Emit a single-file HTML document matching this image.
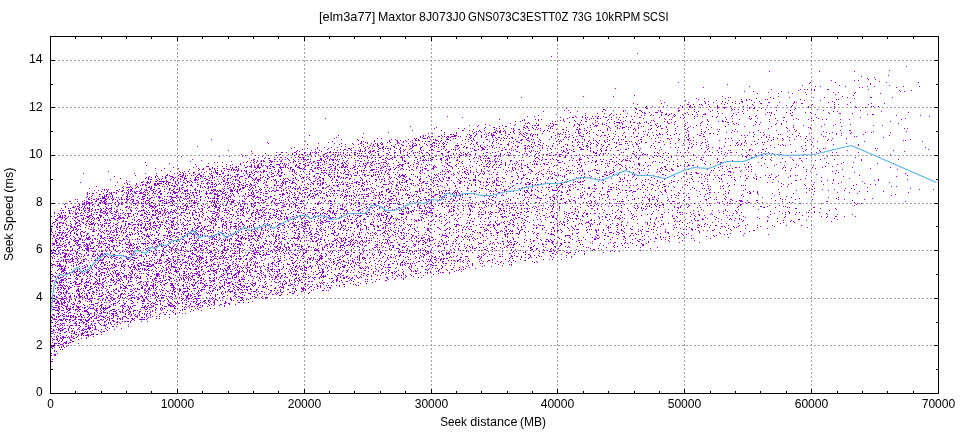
<!DOCTYPE html>
<html><head><meta charset="utf-8"><title>Seek plot</title>
<style>html,body{margin:0;padding:0;background:#fff;overflow:hidden}svg{display:block}text{font-family:"Liberation Sans",sans-serif;fill:#000}</style>
</head><body>
<svg width="960" height="432" viewBox="0 0 960 432">
<defs><filter id="gs" x="0" y="0" width="960" height="432" filterUnits="userSpaceOnUse" color-interpolation-filters="sRGB"><feColorMatrix type="saturate" values="0"/></filter></defs>
<rect width="960" height="432" fill="#fff"/>
<g shape-rendering="crispEdges" fill="none">
<path d="M177.5 36V393M304.5 36V393M431.5 36V393M557.5 36V393M684.5 36V393M811.5 36V393" stroke="#a0a0a0" stroke-width="1" stroke-dasharray="2 2"/>
<path d="M50 345.5H938M50 298.5H938M50 250.5H938M50 203.5H938M50 155.5H938M50 107.5H938M50 60.5H938" stroke="#a0a0a0" stroke-width="1" stroke-dasharray="2 2"/>
<path d="M75.5 394v-3M75.5 36v3M101.5 394v-3M101.5 36v3M126.5 394v-3M126.5 36v3M151.5 394v-3M151.5 36v3M177.5 394v-5M177.5 36v5M202.5 394v-3M202.5 36v3M228.5 394v-3M228.5 36v3M253.5 394v-3M253.5 36v3M278.5 394v-3M278.5 36v3M304.5 394v-5M304.5 36v5M329.5 394v-3M329.5 36v3M354.5 394v-3M354.5 36v3M380.5 394v-3M380.5 36v3M405.5 394v-3M405.5 36v3M431.5 394v-5M431.5 36v5M456.5 394v-3M456.5 36v3M481.5 394v-3M481.5 36v3M507.5 394v-3M507.5 36v3M532.5 394v-3M532.5 36v3M557.5 394v-5M557.5 36v5M583.5 394v-3M583.5 36v3M608.5 394v-3M608.5 36v3M634.5 394v-3M634.5 36v3M659.5 394v-3M659.5 36v3M684.5 394v-5M684.5 36v5M710.5 394v-3M710.5 36v3M735.5 394v-3M735.5 36v3M760.5 394v-3M760.5 36v3M786.5 394v-3M786.5 36v3M811.5 394v-5M811.5 36v5M837.5 394v-3M837.5 36v3M862.5 394v-3M862.5 36v3M887.5 394v-3M887.5 36v3M913.5 394v-3M913.5 36v3M50 369.5h3M939 369.5h-3M50 345.5h5M939 345.5h-5M50 322.5h3M939 322.5h-3M50 298.5h5M939 298.5h-5M50 274.5h3M939 274.5h-3M50 250.5h5M939 250.5h-5M50 226.5h3M939 226.5h-3M50 203.5h5M939 203.5h-5M50 179.5h3M939 179.5h-3M50 155.5h5M939 155.5h-5M50 131.5h3M939 131.5h-3M50 107.5h5M939 107.5h-5M50 84.5h3M939 84.5h-3M50 60.5h5M939 60.5h-5" stroke="#000" stroke-width="1"/>
<path d="M637 53.5h1M551 56.5h1M906 66.5h1M889 70.5h1M769 71.5h1m49 0h1m34 0h1M888 75.5h1M861 76.5h1M874 77.5h1M867 78.5h1M868 79.5h1m6 0h1M831 80.5h1m22 0h1m3 0h1M879 81.5h1M678 82.5h1m131 0h1m24 0h1m50 0h1m31 0h1M809 83.5h1m60 0h1M727 84.5h1m142 0h1M802 85.5h1m36 0h1m49 0h1M749 86.5h1m65 0h1m4 0h1m24 0h1m21 0h1m6 0h1m28 0h1m15 0h1M703 87.5h1m155 0h1m2 0h1m33 0h1M615 88.5h1M771 89.5h1m28 0h1m3 0h1m2 0h1m6 0h1m12 0h1h1m39 0h1M798 90.5h1m12 0h1m2 0h1m84 0h1m11 0h1M744 91.5h1m8 0h1m27 0h1m118 0h1m3 0h1M768 92.5h1m19 0h1m16 0h1m27 0h1m4 0h1m16 0h1M757 93.5h1m20 0h1m13 0h1m61 0h1m25 0h1M806 94.5h1m28 0h1M634 95.5h1m218 0h1M583 96.5h1m29 0h1m108 0h1m55 0h1m63 0h1M521 97.5h1m206 0h1m1 0h1m39 0h1m18 0h1m23 0h1m10 0h1m22 0h1m22 0h1h1m20 0h1M696 98.5h1m7 0h1m20 0h1m30 0h1m16 0h1m80 0h1M698 99.5h1m42 0h1m4 0h1m2 0h1m15 0h1m1 0h1m32 0h1m35 0h1m1 0h1M660 100.5h1m24 0h1m30 0h1m11 0h1m17 0h1m4 0h1m52 0h1m15 0h1M704 101.5h1m3 0h1m13 0h1m12 0h1m5 0h1h1m16 0h1m34 0h1m37 0h1M664 102.5h1m23 0h1m16 0h1m7 0h1m11 0h1m6 0h1m9 0h1m11 0h1m13 0h1h1m9 0h1m14 0h1m1 0h1m31 0h1m5 0h1m15 0h1M633 103.5h1m27 0h1m43 0h1m15 0h1m5 0h1m7 0h1m3 0h1m20 0h1h1m31 0h1m7 0h1h1m68 0h1m12 0h1M637 104.5h1m49 0h1h1m4 0h1m5 0h1m1 0h1m6 0h1m15 0h1m27 0h1m59 0h1m21 0h1m3 0h1m8 0h1m20 0h1M667 105.5h1m12 0h1m9 0h1m11 0h1m14 0h1m29 0h1m5 0h1m13 0h1m9 0h1m8 0h1m5 0h1m18 0h1M646 106.5h1m5 0h1m10 0h1m18 0h1m6 0h1h1m3 0h1m14 0h1m7 0h1m12 0h1m12 0h1m47 0h1m16 0h1m25 0h1m20 0h1m15 0h1m1 0h1m4 0h1M619 107.5h1m25 0h1m13 0h1m22 0h1m6 0h1m2 0h1m7 0h1m16 0h1h1m4 0h1h1h1m23 0h1m4 0h1m21 0h1m31 0h1m21 0h1m25 0h1m8 0h1M566 108.5h1m68 0h1h1m9 0h1h1m30 0h1m38 0h1m6 0h1m6 0h1m17 0h1m3 0h1h1m6 0h1m33 0h1m38 0h1M603 109.5h1h1m31 0h1m51 0h1m5 0h1m13 0h1m23 0h1m1 0h1m3 0h1m4 0h1m21 0h1m28 0h1m22 0h1M564 110.5h1m3 0h1m36 0h1m7 0h1m9 0h1m1 0h1m13 0h1h1m17 0h1m1 0h1m17 0h1h1m32 0h1m18 0h1m15 0h1m9 0h1m18 0h1m13 0h1m32 0h1m36 0h1M543 111.5h1m33 0h1m24 0h1m20 0h1m17 0h1m18 0h1m17 0h1m15 0h1m3 0h1m11 0h1m6 0h1m24 0h1m90 0h1m3 0h1m43 0h1M570 112.5h1m64 0h1m6 0h1m1 0h1m4 0h1m5 0h1h1h1m3 0h1h1m24 0h1m8 0h1m41 0h1m28 0h1m1 0h1m1 0h1m14 0h1m5 0h1m12 0h1m4 0h1m17 0h1m79 0h1M585 113.5h1m11 0h1m6 0h1m6 0h1m15 0h1m9 0h1m6 0h1h1m20 0h1m4 0h1m13 0h1m19 0h1m12 0h1m3 0h1m10 0h1m9 0h1m27 0h1m18 0h1m20 0h1m17 0h1m9 0h1h1m11 0h1M556 114.5h1m53 0h1m5 0h1m3 0h1m30 0h1m9 0h1m3 0h1h1m2 0h1m4 0h1m7 0h1m5 0h1m3 0h1m4 0h1m5 0h1h1h1m30 0h1m28 0h1m8 0h1m40 0h1m51 0h1m4 0h1h1M538 115.5h1m46 0h1m23 0h1m3 0h1m27 0h1m2 0h1m5 0h1m2 0h1m7 0h1m6 0h1m4 0h1m1 0h1m7 0h1m48 0h1m23 0h1m13 0h1m20 0h1h1m103 0h1m23 0h1M447 116.5h1m79 0h1m6 0h1m40 0h1m6 0h1m9 0h1m2 0h1m2 0h1m4 0h1m22 0h1m4 0h1m2 0h1m39 0h1m19 0h1m2 0h1m4 0h1m9 0h1m4 0h1m13 0h1m17 0h1m5 0h1m173 0h1M462 117.5h1m97 0h1m8 0h1m2 0h1h1m2 0h1m5 0h1m2 0h1m1 0h1m9 0h1m7 0h1h1m4 0h1m4 0h1m2 0h1m3 0h1m15 0h1h1m18 0h1m12 0h1m7 0h1m3 0h1m31 0h1m8 0h1m57 0h1h1m31 0h1m43 0h1M325 118.5h1m241 0h1m17 0h1m5 0h1m1 0h1m3 0h1h1m1 0h1m42 0h1m20 0h1m18 0h1m10 0h1m37 0h1m16 0h1m1 0h1m5 0h1m17 0h1m20 0h1m14 0h1m6 0h1m86 0h1M499 119.5h1m24 0h1m10 0h1m2 0h1m2 0h1m21 0h1m22 0h1m2 0h1m18 0h1m2 0h1m6 0h1m13 0h1m32 0h1m3 0h1m1 0h1m35 0h1m18 0h1m12 0h1m10 0h1m18 0h1m23 0h1m4 0h1m9 0h1m13 0h1m3 0h1m13 0h1m8 0h1m51 0h1M522 120.5h1m1 0h1m13 0h1m21 0h1m2 0h1m10 0h1m6 0h1m13 0h1m11 0h1m12 0h1m4 0h1m25 0h1m1 0h1m53 0h1m14 0h1m54 0h1m5 0h1m29 0h1M515 121.5h1m4 0h1m31 0h1m2 0h1m8 0h1m10 0h1m9 0h1h1m10 0h1m16 0h1m8 0h1m6 0h1m15 0h1m7 0h1m9 0h1m2 0h1m7 0h1m26 0h1m5 0h1m9 0h1m3 0h1h1m1 0h1m6 0h1m22 0h1m13 0h1m16 0h1m103 0h1M528 122.5h1m40 0h1m10 0h1m14 0h1m13 0h1m6 0h1h1h1h1m1 0h1m8 0h1m2 0h1h1m4 0h1m4 0h1m1 0h1m3 0h1m16 0h1m3 0h1m2 0h1m12 0h1m13 0h1m25 0h1h1m27 0h1m3 0h1m79 0h1M510 123.5h1m14 0h1m1 0h1m1 0h1m6 0h1m13 0h1m1 0h1m24 0h1m14 0h1m5 0h1m3 0h1m3 0h1m7 0h1m4 0h1m2 0h1m14 0h1m1 0h1h1m7 0h1m8 0h1m10 0h1h1m15 0h1m14 0h1m32 0h1m2 0h1m39 0h1m4 0h1m116 0h1M485 124.5h1m29 0h1m22 0h1m14 0h1m1 0h1h1m17 0h1m3 0h1h1m1 0h1m1 0h1m9 0h1m8 0h1m1 0h1m17 0h1m32 0h1m18 0h1m32 0h1m20 0h1m5 0h1m3 0h1m16 0h1m3 0h1m15 0h1m5 0h1m42 0h1m10 0h1m14 0h1M469 125.5h1m8 0h1m10 0h1m12 0h1m11 0h1m9 0h1m7 0h1m1 0h1h1m1 0h1h1m7 0h1m2 0h1m3 0h1m20 0h1m4 0h1m10 0h1m4 0h1h1h1m8 0h1m10 0h1m13 0h1m6 0h1m11 0h1h1m4 0h1m3 0h1m24 0h1m10 0h1m3 0h1m52 0h1m39 0h1m9 0h1m29 0h1m39 0h1m8 0h1M410 126.5h1m66 0h1m21 0h1m5 0h1h1m19 0h1h1m20 0h1m2 0h1h1m20 0h1m20 0h1m1 0h1m11 0h1m6 0h1m4 0h1m5 0h1m14 0h1m1 0h1m14 0h1m1 0h1m5 0h1m10 0h1m6 0h1m5 0h1m34 0h1m18 0h1m26 0h1m49 0h1m19 0h1M436 127.5h1m48 0h1m7 0h1h1m28 0h1h1m2 0h1m4 0h1m3 0h1m13 0h1m15 0h1m10 0h1m9 0h1m2 0h1m18 0h1m7 0h1m4 0h1h1h1m3 0h1m1 0h1m7 0h1m18 0h1m8 0h1m21 0h1m4 0h1m12 0h1m4 0h1m74 0h1m6 0h1m14 0h1m1 0h1M434 128.5h1m23 0h1m5 0h1m19 0h1m11 0h1m2 0h1m3 0h1m7 0h1m1 0h1m11 0h1m2 0h1m4 0h1m4 0h1m1 0h1m7 0h1m1 0h1m1 0h1m26 0h1m4 0h1m22 0h1m2 0h1m6 0h1m1 0h1m2 0h1m11 0h1m3 0h1m12 0h1m9 0h1h1m12 0h1m11 0h1m80 0h1m18 0h1m22 0h1m93 0h1m2 0h1M473 129.5h1m20 0h1m18 0h1m4 0h1h1m3 0h1m11 0h1m1 0h1m18 0h1m5 0h1h1m12 0h1h1m1 0h1h1m10 0h1m15 0h1m20 0h1m4 0h1m1 0h1m12 0h1m1 0h1m16 0h1m17 0h1m15 0h1m6 0h1m8 0h1m1 0h1m15 0h1m58 0h1M412 130.5h1m28 0h1m20 0h1h1m5 0h1m9 0h1m4 0h1m11 0h1m3 0h1m3 0h1m9 0h1m13 0h1h1m10 0h1m3 0h1m2 0h1m18 0h1m11 0h1m5 0h1m1 0h1m11 0h1m1 0h1m6 0h1m2 0h1m24 0h1m20 0h1m18 0h1m11 0h1m44 0h1m25 0h1m17 0h1m12 0h1m6 0h1m43 0h1m8 0h1h1M472 131.5h1m3 0h1m1 0h1m1 0h1m14 0h1m1 0h1m1 0h1h1m2 0h1m1 0h1m7 0h1m6 0h1m22 0h1m5 0h1m18 0h1m9 0h1m10 0h1m25 0h1m27 0h1m1 0h1m21 0h1m20 0h1m12 0h1m3 0h1m12 0h1m15 0h1m2 0h1m49 0h1m7 0h1m27 0h1m49 0h1m32 0h1M388 132.5h1m55 0h1m11 0h1m17 0h1m6 0h1m3 0h1m3 0h1m3 0h1h1h1m3 0h1h1m4 0h1m4 0h1m2 0h1m5 0h1m5 0h1m27 0h1m9 0h1m1 0h1m9 0h1m2 0h1m1 0h1m6 0h1m5 0h1m8 0h1h1m20 0h1m8 0h1m14 0h1m3 0h1m13 0h1m19 0h1m17 0h1m21 0h1m4 0h1m17 0h1m3 0h1m6 0h1m2 0h1m62 0h1m5 0h1m18 0h1m13 0h1m5 0h1m18 0h1M363 133.5h1m64 0h1m3 0h1m23 0h1m16 0h1m2 0h1m11 0h1m2 0h1m4 0h1m8 0h1m8 0h1m5 0h1m2 0h1m2 0h1h1m3 0h1m10 0h1m15 0h1m1 0h1m17 0h1h1m6 0h1m2 0h1m23 0h1m9 0h1m9 0h1m4 0h1m20 0h1m16 0h1m24 0h1m7 0h1h1m2 0h1m85 0h1m9 0h1m19 0h1m6 0h1m4 0h1m8 0h1M444 134.5h1m5 0h1h1m1 0h1m13 0h1m1 0h1m6 0h1m7 0h1m1 0h1m4 0h1m1 0h1m7 0h1m6 0h1h1m9 0h1m1 0h1m2 0h1m5 0h1m2 0h1m1 0h1m1 0h1m19 0h1m1 0h1m2 0h1m2 0h1m3 0h1m13 0h1m12 0h1m11 0h1m6 0h1m28 0h1m2 0h1m8 0h1m2 0h1h1m1 0h1m4 0h1m6 0h1m4 0h1m8 0h1m8 0h1m5 0h1m13 0h1m36 0h1m9 0h1m13 0h1m1 0h1m11 0h1m28 0h1m14 0h1m26 0h1M309 135.5h1m28 0h1m84 0h1m1 0h1m15 0h1m12 0h1h1h1m13 0h1h1m3 0h1m5 0h1m6 0h1m2 0h1h1h1h1m10 0h1m16 0h1m3 0h1m3 0h1m1 0h1m4 0h1m17 0h1m16 0h1m6 0h1h1m16 0h1m3 0h1m2 0h1h1m16 0h1m24 0h1m5 0h1m3 0h1m12 0h1m14 0h1m2 0h1m10 0h1h1m40 0h1m2 0h1m2 0h1m15 0h1m5 0h1m28 0h1m42 0h1m47 0h1M420 136.5h1m2 0h1m4 0h1m2 0h1h1m5 0h1h1m2 0h1m1 0h1m2 0h1h1m2 0h1h1h1h1h1m2 0h1m1 0h1m5 0h1m3 0h1m3 0h1m6 0h1m4 0h1m5 0h1m14 0h1m15 0h1h1m7 0h1m18 0h1m7 0h1m5 0h1m3 0h1m6 0h1m4 0h1h1h1m5 0h1m10 0h1m8 0h1m4 0h1m3 0h1m6 0h1m5 0h1m4 0h1h1m5 0h1m5 0h1m38 0h1m14 0h1h1m48 0h1m12 0h1m20 0h1m8 0h1m3 0h1m5 0h1m16 0h1m1 0h1m28 0h1m1 0h1M336 137.5h1m25 0h1m57 0h1m1 0h1m4 0h1m1 0h1m16 0h1m1 0h1m1 0h1m18 0h1m1 0h1m9 0h1m3 0h1m6 0h1m2 0h1m2 0h1h1m3 0h1m7 0h1h1m5 0h1m6 0h1m2 0h1m8 0h1m13 0h1m12 0h1m1 0h1m1 0h1m4 0h1m33 0h1m17 0h1m8 0h1m6 0h1m16 0h1m27 0h1m6 0h1m51 0h1m15 0h1m4 0h1m2 0h1m3 0h1m15 0h1m93 0h1M334 138.5h1m42 0h1m3 0h1m32 0h1m1 0h1m6 0h1h1h1m1 0h1m13 0h1m5 0h1m5 0h1m1 0h1m14 0h1m2 0h1m22 0h1m4 0h1m2 0h1m1 0h1m2 0h1m2 0h1m14 0h1h1m26 0h1m26 0h1m10 0h1m19 0h1m37 0h1m3 0h1m11 0h1h1m2 0h1m6 0h1m10 0h1m35 0h1m2 0h1m2 0h1m45 0h1m4 0h1m22 0h1m7 0h1m18 0h1m13 0h1M211 139.5h1m129 0h1m15 0h1m33 0h1m3 0h1m12 0h1m6 0h1m2 0h1m11 0h1m2 0h1m1 0h1m10 0h1h1h1m16 0h1m2 0h1m4 0h1m12 0h1h1m5 0h1m3 0h1m17 0h1m5 0h1h1m3 0h1m4 0h1m1 0h1m5 0h1m9 0h1m8 0h1m4 0h1m4 0h1m6 0h1m1 0h1m6 0h1m22 0h1m4 0h1m5 0h1m2 0h1m1 0h1m16 0h1h1m27 0h1m9 0h1m4 0h1m2 0h1h1m16 0h1m52 0h1m9 0h1m4 0h1m9 0h1m10 0h1m15 0h1m17 0h1m81 0h1M358 140.5h1m15 0h1m14 0h1m6 0h1h1m2 0h1m4 0h1m6 0h1m2 0h1h1m1 0h1h1m15 0h1h1h1m3 0h1m8 0h1m11 0h1m8 0h1m2 0h1m21 0h1m3 0h1m2 0h1m16 0h1h1m5 0h1h1m11 0h1m19 0h1m14 0h1m8 0h1m4 0h1m3 0h1m1 0h1m3 0h1m4 0h1m4 0h1m8 0h1m19 0h1m21 0h1m17 0h1m9 0h1m1 0h1m2 0h1m25 0h1m12 0h1m6 0h1m5 0h1m25 0h1m10 0h1m6 0h1m17 0h1m19 0h1m3 0h1m71 0h1m1 0h1M305 141.5h1m26 0h1m28 0h1m1 0h1m10 0h1m14 0h1m7 0h1m5 0h1m2 0h1m3 0h1m11 0h1m2 0h1m2 0h1h1m8 0h1m1 0h1m4 0h1m22 0h1m3 0h1m16 0h1m3 0h1m15 0h1m3 0h1m2 0h1h1m11 0h1m8 0h1m17 0h1m2 0h1m1 0h1m10 0h1m5 0h1m9 0h1m7 0h1m7 0h1m2 0h1m17 0h1h1m2 0h1m1 0h1m9 0h1m13 0h1m7 0h1m6 0h1m36 0h1m37 0h1m8 0h1m12 0h1m49 0h1m46 0h1m57 0h1M267 142.5h1m60 0h1m32 0h1m3 0h1m1 0h1m13 0h1m5 0h1m2 0h1m6 0h1h1m4 0h1m8 0h1m20 0h1h1m8 0h1m3 0h1m28 0h1h1m5 0h1m8 0h1m3 0h1m14 0h1m6 0h1h1m12 0h1m1 0h1m5 0h1m31 0h1m4 0h1m1 0h1m2 0h1m7 0h1m6 0h1m7 0h1m8 0h1m1 0h1m2 0h1m15 0h1m5 0h1m3 0h1h1m11 0h1h1m29 0h1m6 0h1m5 0h1m2 0h1m19 0h1m11 0h1m6 0h1m17 0h1m1 0h1m40 0h1m6 0h1M268 143.5h1m49 0h1m15 0h1m6 0h1m10 0h1m7 0h1h1m5 0h1m3 0h1m3 0h1m1 0h1m2 0h1m1 0h1m14 0h1m1 0h1m8 0h1m4 0h1m1 0h1m8 0h1m7 0h1m1 0h1m1 0h1m2 0h1m2 0h1m1 0h1m12 0h1m7 0h1m5 0h1m4 0h1m15 0h1m5 0h1m9 0h1m4 0h1m7 0h1m12 0h1m8 0h1m9 0h1m5 0h1m27 0h1m3 0h1m1 0h1m4 0h1m17 0h1m8 0h1m1 0h1m8 0h1m2 0h1m13 0h1m16 0h1m4 0h1m7 0h1m7 0h1m9 0h1m34 0h1m4 0h1m4 0h1m10 0h1m88 0h1M307 144.5h1m31 0h1m5 0h1m7 0h1m4 0h1m4 0h1m9 0h1m3 0h1m3 0h1h1m12 0h1m5 0h1m10 0h1m3 0h1m2 0h1m6 0h1m3 0h1h1m11 0h1m2 0h1m14 0h1m8 0h1m2 0h1m3 0h1m22 0h1h1m5 0h1h1m22 0h1m6 0h1h1m17 0h1m7 0h1m1 0h1m10 0h1m3 0h1m7 0h1m5 0h1m4 0h1m6 0h1h1m9 0h1h1h1m10 0h1m3 0h1h1m26 0h1m24 0h1m3 0h1m2 0h1m11 0h1m29 0h1m2 0h1m9 0h1m3 0h1m7 0h1m14 0h1m3 0h1m7 0h1m20 0h1m21 0h1m24 0h1M361 145.5h1m8 0h1m2 0h1m3 0h1h1m12 0h1m6 0h1m3 0h1h1m5 0h1m2 0h1m1 0h1h1h1m10 0h1m4 0h1m1 0h1m3 0h1m16 0h1h1h1h1m21 0h1m6 0h1m3 0h1m1 0h1m14 0h1m6 0h1m8 0h1h1m2 0h1m6 0h1m4 0h1m1 0h1m3 0h1m5 0h1m14 0h1m4 0h1m4 0h1m8 0h1h1m9 0h1m5 0h1m24 0h1m22 0h1m30 0h1m17 0h1m5 0h1m23 0h1m4 0h1m1 0h1m2 0h1m3 0h1m25 0h1m9 0h1m2 0h1m1 0h1m19 0h1m52 0h1M197 146.5h1m143 0h1m3 0h1m17 0h1m3 0h1m4 0h1m1 0h1m2 0h1m5 0h1m2 0h1m6 0h1h1m11 0h1m3 0h1m1 0h1h1m8 0h1m8 0h1h1m3 0h1m4 0h1m1 0h1h1m12 0h1m6 0h1m9 0h1m3 0h1m1 0h1m3 0h1m4 0h1m2 0h1m19 0h1m4 0h1h1m8 0h1m1 0h1m1 0h1m1 0h1m3 0h1m10 0h1m3 0h1m10 0h1m9 0h1m9 0h1m2 0h1m1 0h1m7 0h1m5 0h1m4 0h1m8 0h1m16 0h1m4 0h1m15 0h1m37 0h1m15 0h1m15 0h1m76 0h1m11 0h1M294 147.5h1m22 0h1m6 0h1m6 0h1m5 0h1m15 0h1m5 0h1m5 0h1m3 0h1m8 0h1m3 0h1h1m10 0h1m5 0h1m11 0h1m7 0h1h1m8 0h1m3 0h1m3 0h1m5 0h1m10 0h1m3 0h1m3 0h1m2 0h1h1m13 0h1h1m2 0h1m6 0h1m3 0h1m2 0h1m4 0h1m12 0h1m7 0h1m6 0h1m9 0h1m18 0h1m17 0h1h1m6 0h1m2 0h1m15 0h1m8 0h1m34 0h1m9 0h1m9 0h1m4 0h1m2 0h1m9 0h1m2 0h1m14 0h1m5 0h1m6 0h1m54 0h1m150 0h1M291 148.5h1m15 0h1m9 0h1m10 0h1m19 0h1h1m1 0h1m12 0h1m3 0h1m3 0h1m6 0h1h1m1 0h1m2 0h1m1 0h1h1m1 0h1m5 0h1m3 0h1m9 0h1h1m8 0h1m22 0h1m14 0h1m7 0h1m3 0h1m1 0h1m9 0h1h1m10 0h1m7 0h1m8 0h1m12 0h1h1m1 0h1m1 0h1m9 0h1m2 0h1m4 0h1m2 0h1m4 0h1m10 0h1m14 0h1m8 0h1m10 0h1m9 0h1m16 0h1m9 0h1m1 0h1m14 0h1m32 0h1m12 0h1m6 0h1m10 0h1m1 0h1m44 0h1m35 0h1m14 0h1m5 0h1m1 0h1m49 0h1m1 0h1M302 149.5h1m12 0h1m11 0h1m6 0h1m5 0h1m3 0h1h1m4 0h1m9 0h1m4 0h1m12 0h1m4 0h1m6 0h1m8 0h1m3 0h1m1 0h1m3 0h1m10 0h1m10 0h1h1m8 0h1m4 0h1m4 0h1m1 0h1m1 0h1m1 0h1m16 0h1m3 0h1m3 0h1h1h1m2 0h1m17 0h1h1m2 0h1m5 0h1m9 0h1m25 0h1m14 0h1m2 0h1m3 0h1m6 0h1h1h1h1m3 0h1m12 0h1m5 0h1m13 0h1m4 0h1h1m34 0h1m45 0h1m34 0h1m6 0h1h1m11 0h1h1m42 0h1m27 0h1m93 0h1M228 150.5h1m68 0h1m13 0h1m7 0h1m17 0h1m5 0h1m3 0h1m3 0h1m3 0h1m2 0h1m1 0h1m4 0h1m4 0h1m2 0h1h1m13 0h1m5 0h1m5 0h1m3 0h1m7 0h1m8 0h1m1 0h1m5 0h1m1 0h1m1 0h1m11 0h1m9 0h1m3 0h1m14 0h1h1h1m4 0h1m19 0h1h1m8 0h1m1 0h1m17 0h1m1 0h1m6 0h1m6 0h1m13 0h1m1 0h1m3 0h1m3 0h1m18 0h1m6 0h1m3 0h1m3 0h1h1m3 0h1m6 0h1h1m20 0h1m19 0h1m17 0h1m9 0h1m29 0h1m10 0h1m1 0h1m18 0h1m2 0h1m52 0h1m13 0h1m27 0h1m28 0h1m16 0h1M251 151.5h1m44 0h1m2 0h1m15 0h1m5 0h1m8 0h1m28 0h1h1m1 0h1m1 0h1m4 0h1h1m1 0h1h1m3 0h1h1m4 0h1m16 0h1m2 0h1m7 0h1m7 0h1m17 0h1h1h1m8 0h1h1m21 0h1m26 0h1m17 0h1h1m7 0h1m3 0h1m1 0h1m3 0h1m1 0h1m25 0h1h1m8 0h1h1m15 0h1m2 0h1m7 0h1m31 0h1m71 0h1m3 0h1m11 0h1m43 0h1m29 0h1m7 0h1m16 0h1m83 0h1M276 152.5h1m4 0h1h1m3 0h1m7 0h1h1m8 0h1h1m4 0h1m1 0h1m1 0h1m1 0h1m1 0h1m8 0h1m1 0h1h1m2 0h1m1 0h1h1m1 0h1m1 0h1m2 0h1m3 0h1m3 0h1m2 0h1h1m12 0h1m1 0h1m4 0h1m13 0h1m4 0h1h1m4 0h1m6 0h1m5 0h1m1 0h1m1 0h1m3 0h1m4 0h1h1m19 0h1h1m11 0h1m2 0h1m4 0h1m17 0h1h1m4 0h1m2 0h1m11 0h1m1 0h1m9 0h1m10 0h1m8 0h1m11 0h1m5 0h1m4 0h1m2 0h1m2 0h1m24 0h1h1m1 0h1m24 0h1m1 0h1m12 0h1m4 0h1m12 0h1m2 0h1m7 0h1m11 0h1m2 0h1m4 0h1m2 0h1m15 0h1m7 0h1m5 0h1m6 0h1m4 0h1h1m4 0h1m9 0h1m11 0h1m2 0h1m6 0h1m11 0h1m10 0h1m19 0h1m4 0h1m15 0h1m3 0h1m21 0h1M252 153.5h1m12 0h1m26 0h1m3 0h1m7 0h1m5 0h1m4 0h1h1m8 0h1h1m16 0h1m10 0h1m2 0h1m1 0h1m1 0h1m3 0h1m3 0h1m8 0h1m7 0h1h1m6 0h1m5 0h1m8 0h1m3 0h1m5 0h1m2 0h1m5 0h1m3 0h1m8 0h1h1m10 0h1m2 0h1m4 0h1m3 0h1m1 0h1m7 0h1m7 0h1m6 0h1m9 0h1m9 0h1m13 0h1m1 0h1m9 0h1m1 0h1m10 0h1m17 0h1h1m26 0h1h1m3 0h1m2 0h1m1 0h1m2 0h1m23 0h1h1m9 0h1m14 0h1m4 0h1m4 0h1m52 0h1m5 0h1m41 0h1m2 0h1M241 154.5h1m37 0h1h1m7 0h1m3 0h1m3 0h1m2 0h1m1 0h1h1m4 0h1m1 0h1h1m7 0h1m4 0h1h1m7 0h1h1m1 0h1m2 0h1m1 0h1m4 0h1m3 0h1m4 0h1h1m15 0h1m6 0h1m9 0h1m18 0h1m21 0h1m12 0h1m10 0h1m5 0h1m3 0h1m1 0h1h1m2 0h1h1m4 0h1m24 0h1m3 0h1m3 0h1m13 0h1m4 0h1m7 0h1m7 0h1m2 0h1h1m7 0h1h1m2 0h1h1h1m17 0h1m19 0h1m3 0h1m9 0h1m5 0h1m14 0h1m7 0h1m1 0h1h1m1 0h1m45 0h1m30 0h1m16 0h1m6 0h1m6 0h1m9 0h1m14 0h1h1m30 0h1m77 0h1M245 155.5h1m9 0h1m12 0h1m7 0h1m17 0h1m10 0h1m21 0h1m9 0h1m9 0h1m1 0h1m8 0h1m2 0h1m11 0h1m4 0h1m4 0h1m6 0h1m6 0h1m6 0h1m2 0h1m6 0h1m9 0h1m4 0h1m6 0h1m11 0h1m1 0h1m9 0h1h1m4 0h1m18 0h1m10 0h1m3 0h1m7 0h1h1m3 0h1m12 0h1m12 0h1m9 0h1h1m2 0h1m5 0h1m5 0h1m5 0h1m4 0h1m5 0h1m4 0h1m1 0h1m4 0h1m1 0h1m2 0h1m36 0h1m3 0h1m13 0h1m1 0h1m19 0h1m10 0h1m5 0h1m14 0h1m1 0h1m36 0h1m1 0h1m6 0h1m4 0h1m41 0h1m28 0h1m4 0h1M181 156.5h1m37 0h1m9 0h1m12 0h1m19 0h1m35 0h1m9 0h1m2 0h1m3 0h1m4 0h1m2 0h1m2 0h1m1 0h1m1 0h1m4 0h1m1 0h1m3 0h1m2 0h1m12 0h1m2 0h1m2 0h1h1h1m1 0h1m13 0h1m12 0h1m6 0h1m6 0h1m13 0h1h1m11 0h1m9 0h1h1m1 0h1m10 0h1m5 0h1m3 0h1m9 0h1h1m3 0h1m1 0h1m7 0h1h1m2 0h1m1 0h1m28 0h1m4 0h1m24 0h1h1m4 0h1m18 0h1m42 0h1m7 0h1m16 0h1m4 0h1m2 0h1m10 0h1m9 0h1m1 0h1m41 0h1m16 0h1m2 0h1h1m80 0h1M258 157.5h1m6 0h1m8 0h1m2 0h1m2 0h1h1m3 0h1m5 0h1m3 0h1m3 0h1h1m1 0h1h1m20 0h1m2 0h1m6 0h1m10 0h1m5 0h1m15 0h1m1 0h1m2 0h1m2 0h1m3 0h1h1m5 0h1m5 0h1m1 0h1h1m4 0h1h1h1m1 0h1m4 0h1m5 0h1h1m3 0h1m3 0h1m7 0h1h1m9 0h1m5 0h1m1 0h1m2 0h1m2 0h1m1 0h1m14 0h1m1 0h1m3 0h1m7 0h1m25 0h1m7 0h1m13 0h1h1m4 0h1m21 0h1h1m5 0h1m8 0h1m6 0h1m4 0h1m20 0h1m2 0h1m14 0h1m4 0h1m2 0h1m13 0h1m8 0h1m5 0h1m2 0h1m24 0h1m4 0h1m1 0h1m42 0h1m4 0h1h1m1 0h1m7 0h1m8 0h1m18 0h1m64 0h1M249 158.5h1m14 0h1m3 0h1h1m17 0h1m15 0h1m16 0h1h1m5 0h1m2 0h1m11 0h1m5 0h1m5 0h1m4 0h1m1 0h1m5 0h1m3 0h1m13 0h1m1 0h1m2 0h1h1m10 0h1m17 0h1m7 0h1m1 0h1m9 0h1h1m5 0h1m1 0h1m23 0h1m4 0h1m4 0h1m1 0h1m1 0h1h1h1m5 0h1m1 0h1m37 0h1m2 0h1m13 0h1m20 0h1m5 0h1m8 0h1m38 0h1m2 0h1m7 0h1m10 0h1m67 0h1m5 0h1m27 0h1m9 0h1m20 0h1m16 0h1h1m5 0h1m17 0h1M192 159.5h1m60 0h1h1m19 0h1h1m3 0h1m2 0h1m2 0h1m2 0h1m4 0h1m4 0h1m2 0h1m1 0h1h1h1m1 0h1h1m1 0h1m9 0h1h1m3 0h1m3 0h1m1 0h1h1h1m1 0h1m1 0h1m1 0h1m35 0h1m6 0h1h1m4 0h1h1m2 0h1m9 0h1m14 0h1m5 0h1m1 0h1m5 0h1h1m3 0h1m3 0h1h1m4 0h1h1m9 0h1m11 0h1m10 0h1m13 0h1m4 0h1m39 0h1m2 0h1m2 0h1h1m3 0h1m2 0h1m2 0h1m22 0h1h1h1m18 0h1m2 0h1m6 0h1h1m7 0h1m3 0h1m1 0h1m12 0h1m25 0h1m12 0h1m12 0h1m9 0h1h1m15 0h1m47 0h1m4 0h1m21 0h1m27 0h1m13 0h1m26 0h1m36 0h1M201 160.5h1m49 0h1m1 0h1m3 0h1m3 0h1m1 0h1m5 0h1h1m10 0h1m7 0h1m4 0h1m11 0h1m10 0h1h1h1m1 0h1m1 0h1m5 0h1m2 0h1h1m2 0h1m6 0h1m3 0h1m7 0h1m1 0h1h1m5 0h1m3 0h1m9 0h1m6 0h1m10 0h1m5 0h1m1 0h1m9 0h1m5 0h1m1 0h1h1h1m1 0h1m1 0h1m1 0h1m10 0h1m3 0h1m1 0h1m8 0h1h1m23 0h1m3 0h1m1 0h1m1 0h1m4 0h1m6 0h1m8 0h1h1m7 0h1m1 0h1m1 0h1m10 0h1m6 0h1m15 0h1h1m10 0h1m2 0h1m3 0h1m2 0h1m12 0h1m3 0h1m9 0h1m15 0h1m2 0h1h1h1m1 0h1m36 0h1m27 0h1m7 0h1m29 0h1m38 0h1m21 0h1m7 0h1m13 0h1m45 0h1M190 161.5h1m40 0h1m15 0h1m6 0h1m2 0h1m2 0h1h1m1 0h1h1m5 0h1h1h1m1 0h1m2 0h1m2 0h1h1m11 0h1m1 0h1m2 0h1m4 0h1m6 0h1m2 0h1h1m9 0h1m1 0h1m11 0h1m7 0h1m13 0h1h1m10 0h1h1m1 0h1m10 0h1m17 0h1h1m11 0h1m41 0h1m2 0h1m7 0h1m3 0h1m2 0h1m7 0h1m3 0h1h1m1 0h1m2 0h1h1m1 0h1m11 0h1m5 0h1m16 0h1m1 0h1m1 0h1m24 0h1m25 0h1m6 0h1h1m4 0h1h1m6 0h1m2 0h1m3 0h1m4 0h1m8 0h1m2 0h1m19 0h1m1 0h1m13 0h1m3 0h1m31 0h1m12 0h1m11 0h1m10 0h1m43 0h1m16 0h1M145 162.5h1m68 0h1m2 0h1m4 0h1m20 0h1m2 0h1m3 0h1m2 0h1m2 0h1m12 0h1m1 0h1m18 0h1m2 0h1m13 0h1m1 0h1m3 0h1m3 0h1h1m1 0h1m3 0h1m8 0h1m8 0h1m1 0h1m10 0h1m11 0h1h1m1 0h1m1 0h1m8 0h1m1 0h1h1h1m12 0h1m9 0h1m5 0h1m3 0h1m4 0h1m17 0h1m3 0h1m3 0h1h1m10 0h1m20 0h1m5 0h1m6 0h1m5 0h1m3 0h1m11 0h1m12 0h1m17 0h1m9 0h1h1h1m16 0h1m2 0h1m3 0h1m6 0h1m3 0h1m18 0h1m30 0h1m6 0h1m6 0h1m2 0h1m22 0h1m1 0h1m29 0h1m2 0h1h1m1 0h1m24 0h1m9 0h1m21 0h1m45 0h1m16 0h1m9 0h1M169 163.5h1m38 0h1m31 0h1m13 0h1m4 0h1m1 0h1m18 0h1m1 0h1m1 0h1m3 0h1m10 0h1h1m4 0h1m5 0h1m3 0h1m2 0h1m7 0h1m8 0h1m5 0h1h1m2 0h1m2 0h1m10 0h1m3 0h1m1 0h1m1 0h1m3 0h1m4 0h1m1 0h1h1m6 0h1m1 0h1m4 0h1m11 0h1m1 0h1h1m7 0h1h1m28 0h1h1m10 0h1m3 0h1m13 0h1m10 0h1m2 0h1m14 0h1m8 0h1m1 0h1m4 0h1m12 0h1m1 0h1m6 0h1h1m6 0h1m12 0h1m40 0h1m1 0h1m1 0h1m8 0h1m19 0h1h1m37 0h1m26 0h1m59 0h1m63 0h1m12 0h1m35 0h1m15 0h1M195 164.5h1m30 0h1m5 0h1m7 0h1m10 0h1m6 0h1m2 0h1m8 0h1h1m4 0h1h1h1h1m4 0h1m1 0h1m9 0h1m6 0h1h1m3 0h1m9 0h1m3 0h1m1 0h1m4 0h1h1m1 0h1m4 0h1h1m4 0h1m2 0h1m8 0h1m7 0h1m2 0h1m3 0h1m3 0h1m8 0h1m3 0h1m11 0h1h1m1 0h1h1m9 0h1m4 0h1m2 0h1m4 0h1m2 0h1m17 0h1m8 0h1m24 0h1m4 0h1m2 0h1m4 0h1m1 0h1m3 0h1h1m3 0h1m3 0h1m2 0h1m5 0h1m2 0h1m5 0h1m4 0h1m1 0h1m1 0h1h1m2 0h1m3 0h1m1 0h1h1m30 0h1h1m5 0h1m11 0h1m3 0h1m14 0h1m2 0h1h1m13 0h1m3 0h1h1m27 0h1m5 0h1m14 0h1m16 0h1m4 0h1m9 0h1m23 0h1m5 0h1m25 0h1m19 0h1m40 0h1M146 165.5h1m83 0h1m13 0h1m6 0h1m2 0h1m2 0h1h1m2 0h1m1 0h1m1 0h1m3 0h1m9 0h1m3 0h1m1 0h1m2 0h1m6 0h1h1m2 0h1m5 0h1m1 0h1h1m3 0h1m4 0h1h1m1 0h1m12 0h1m3 0h1m4 0h1h1m3 0h1m5 0h1m5 0h1m4 0h1h1m5 0h1h1m7 0h1m16 0h1h1m2 0h1h1m7 0h1m16 0h1m6 0h1m7 0h1m5 0h1h1m5 0h1m13 0h1m9 0h1m13 0h1m5 0h1m5 0h1m9 0h1m5 0h1m2 0h1h1m28 0h1m1 0h1m15 0h1m8 0h1m13 0h1m11 0h1m7 0h1m5 0h1m3 0h1m13 0h1m3 0h1m4 0h1m1 0h1m26 0h1m2 0h1m7 0h1h1m2 0h1h1m36 0h1m30 0h1m12 0h1m9 0h1m13 0h1m14 0h1M196 166.5h1m9 0h1h1h1m8 0h1m4 0h1m3 0h1m9 0h1m1 0h1m8 0h1m1 0h1h1h1m2 0h1m2 0h1h1m3 0h1m3 0h1h1m2 0h1m1 0h1h1m6 0h1m4 0h1m9 0h1m2 0h1m6 0h1m24 0h1h1m3 0h1m5 0h1m1 0h1m1 0h1h1m7 0h1h1m2 0h1m1 0h1m1 0h1m2 0h1m3 0h1m12 0h1m1 0h1h1m1 0h1m1 0h1m9 0h1m2 0h1m5 0h1m4 0h1m3 0h1m7 0h1m7 0h1m1 0h1m8 0h1m5 0h1h1m4 0h1m3 0h1m2 0h1m8 0h1m10 0h1h1m1 0h1h1m1 0h1m2 0h1m26 0h1m7 0h1m13 0h1m11 0h1m14 0h1m5 0h1m6 0h1m26 0h1m13 0h1m24 0h1m16 0h1h1m11 0h1h1m5 0h1m2 0h1m9 0h1m22 0h1m1 0h1m3 0h1m21 0h1m2 0h1m73 0h1m6 0h1M173 167.5h1m19 0h1m18 0h1m17 0h1m1 0h1m2 0h1h1m8 0h1h1m4 0h1m2 0h1h1m1 0h1h1h1h1m6 0h1m5 0h1h1m4 0h1h1h1h1h1m1 0h1m1 0h1m2 0h1h1m5 0h1h1h1m4 0h1m6 0h1m3 0h1m1 0h1h1h1m3 0h1m4 0h1h1m5 0h1m3 0h1m1 0h1h1m1 0h1h1m1 0h1m5 0h1h1m10 0h1m4 0h1m5 0h1m1 0h1m2 0h1m1 0h1m9 0h1m2 0h1m1 0h1m10 0h1m6 0h1m3 0h1m1 0h1m10 0h1h1m1 0h1m9 0h1m5 0h1m13 0h1m3 0h1m17 0h1m3 0h1m3 0h1m1 0h1m1 0h1m7 0h1m3 0h1m1 0h1m6 0h1m5 0h1h1m5 0h1m14 0h1m10 0h1m19 0h1m24 0h1m7 0h1m11 0h1m3 0h1m2 0h1m28 0h1m3 0h1m52 0h1m16 0h1h1m2 0h1m5 0h1m2 0h1m18 0h1m15 0h1m1 0h1m9 0h1m7 0h1m8 0h1m9 0h1m29 0h1m37 0h1M155 168.5h1m8 0h1m13 0h1m19 0h1m4 0h1m5 0h1m2 0h1m1 0h1m2 0h1m5 0h1h1m1 0h1m5 0h1m5 0h1m17 0h1m2 0h1m7 0h1m1 0h1h1m9 0h1m7 0h1m1 0h1m8 0h1h1h1m1 0h1m10 0h1h1m1 0h1m2 0h1h1m3 0h1m5 0h1m2 0h1h1m14 0h1m1 0h1m4 0h1m6 0h1m15 0h1h1m4 0h1m3 0h1m4 0h1m5 0h1h1m13 0h1m7 0h1h1h1m5 0h1h1m18 0h1m5 0h1m5 0h1m19 0h1m27 0h1m2 0h1m5 0h1h1m43 0h1m10 0h1m42 0h1m5 0h1m10 0h1m6 0h1m15 0h1m1 0h1m8 0h1m42 0h1m7 0h1m6 0h1m2 0h1m49 0h1m8 0h1m23 0h1m54 0h1M189 169.5h1m9 0h1m2 0h1h1m5 0h1h1m3 0h1m12 0h1h1h1m1 0h1m1 0h1h1m1 0h1m1 0h1m16 0h1m18 0h1m3 0h1m2 0h1m8 0h1m1 0h1h1m8 0h1m1 0h1h1m4 0h1h1m6 0h1m11 0h1m4 0h1m1 0h1m6 0h1m2 0h1m6 0h1h1m15 0h1h1h1h1m1 0h1m11 0h1h1h1m3 0h1m5 0h1m2 0h1m2 0h1m4 0h1h1m9 0h1m2 0h1m7 0h1m11 0h1m1 0h1m14 0h1m3 0h1m9 0h1m4 0h1m12 0h1h1m7 0h1m8 0h1m2 0h1m2 0h1m10 0h1h1m12 0h1m4 0h1m14 0h1m18 0h1m11 0h1h1m17 0h1m5 0h1m6 0h1m8 0h1m3 0h1m8 0h1m8 0h1m7 0h1h1m4 0h1h1m15 0h1m18 0h1m19 0h1m18 0h1m4 0h1m54 0h1m35 0h1m54 0h1M161 170.5h1m36 0h1m16 0h1m1 0h1m3 0h1m2 0h1m6 0h1m1 0h1m1 0h1m1 0h1h1m2 0h1m2 0h1m1 0h1m6 0h1m9 0h1h1m6 0h1m6 0h1m2 0h1m10 0h1m1 0h1m17 0h1m8 0h1m1 0h1h1m1 0h1m2 0h1m2 0h1m1 0h1m3 0h1m5 0h1m3 0h1m10 0h1m1 0h1m1 0h1h1m1 0h1m3 0h1h1h1m7 0h1m1 0h1m3 0h1m2 0h1m8 0h1m10 0h1m3 0h1m6 0h1m1 0h1m4 0h1h1m13 0h1m6 0h1m17 0h1m2 0h1m10 0h1m5 0h1m1 0h1m16 0h1m2 0h1m3 0h1m17 0h1m9 0h1m18 0h1m6 0h1h1m1 0h1m1 0h1m6 0h1m2 0h1m9 0h1m3 0h1h1m1 0h1m13 0h1m27 0h1m1 0h1m17 0h1m5 0h1m4 0h1h1m37 0h1m1 0h1m5 0h1m21 0h1m43 0h1m4 0h1m45 0h1M108 171.5h1m61 0h1m8 0h1m4 0h1m3 0h1m17 0h1m4 0h1m3 0h1m5 0h1m6 0h1m8 0h1m3 0h1m3 0h1h1m4 0h1m3 0h1h1m1 0h1m1 0h1m2 0h1h1m1 0h1m8 0h1m2 0h1h1m9 0h1m2 0h1m1 0h1m5 0h1m2 0h1m5 0h1m2 0h1h1m31 0h1m3 0h1m7 0h1m3 0h1m14 0h1m1 0h1m6 0h1m34 0h1m21 0h1m1 0h1m2 0h1h1m1 0h1m8 0h1m4 0h1h1m4 0h1m5 0h1m4 0h1m1 0h1m4 0h1m18 0h1m3 0h1m8 0h1m1 0h1m8 0h1h1m6 0h1m7 0h1m1 0h1m1 0h1m14 0h1m10 0h1m2 0h1m1 0h1m5 0h1m1 0h1m15 0h1m3 0h1m3 0h1m8 0h1m4 0h1h1m8 0h1m18 0h1m1 0h1m9 0h1m54 0h1m3 0h1h1h1m9 0h1m7 0h1m2 0h1m54 0h1m3 0h1m21 0h1M180 172.5h1m1 0h1m10 0h1h1m6 0h1m2 0h1m8 0h1m1 0h1h1h1m5 0h1m10 0h1m11 0h1m2 0h1m1 0h1m2 0h1m2 0h1m3 0h1m1 0h1m5 0h1m1 0h1m6 0h1m2 0h1h1m11 0h1m1 0h1m24 0h1h1m1 0h1h1m3 0h1m1 0h1m2 0h1m2 0h1m2 0h1m3 0h1m3 0h1m6 0h1m1 0h1m5 0h1m5 0h1m3 0h1m1 0h1m2 0h1m2 0h1m3 0h1m2 0h1m4 0h1m3 0h1m21 0h1m2 0h1m17 0h1m7 0h1m8 0h1m4 0h1m1 0h1m2 0h1m2 0h1m2 0h1m3 0h1m6 0h1m8 0h1m3 0h1m7 0h1m10 0h1m11 0h1m9 0h1m15 0h1m15 0h1m25 0h1m7 0h1m1 0h1m2 0h1m2 0h1h1m5 0h1m13 0h1m5 0h1m8 0h1m7 0h1m3 0h1m25 0h1m4 0h1m3 0h1h1m13 0h1m19 0h1m2 0h1m104 0h1m15 0h1M83 173.5h1m50 0h1m10 0h1m10 0h1m17 0h1m2 0h1m5 0h1m1 0h1m3 0h1m3 0h1m5 0h1m9 0h1m1 0h1m4 0h1h1m4 0h1h1m19 0h1m2 0h1m5 0h1m19 0h1h1m3 0h1m3 0h1m13 0h1m13 0h1m6 0h1h1h1m4 0h1m2 0h1m10 0h1m3 0h1m1 0h1m9 0h1m3 0h1m23 0h1m5 0h1m32 0h1m3 0h1m13 0h1m6 0h1m7 0h1m4 0h1m6 0h1m2 0h1m11 0h1m1 0h1m1 0h1m32 0h1m12 0h1m5 0h1m4 0h1m4 0h1m2 0h1m2 0h1m16 0h1m3 0h1m5 0h1m4 0h1m12 0h1h1m11 0h1h1m27 0h1m46 0h1m9 0h1h1h1m136 0h1m69 0h1M167 174.5h1m11 0h1h1m2 0h1m11 0h1m2 0h1h1m3 0h1m6 0h1m6 0h1m1 0h1h1m7 0h1m7 0h1h1h1m8 0h1m1 0h1h1m3 0h1m5 0h1m6 0h1m3 0h1m6 0h1m5 0h1m7 0h1m3 0h1m4 0h1m4 0h1m2 0h1m10 0h1m7 0h1h1h1m3 0h1m10 0h1h1h1h1m1 0h1m11 0h1m1 0h1h1m7 0h1m1 0h1m1 0h1m1 0h1m4 0h1m3 0h1h1m5 0h1m3 0h1m2 0h1m2 0h1m5 0h1m1 0h1m20 0h1m1 0h1m3 0h1m1 0h1m1 0h1m6 0h1m2 0h1m11 0h1m1 0h1m4 0h1m5 0h1m3 0h1m5 0h1m1 0h1m4 0h1h1m8 0h1m16 0h1m1 0h1m9 0h1m2 0h1m3 0h1h1m7 0h1m2 0h1m3 0h1m7 0h1m17 0h1m19 0h1h1m3 0h1m3 0h1m4 0h1m5 0h1m7 0h1m1 0h1m12 0h1m14 0h1h1m10 0h1m11 0h1m3 0h1h1m9 0h1m3 0h1m3 0h1m12 0h1m1 0h1m30 0h1m15 0h1m44 0h1M135 175.5h1m20 0h1m9 0h1h1m1 0h1m8 0h1m3 0h1h1m1 0h1m1 0h1m3 0h1m1 0h1m3 0h1m2 0h1h1m9 0h1h1m12 0h1m1 0h1h1m1 0h1m6 0h1m6 0h1m4 0h1m3 0h1m6 0h1m6 0h1m6 0h1m1 0h1m2 0h1h1h1m11 0h1m5 0h1m14 0h1m9 0h1m3 0h1m8 0h1m10 0h1m2 0h1m2 0h1h1h1m2 0h1m4 0h1m2 0h1h1m2 0h1m1 0h1m1 0h1m23 0h1m1 0h1h1h1h1m23 0h1m6 0h1m1 0h1m15 0h1m7 0h1m13 0h1m2 0h1m38 0h1m5 0h1h1m30 0h1h1m1 0h1m1 0h1m3 0h1m16 0h1m7 0h1m16 0h1h1m9 0h1m10 0h1m5 0h1m2 0h1m6 0h1m8 0h1m11 0h1m7 0h1m33 0h1m1 0h1m4 0h1m2 0h1m3 0h1m6 0h1m1 0h1m14 0h1m19 0h1m3 0h1m8 0h1m11 0h1m4 0h1m1 0h1m8 0h1m52 0h1m47 0h1M114 176.5h1m34 0h1m5 0h1m1 0h1m4 0h1m2 0h1m4 0h1h1h1m7 0h1h1h1m2 0h1m10 0h1m3 0h1h1m1 0h1m1 0h1m2 0h1m3 0h1m3 0h1m2 0h1m1 0h1m2 0h1m7 0h1m1 0h1h1m1 0h1m2 0h1h1h1m5 0h1h1h1m12 0h1m4 0h1m2 0h1h1h1m5 0h1h1m19 0h1m6 0h1m5 0h1h1m4 0h1m9 0h1m1 0h1m2 0h1m2 0h1h1h1m11 0h1m13 0h1m5 0h1h1m5 0h1m1 0h1m2 0h1m5 0h1m8 0h1m1 0h1m2 0h1h1m1 0h1m8 0h1m1 0h1m2 0h1m8 0h1m8 0h1m5 0h1m30 0h1m35 0h1h1m5 0h1m24 0h1m6 0h1m11 0h1m1 0h1m19 0h1m6 0h1m10 0h1h1m29 0h1m24 0h1m10 0h1m4 0h1m8 0h1m8 0h1m11 0h1m35 0h1m7 0h1m7 0h1m19 0h1m13 0h1m52 0h1m52 0h1M146 177.5h1m1 0h1m2 0h1m3 0h1m9 0h1h1m5 0h1h1m1 0h1m6 0h1m1 0h1m10 0h1m1 0h1h1m3 0h1m7 0h1m1 0h1m1 0h1m8 0h1m7 0h1m3 0h1m3 0h1m8 0h1m2 0h1m4 0h1m3 0h1m1 0h1m2 0h1m3 0h1m25 0h1m6 0h1h1m2 0h1m2 0h1m6 0h1m2 0h1h1m9 0h1m3 0h1m3 0h1m2 0h1m1 0h1m2 0h1h1m12 0h1m17 0h1m10 0h1m1 0h1m2 0h1m4 0h1m5 0h1m11 0h1m8 0h1m4 0h1m2 0h1m1 0h1m5 0h1m3 0h1m1 0h1h1m6 0h1m5 0h1m1 0h1m1 0h1m8 0h1m6 0h1m9 0h1m4 0h1h1m3 0h1m15 0h1m4 0h1m13 0h1m10 0h1m3 0h1m11 0h1m11 0h1m3 0h1m1 0h1m7 0h1m8 0h1m19 0h1m4 0h1m7 0h1m18 0h1m47 0h1m1 0h1m13 0h1m2 0h1m12 0h1m2 0h1m18 0h1m6 0h1m7 0h1m1 0h1m4 0h1m12 0h1m32 0h1M120 178.5h1m24 0h1m2 0h1m9 0h1m3 0h1m2 0h1m5 0h1m2 0h1m3 0h1m1 0h1m3 0h1h1h1m3 0h1m4 0h1m4 0h1m3 0h1h1m3 0h1m2 0h1m11 0h1m2 0h1h1m1 0h1m8 0h1m5 0h1h1m5 0h1m2 0h1h1m3 0h1m6 0h1h1m14 0h1m1 0h1m1 0h1m4 0h1h1m1 0h1m5 0h1m1 0h1m4 0h1m6 0h1m2 0h1m3 0h1h1m8 0h1m7 0h1m2 0h1m1 0h1m3 0h1h1m10 0h1m7 0h1m14 0h1m5 0h1m5 0h1m5 0h1h1m5 0h1m10 0h1m12 0h1m5 0h1m3 0h1m4 0h1h1m10 0h1m4 0h1m2 0h1m18 0h1m1 0h1m6 0h1m6 0h1h1m16 0h1h1m3 0h1h1m5 0h1m2 0h1m11 0h1m2 0h1h1m27 0h1m2 0h1m11 0h1m15 0h1m8 0h1m3 0h1m11 0h1m17 0h1m9 0h1m16 0h1m9 0h1m13 0h1m13 0h1m1 0h1m24 0h1h1m6 0h1m1 0h1m48 0h1m43 0h1M110 179.5h1m37 0h1m1 0h1h1m4 0h1m2 0h1m1 0h1m8 0h1m2 0h1m3 0h1m2 0h1m3 0h1m9 0h1h1h1m1 0h1m7 0h1h1m9 0h1m4 0h1m4 0h1m5 0h1m1 0h1h1m16 0h1m1 0h1m1 0h1h1h1m7 0h1m5 0h1m1 0h1m4 0h1m3 0h1m3 0h1m7 0h1m9 0h1m2 0h1m7 0h1m5 0h1m8 0h1m3 0h1m12 0h1m4 0h1m7 0h1m12 0h1h1m2 0h1m1 0h1h1m5 0h1m8 0h1m6 0h1m4 0h1h1m8 0h1h1m9 0h1h1m7 0h1m3 0h1m14 0h1m14 0h1h1h1m11 0h1m8 0h1m20 0h1m3 0h1m7 0h1m7 0h1m2 0h1m6 0h1m8 0h1m10 0h1m28 0h1m2 0h1m2 0h1m17 0h1m1 0h1m12 0h1m9 0h1m2 0h1m15 0h1m22 0h1m4 0h1m14 0h1m5 0h1m7 0h1m12 0h1m21 0h1m16 0h1m26 0h1m32 0h1m44 0h1m28 0h1M126 180.5h1m30 0h1m8 0h1m6 0h1m3 0h1m5 0h1m2 0h1m3 0h1m3 0h1h1m1 0h1m7 0h1m2 0h1h1m1 0h1m2 0h1m8 0h1h1m2 0h1m7 0h1m1 0h1h1m6 0h1m6 0h1m1 0h1m2 0h1h1m1 0h1m3 0h1m6 0h1m2 0h1h1m7 0h1m5 0h1h1m2 0h1m4 0h1m5 0h1m5 0h1m4 0h1m3 0h1h1m2 0h1m7 0h1m4 0h1h1m22 0h1m1 0h1m3 0h1m9 0h1m7 0h1m17 0h1m3 0h1h1m4 0h1m6 0h1m13 0h1m1 0h1m1 0h1m2 0h1m6 0h1h1m2 0h1m7 0h1m9 0h1h1m2 0h1h1h1m2 0h1m15 0h1m1 0h1h1m15 0h1m18 0h1m4 0h1m24 0h1m10 0h1m10 0h1m18 0h1m23 0h1m2 0h1m11 0h1m7 0h1m6 0h1m13 0h1m6 0h1m56 0h1m9 0h1m49 0h1h1m14 0h1m15 0h1m5 0h1m40 0h1m3 0h1M129 181.5h1m13 0h1m3 0h1m2 0h1m4 0h1h1m2 0h1h1h1h1h1h1m1 0h1h1m7 0h1m4 0h1m6 0h1h1m2 0h1m9 0h1h1m15 0h1m4 0h1h1m7 0h1m6 0h1m8 0h1m9 0h1m7 0h1m9 0h1m1 0h1m3 0h1m2 0h1h1h1m4 0h1m9 0h1m10 0h1h1m2 0h1m2 0h1m21 0h1m9 0h1m3 0h1h1m8 0h1m2 0h1m5 0h1m5 0h1m2 0h1m4 0h1m2 0h1h1m5 0h1m5 0h1h1m13 0h1m2 0h1h1m2 0h1m5 0h1m4 0h1m2 0h1h1m14 0h1m2 0h1h1m2 0h1m14 0h1h1m5 0h1m5 0h1m1 0h1m3 0h1m1 0h1m4 0h1m6 0h1m54 0h1m7 0h1m1 0h1m2 0h1m1 0h1h1m14 0h1m6 0h1m13 0h1h1m2 0h1m3 0h1m17 0h1m11 0h1m4 0h1m10 0h1h1m11 0h1m6 0h1m4 0h1m5 0h1m2 0h1m11 0h1m2 0h1m55 0h1m42 0h1m40 0h1M80 182.5h1m36 0h1m8 0h1m14 0h1h1m3 0h1h1h1m1 0h1m12 0h1m2 0h1m1 0h1h1h1m4 0h1m2 0h1m4 0h1h1m2 0h1m1 0h1m2 0h1m2 0h1m1 0h1m9 0h1h1m2 0h1h1m8 0h1m4 0h1h1h1m1 0h1m8 0h1h1m4 0h1m8 0h1m1 0h1m7 0h1m1 0h1m9 0h1m5 0h1h1m1 0h1m3 0h1m2 0h1h1h1m7 0h1m8 0h1m10 0h1h1m1 0h1m6 0h1m2 0h1m1 0h1m1 0h1m1 0h1m3 0h1m1 0h1m6 0h1h1h1m1 0h1h1m2 0h1m1 0h1m2 0h1m12 0h1m9 0h1m6 0h1m1 0h1m1 0h1h1m1 0h1m1 0h1m15 0h1h1m8 0h1m20 0h1m5 0h1h1m6 0h1m7 0h1m4 0h1m2 0h1m2 0h1h1m1 0h1m3 0h1h1m7 0h1m9 0h1m8 0h1m5 0h1h1m3 0h1m3 0h1m8 0h1m9 0h1m8 0h1m1 0h1m6 0h1m4 0h1h1h1m21 0h1m38 0h1m18 0h1m10 0h1m5 0h1m11 0h1m77 0h1m4 0h1m41 0h1m26 0h1m47 0h1M124 183.5h1m2 0h1m8 0h1m10 0h1m1 0h1m4 0h1h1m1 0h1h1h1h1h1m3 0h1m2 0h1m3 0h1m2 0h1m2 0h1m6 0h1m15 0h1m1 0h1m2 0h1h1m1 0h1m2 0h1m2 0h1m3 0h1m5 0h1m2 0h1m3 0h1m1 0h1m2 0h1m5 0h1m6 0h1m6 0h1m5 0h1m12 0h1m4 0h1m1 0h1m1 0h1m5 0h1h1m2 0h1m11 0h1m4 0h1h1m3 0h1h1m1 0h1m1 0h1h1m19 0h1m5 0h1m1 0h1h1m3 0h1m5 0h1h1m8 0h1m16 0h1m1 0h1m7 0h1m10 0h1h1m1 0h1m5 0h1m1 0h1m3 0h1h1h1m5 0h1m12 0h1m7 0h1m4 0h1h1m8 0h1m22 0h1m3 0h1m13 0h1m5 0h1h1m2 0h1m4 0h1m3 0h1h1m10 0h1m8 0h1m1 0h1m7 0h1h1m41 0h1m8 0h1m16 0h1m19 0h1m6 0h1m12 0h1m31 0h1h1m24 0h1m53 0h1m9 0h1m40 0h1m5 0h1m25 0h1M127 184.5h1m1 0h1m6 0h1m5 0h1h1m1 0h1m8 0h1h1m1 0h1h1m4 0h1m2 0h1m1 0h1m7 0h1m5 0h1m8 0h1m5 0h1h1m8 0h1m3 0h1h1m1 0h1m1 0h1m1 0h1m1 0h1m2 0h1m1 0h1m1 0h1m3 0h1m1 0h1m4 0h1h1m1 0h1m4 0h1h1m2 0h1h1m3 0h1m9 0h1m8 0h1m7 0h1m2 0h1m10 0h1m7 0h1m3 0h1m1 0h1m2 0h1m3 0h1m2 0h1m1 0h1m3 0h1m11 0h1m1 0h1m1 0h1h1m2 0h1h1m10 0h1h1m4 0h1m2 0h1m2 0h1m12 0h1h1h1h1m1 0h1m3 0h1m3 0h1m3 0h1m6 0h1m3 0h1m5 0h1m12 0h1m5 0h1h1m9 0h1m23 0h1m3 0h1m4 0h1m7 0h1m7 0h1m4 0h1m23 0h1h1m1 0h1h1m2 0h1m2 0h1m1 0h1h1m1 0h1m8 0h1m11 0h1h1m7 0h1m1 0h1m2 0h1m4 0h1m1 0h1m11 0h1m21 0h1m20 0h1m5 0h1m7 0h1h1m10 0h1h1m20 0h1m21 0h1m26 0h1m48 0h1m4 0h1m15 0h1m8 0h1m9 0h1m32 0h1m13 0h1m4 0h1M115 185.5h1m19 0h1m4 0h1m1 0h1m2 0h1h1m7 0h1h1h1m2 0h1m9 0h1m1 0h1h1m1 0h1m2 0h1m3 0h1h1m4 0h1m2 0h1h1m8 0h1m15 0h1m12 0h1m4 0h1m4 0h1m2 0h1h1m1 0h1m3 0h1m1 0h1m1 0h1h1m11 0h1h1m6 0h1h1m1 0h1h1m1 0h1m1 0h1m18 0h1m17 0h1h1m8 0h1m3 0h1h1m1 0h1h1m8 0h1m3 0h1m10 0h1h1m13 0h1m19 0h1h1m4 0h1m10 0h1m1 0h1m2 0h1m2 0h1m4 0h1m7 0h1m5 0h1m6 0h1m7 0h1m8 0h1m3 0h1m2 0h1m3 0h1m7 0h1m2 0h1h1m5 0h1m2 0h1h1h1h1m13 0h1m18 0h1m23 0h1m3 0h1m7 0h1m4 0h1m20 0h1h1m22 0h1m3 0h1m3 0h1m3 0h1m2 0h1m2 0h1m5 0h1m1 0h1m8 0h1m5 0h1m27 0h1m15 0h1m19 0h1m5 0h1m11 0h1m1 0h1m1 0h1m59 0h1m47 0h1M96 186.5h1m26 0h1m6 0h1m6 0h1m11 0h1m1 0h1m10 0h1m1 0h1m2 0h1m5 0h1h1h1m10 0h1m5 0h1m4 0h1m2 0h1m3 0h1m3 0h1m1 0h1m1 0h1m1 0h1h1m8 0h1m2 0h1m6 0h1m2 0h1h1m6 0h1m1 0h1m2 0h1m4 0h1m2 0h1m22 0h1m6 0h1m1 0h1m4 0h1m3 0h1m10 0h1m16 0h1h1m8 0h1h1m8 0h1h1m4 0h1m2 0h1m4 0h1m1 0h1m14 0h1m3 0h1m8 0h1m4 0h1m8 0h1m1 0h1m20 0h1m4 0h1m3 0h1h1m3 0h1m12 0h1m29 0h1m5 0h1m11 0h1m4 0h1m3 0h1m13 0h1m24 0h1m7 0h1m2 0h1m6 0h1h1m37 0h1m48 0h1m6 0h1h1m2 0h1m4 0h1m34 0h1m1 0h1m9 0h1m1 0h1m5 0h1m52 0h1m5 0h1m24 0h1m78 0h1m4 0h1M122 187.5h1m3 0h1h1h1h1m1 0h1m4 0h1m1 0h1m7 0h1m1 0h1h1m1 0h1m2 0h1m24 0h1m2 0h1h1m16 0h1m1 0h1m2 0h1m2 0h1m1 0h1m1 0h1m16 0h1h1m2 0h1m4 0h1m3 0h1h1h1m4 0h1m2 0h1m2 0h1m8 0h1m2 0h1m3 0h1m4 0h1m2 0h1h1m5 0h1m3 0h1m2 0h1m5 0h1m3 0h1m1 0h1h1m11 0h1m3 0h1h1m2 0h1m4 0h1m18 0h1m20 0h1m9 0h1m1 0h1m14 0h1m2 0h1m7 0h1m11 0h1m22 0h1m14 0h1m7 0h1m11 0h1m30 0h1m11 0h1m1 0h1h1m6 0h1m4 0h1m4 0h1m3 0h1m1 0h1h1m6 0h1m1 0h1m3 0h1m2 0h1m2 0h1m6 0h1m6 0h1m5 0h1h1m12 0h1m7 0h1h1m1 0h1m2 0h1m12 0h1m12 0h1m4 0h1m14 0h1m11 0h1m7 0h1m9 0h1m174 0h1M89 188.5h1m33 0h1m8 0h1m2 0h1m5 0h1m8 0h1h1m6 0h1h1m6 0h1m2 0h1h1m3 0h1m4 0h1m1 0h1m13 0h1m11 0h1h1m13 0h1m1 0h1m2 0h1h1m4 0h1m6 0h1m1 0h1h1m7 0h1m1 0h1m6 0h1m8 0h1m3 0h1m7 0h1m3 0h1m2 0h1m3 0h1m1 0h1h1m1 0h1h1m1 0h1m6 0h1h1m4 0h1m1 0h1m6 0h1h1m1 0h1m6 0h1m6 0h1m8 0h1h1m9 0h1m2 0h1m3 0h1h1h1m3 0h1m1 0h1m13 0h1m2 0h1m3 0h1m8 0h1m14 0h1m3 0h1m2 0h1m3 0h1m18 0h1m6 0h1m10 0h1h1m12 0h1h1m2 0h1m9 0h1m4 0h1m8 0h1m4 0h1m4 0h1m1 0h1m6 0h1m44 0h1m10 0h1m3 0h1h1m2 0h1m1 0h1m1 0h1m5 0h1m15 0h1m19 0h1m13 0h1m5 0h1m35 0h1m7 0h1m1 0h1m3 0h1m11 0h1m2 0h1m82 0h1m2 0h1m4 0h1m30 0h1m5 0h1m58 0h1M102 189.5h1m1 0h1m1 0h1m1 0h1m10 0h1m8 0h1m1 0h1h1m9 0h1m2 0h1m1 0h1m3 0h1m2 0h1h1m9 0h1m4 0h1m3 0h1m2 0h1h1m1 0h1m2 0h1m4 0h1m6 0h1h1m15 0h1m1 0h1h1h1m7 0h1m6 0h1h1m3 0h1m1 0h1m1 0h1h1m7 0h1m1 0h1m8 0h1m1 0h1m3 0h1m10 0h1m6 0h1m11 0h1m1 0h1m2 0h1m4 0h1h1m6 0h1m15 0h1h1m12 0h1m2 0h1m8 0h1m2 0h1m3 0h1m1 0h1m1 0h1m2 0h1m5 0h1m10 0h1h1h1m7 0h1h1m2 0h1m1 0h1m2 0h1m3 0h1m9 0h1m2 0h1m5 0h1h1m8 0h1m47 0h1m1 0h1m7 0h1m7 0h1m1 0h1m12 0h1m11 0h1m3 0h1m12 0h1m3 0h1m4 0h1m11 0h1m7 0h1h1m16 0h1m12 0h1m1 0h1h1m4 0h1m2 0h1m17 0h1m2 0h1m4 0h1m5 0h1m13 0h1m24 0h1m19 0h1m34 0h1m32 0h1m33 0h1m9 0h1m11 0h1m19 0h1m64 0h1m13 0h1M94 190.5h1m3 0h1m5 0h1m2 0h1m8 0h1h1m4 0h1h1m3 0h1m2 0h1h1m8 0h1m4 0h1h1h1m3 0h1h1m3 0h1m3 0h1m8 0h1m1 0h1h1m6 0h1m4 0h1h1h1h1m2 0h1m4 0h1m1 0h1m1 0h1m3 0h1m4 0h1m2 0h1h1m1 0h1h1m1 0h1m1 0h1h1m3 0h1m5 0h1h1h1m1 0h1m2 0h1m1 0h1m9 0h1m2 0h1m2 0h1h1m3 0h1m7 0h1m3 0h1h1m2 0h1h1h1m2 0h1m1 0h1m2 0h1m2 0h1m12 0h1h1m6 0h1h1m4 0h1h1m1 0h1h1m12 0h1h1m2 0h1h1h1m3 0h1m1 0h1m7 0h1m9 0h1h1m1 0h1m6 0h1m12 0h1m3 0h1m7 0h1m1 0h1m2 0h1m1 0h1m1 0h1m11 0h1m2 0h1h1m6 0h1m5 0h1m6 0h1m1 0h1h1m1 0h1h1m5 0h1m1 0h1m9 0h1m8 0h1m13 0h1m4 0h1m6 0h1m1 0h1h1m14 0h1m3 0h1m1 0h1h1m3 0h1h1m4 0h1m3 0h1m10 0h1h1h1h1h1m2 0h1m7 0h1m1 0h1h1m51 0h1m2 0h1h1m3 0h1h1m15 0h1m7 0h1m8 0h1h1m5 0h1m8 0h1m15 0h1m9 0h1m2 0h1m19 0h1m13 0h1m52 0h1m12 0h1m18 0h1m15 0h1M101 191.5h1m5 0h1m10 0h1m2 0h1h1m5 0h1m1 0h1m1 0h1m1 0h1m1 0h1h1m1 0h1m4 0h1m4 0h1m3 0h1m1 0h1m3 0h1h1m3 0h1m8 0h1h1m3 0h1m1 0h1m3 0h1h1m1 0h1m11 0h1m1 0h1m4 0h1m6 0h1m2 0h1m1 0h1m1 0h1h1m1 0h1m6 0h1h1h1m3 0h1h1m3 0h1m10 0h1m5 0h1m6 0h1h1m2 0h1m1 0h1m2 0h1h1m5 0h1m8 0h1m6 0h1m12 0h1m3 0h1h1m5 0h1m6 0h1m2 0h1m2 0h1m6 0h1m1 0h1m3 0h1m1 0h1m7 0h1m2 0h1m10 0h1m9 0h1h1m3 0h1m2 0h1h1m2 0h1m21 0h1h1h1m1 0h1h1m10 0h1m1 0h1m5 0h1m1 0h1m3 0h1m8 0h1m2 0h1m3 0h1m9 0h1m2 0h1h1m13 0h1m1 0h1m1 0h1m2 0h1m7 0h1m5 0h1m2 0h1m10 0h1m2 0h1m3 0h1m6 0h1m10 0h1m8 0h1m2 0h1m5 0h1m16 0h1m8 0h1h1m5 0h1m6 0h1h1h1m19 0h1m3 0h1h1h1m24 0h1m4 0h1m33 0h1m25 0h1m23 0h1m3 0h1m3 0h1m56 0h1m44 0h1m7 0h1m15 0h1M87 192.5h1m8 0h1m9 0h1m2 0h1m1 0h1m1 0h1h1m1 0h1m7 0h1m1 0h1m1 0h1m5 0h1h1m4 0h1h1m1 0h1m1 0h1m1 0h1m5 0h1m4 0h1h1m8 0h1m1 0h1m2 0h1h1h1h1h1m4 0h1m7 0h1m1 0h1h1m1 0h1h1m2 0h1m6 0h1m3 0h1m1 0h1m9 0h1m2 0h1m1 0h1m9 0h1m10 0h1m2 0h1m1 0h1m2 0h1h1m2 0h1h1m24 0h1h1m3 0h1m2 0h1m4 0h1m4 0h1h1m1 0h1m11 0h1m1 0h1m4 0h1m18 0h1m1 0h1m5 0h1m18 0h1h1m2 0h1m2 0h1m1 0h1m6 0h1h1m6 0h1m1 0h1m11 0h1m6 0h1m7 0h1h1m1 0h1m4 0h1m5 0h1m2 0h1m6 0h1m3 0h1m1 0h1h1m1 0h1m20 0h1m18 0h1h1m25 0h1h1m1 0h1m12 0h1m19 0h1h1m3 0h1m15 0h1m24 0h1m12 0h1m5 0h1m5 0h1m10 0h1m17 0h1m4 0h1m11 0h1m30 0h1h1m3 0h1m3 0h1m9 0h1m18 0h1m2 0h1m6 0h1m21 0h1m26 0h1m30 0h1m11 0h1m58 0h1M87 193.5h1m1 0h1m2 0h1h1m9 0h1m6 0h1h1m4 0h1m9 0h1m1 0h1m2 0h1m3 0h1h1m2 0h1h1h1h1m5 0h1m3 0h1m1 0h1h1m4 0h1h1m5 0h1m2 0h1m3 0h1h1m5 0h1m1 0h1m1 0h1m1 0h1h1m3 0h1m3 0h1m8 0h1h1h1m1 0h1h1h1m2 0h1h1m1 0h1m4 0h1h1h1m5 0h1m1 0h1m5 0h1m6 0h1m5 0h1m1 0h1m9 0h1m1 0h1h1h1m14 0h1h1m3 0h1m1 0h1m4 0h1m4 0h1h1m1 0h1m7 0h1m1 0h1m1 0h1m2 0h1m2 0h1m2 0h1h1m5 0h1m1 0h1m1 0h1m1 0h1m5 0h1m11 0h1m13 0h1m1 0h1m8 0h1m11 0h1h1m5 0h1m7 0h1m13 0h1m18 0h1m2 0h1m1 0h1m7 0h1m1 0h1m1 0h1m2 0h1m5 0h1h1m4 0h1m2 0h1m15 0h1m2 0h1m12 0h1m9 0h1m2 0h1m9 0h1m50 0h1m6 0h1m3 0h1m7 0h1m18 0h1m60 0h1m3 0h1m4 0h1m18 0h1m17 0h1m2 0h1m20 0h1h1m6 0h1m14 0h1m20 0h1m63 0h1M87 194.5h1m11 0h1h1m5 0h1h1m1 0h1m1 0h1m11 0h1m3 0h1m2 0h1m1 0h1m10 0h1h1h1m1 0h1m9 0h1m2 0h1h1m10 0h1m12 0h1m3 0h1m3 0h1m5 0h1m6 0h1m7 0h1h1h1h1m3 0h1m3 0h1h1m6 0h1m11 0h1m2 0h1m3 0h1h1m6 0h1m18 0h1h1m1 0h1h1h1m7 0h1m2 0h1m5 0h1m3 0h1m3 0h1m5 0h1h1h1m8 0h1m14 0h1m3 0h1m10 0h1m2 0h1m1 0h1h1m1 0h1m1 0h1h1m6 0h1m4 0h1m1 0h1h1m15 0h1m6 0h1m1 0h1h1m5 0h1m1 0h1m12 0h1m5 0h1h1h1m18 0h1m5 0h1m2 0h1m1 0h1m6 0h1m11 0h1m15 0h1m16 0h1m4 0h1m6 0h1m2 0h1m11 0h1m7 0h1m12 0h1h1m14 0h1m3 0h1m2 0h1m10 0h1m1 0h1h1m2 0h1m41 0h1m12 0h1m11 0h1m25 0h1m4 0h1m3 0h1m13 0h1m18 0h1m15 0h1m20 0h1m33 0h1m81 0h1M92 195.5h1m11 0h1m1 0h1m5 0h1m9 0h1m4 0h1m5 0h1m11 0h1m3 0h1m3 0h1m22 0h1h1m9 0h1m3 0h1m1 0h1m2 0h1h1m19 0h1h1h1m5 0h1m2 0h1m2 0h1m1 0h1m9 0h1m5 0h1h1h1m2 0h1m8 0h1m10 0h1m7 0h1m6 0h1m4 0h1m3 0h1m9 0h1h1m3 0h1m1 0h1m2 0h1m7 0h1h1m1 0h1m3 0h1m3 0h1m2 0h1m1 0h1m3 0h1h1m1 0h1m1 0h1m1 0h1m2 0h1m1 0h1m9 0h1m6 0h1h1m1 0h1m1 0h1m1 0h1m2 0h1m7 0h1h1m7 0h1m4 0h1m1 0h1m1 0h1m1 0h1m14 0h1m2 0h1m2 0h1h1m3 0h1h1m3 0h1m1 0h1m7 0h1m1 0h1m2 0h1h1m1 0h1m24 0h1h1m1 0h1m5 0h1m4 0h1m1 0h1m18 0h1m1 0h1m5 0h1h1m3 0h1m7 0h1m1 0h1m7 0h1m2 0h1m3 0h1h1m18 0h1m1 0h1m7 0h1m10 0h1m6 0h1m8 0h1m9 0h1m4 0h1m12 0h1m5 0h1m6 0h1m12 0h1m4 0h1m1 0h1m7 0h1m54 0h1m32 0h1m116 0h1M87 196.5h1m3 0h1m7 0h1m2 0h1m1 0h1h1h1m1 0h1m1 0h1m1 0h1m13 0h1h1m1 0h1m2 0h1h1m4 0h1m3 0h1h1h1m11 0h1m1 0h1h1m4 0h1m2 0h1m1 0h1h1h1m4 0h1m3 0h1m4 0h1h1m2 0h1m4 0h1m5 0h1h1m5 0h1m6 0h1m2 0h1h1m3 0h1m6 0h1h1m3 0h1m4 0h1m2 0h1m1 0h1m2 0h1h1m3 0h1h1h1m2 0h1m7 0h1h1m3 0h1h1m8 0h1m7 0h1m13 0h1m1 0h1m2 0h1m3 0h1h1h1m13 0h1m2 0h1m13 0h1h1h1m2 0h1m1 0h1m2 0h1m8 0h1m2 0h1h1h1m4 0h1m16 0h1h1m3 0h1m16 0h1m3 0h1m1 0h1m13 0h1h1m6 0h1m1 0h1m7 0h1m2 0h1m6 0h1m23 0h1m4 0h1m3 0h1m43 0h1m14 0h1m4 0h1m12 0h1m10 0h1m7 0h1m3 0h1m14 0h1m45 0h1m42 0h1m6 0h1m20 0h1m17 0h1m42 0h1M86 197.5h1m2 0h1m12 0h1h1h1m3 0h1m3 0h1m3 0h1m1 0h1m2 0h1m5 0h1m3 0h1m5 0h1m4 0h1m4 0h1m3 0h1h1m1 0h1m3 0h1h1h1m10 0h1h1h1h1h1m2 0h1m1 0h1h1m7 0h1m4 0h1m5 0h1m4 0h1m2 0h1m5 0h1m7 0h1m1 0h1m1 0h1m1 0h1m1 0h1m22 0h1m2 0h1h1h1h1h1m7 0h1m1 0h1m11 0h1m4 0h1m1 0h1m3 0h1h1h1m1 0h1h1m5 0h1m2 0h1m2 0h1m3 0h1m5 0h1m1 0h1m17 0h1m3 0h1m10 0h1m7 0h1m11 0h1m3 0h1m3 0h1m24 0h1h1m9 0h1m4 0h1h1m5 0h1m1 0h1m5 0h1m1 0h1m2 0h1m1 0h1m8 0h1m6 0h1m6 0h1h1m4 0h1m16 0h1m2 0h1m17 0h1m11 0h1m1 0h1m1 0h1m7 0h1h1m10 0h1h1m2 0h1h1m19 0h1m5 0h1h1m12 0h1m4 0h1m7 0h1m18 0h1m15 0h1m1 0h1m2 0h1m4 0h1m1 0h1m12 0h1m3 0h1m3 0h1m12 0h1h1m20 0h1m5 0h1m9 0h1m35 0h1m28 0h1m36 0h1m9 0h1M88 198.5h1m2 0h1m4 0h1m1 0h1m1 0h1m1 0h1h1h1h1m1 0h1m3 0h1m1 0h1m7 0h1m4 0h1m2 0h1m9 0h1m3 0h1h1m2 0h1m1 0h1h1m8 0h1m2 0h1m8 0h1m4 0h1m6 0h1m1 0h1m1 0h1h1m1 0h1m5 0h1h1m10 0h1m1 0h1m1 0h1h1h1m1 0h1h1h1m3 0h1m3 0h1h1m16 0h1m1 0h1m4 0h1m3 0h1m4 0h1m7 0h1m4 0h1h1m4 0h1m11 0h1m5 0h1m14 0h1m1 0h1m7 0h1m1 0h1m10 0h1m7 0h1m2 0h1m6 0h1m5 0h1m1 0h1m1 0h1m1 0h1m7 0h1m1 0h1m3 0h1m5 0h1m2 0h1m3 0h1h1m2 0h1m4 0h1h1m5 0h1m11 0h1m30 0h1m3 0h1m3 0h1m28 0h1m19 0h1m8 0h1m13 0h1m4 0h1m2 0h1h1h1m3 0h1m8 0h1m6 0h1m1 0h1m14 0h1m5 0h1m17 0h1m31 0h1m3 0h1m10 0h1m8 0h1m19 0h1m29 0h1m15 0h1m46 0h1m8 0h1m18 0h1m36 0h1m35 0h1M75 199.5h1m1 0h1m10 0h1h1m3 0h1h1m2 0h1h1m6 0h1h1m2 0h1m2 0h1h1m1 0h1m3 0h1m1 0h1h1m1 0h1m1 0h1h1h1m2 0h1h1h1m7 0h1h1h1m5 0h1m14 0h1m1 0h1m3 0h1m1 0h1m6 0h1m4 0h1m1 0h1m13 0h1m16 0h1m3 0h1m2 0h1m3 0h1m1 0h1m1 0h1m12 0h1m6 0h1m5 0h1m3 0h1m2 0h1h1m8 0h1h1m8 0h1m2 0h1m6 0h1h1m1 0h1m9 0h1m40 0h1m1 0h1m28 0h1m4 0h1m3 0h1h1h1m4 0h1m2 0h1m13 0h1m4 0h1m4 0h1m1 0h1h1m1 0h1h1m9 0h1m3 0h1m1 0h1m4 0h1m2 0h1m5 0h1m1 0h1m8 0h1m18 0h1m1 0h1m14 0h1m3 0h1m13 0h1m3 0h1m21 0h1m3 0h1m1 0h1m3 0h1h1m6 0h1m2 0h1m27 0h1m9 0h1m3 0h1m1 0h1m6 0h1m9 0h1m1 0h1m13 0h1h1m2 0h1h1m2 0h1m11 0h1m15 0h1m4 0h1m15 0h1h1m7 0h1m1 0h1m8 0h1m4 0h1h1m50 0h1m2 0h1m9 0h1m16 0h1m25 0h1m5 0h1m19 0h1M84 200.5h1m6 0h1m4 0h1m3 0h1h1m2 0h1h1m6 0h1m4 0h1m9 0h1m2 0h1m2 0h1m2 0h1h1m8 0h1h1h1m4 0h1m4 0h1m1 0h1h1h1h1m4 0h1m3 0h1h1m3 0h1m1 0h1m2 0h1m6 0h1m1 0h1h1m1 0h1m1 0h1m3 0h1m3 0h1m7 0h1m1 0h1m2 0h1m10 0h1m4 0h1h1m4 0h1m2 0h1m10 0h1m6 0h1m1 0h1h1m8 0h1m2 0h1m3 0h1m1 0h1m1 0h1m4 0h1m7 0h1m4 0h1m1 0h1m21 0h1m3 0h1h1m3 0h1m9 0h1m1 0h1m4 0h1m1 0h1m2 0h1m1 0h1m5 0h1m6 0h1h1m16 0h1h1m3 0h1m1 0h1m9 0h1m10 0h1m2 0h1h1m4 0h1m4 0h1m6 0h1m14 0h1h1m2 0h1m5 0h1m1 0h1m1 0h1m18 0h1m5 0h1h1m9 0h1m6 0h1m12 0h1m16 0h1m11 0h1m16 0h1m3 0h1h1m15 0h1m4 0h1m9 0h1m22 0h1m13 0h1m6 0h1m7 0h1m9 0h1m15 0h1m22 0h1m25 0h1m6 0h1h1h1m5 0h1m8 0h1h1m17 0h1m76 0h1M69 201.5h1h1m6 0h1m4 0h1m3 0h1h1m7 0h1h1m4 0h1m1 0h1h1m1 0h1m10 0h1m8 0h1m5 0h1h1m4 0h1m4 0h1m1 0h1m3 0h1m9 0h1h1m3 0h1m1 0h1m3 0h1h1m1 0h1h1m5 0h1m6 0h1m1 0h1m1 0h1m2 0h1m3 0h1m8 0h1m1 0h1h1m1 0h1m1 0h1m1 0h1m1 0h1m1 0h1m3 0h1m2 0h1m1 0h1m1 0h1h1h1m8 0h1h1h1m4 0h1m15 0h1m5 0h1h1m12 0h1m3 0h1m2 0h1m7 0h1h1h1m16 0h1m4 0h1m3 0h1m1 0h1h1m2 0h1m29 0h1m1 0h1m11 0h1h1m2 0h1m4 0h1h1m2 0h1m6 0h1m11 0h1m2 0h1m3 0h1m10 0h1m2 0h1m5 0h1m7 0h1m2 0h1h1m2 0h1m3 0h1m15 0h1m7 0h1m1 0h1h1m11 0h1m3 0h1h1m4 0h1m1 0h1m12 0h1m7 0h1m18 0h1m5 0h1m12 0h1m2 0h1h1m4 0h1m12 0h1m2 0h1m2 0h1m22 0h1m1 0h1m1 0h1h1h1m25 0h1m7 0h1m11 0h1m2 0h1h1h1m25 0h1m21 0h1m7 0h1m5 0h1m3 0h1h1h1m39 0h1m43 0h1h1m77 0h1M84 202.5h1m1 0h1m1 0h1h1m1 0h1h1m6 0h1h1m1 0h1m1 0h1h1m6 0h1m2 0h1m2 0h1m2 0h1h1m2 0h1h1m2 0h1m2 0h1m4 0h1h1m2 0h1m3 0h1m2 0h1m2 0h1h1m9 0h1m3 0h1m1 0h1h1m2 0h1m20 0h1h1h1h1m14 0h1m1 0h1h1m1 0h1m10 0h1m3 0h1h1h1m3 0h1m1 0h1m14 0h1h1m1 0h1h1m2 0h1m1 0h1h1m6 0h1m2 0h1m5 0h1h1m1 0h1m9 0h1m2 0h1m10 0h1m10 0h1m2 0h1m27 0h1m5 0h1m2 0h1h1m18 0h1m2 0h1m2 0h1m14 0h1m9 0h1m20 0h1h1m10 0h1m26 0h1m6 0h1m6 0h1m2 0h1m1 0h1m6 0h1m19 0h1m10 0h1m8 0h1h1m2 0h1m5 0h1m11 0h1m6 0h1h1m9 0h1m7 0h1m2 0h1m4 0h1m3 0h1m13 0h1m31 0h1m19 0h1m17 0h1m37 0h1m1 0h1m7 0h1m17 0h1m2 0h1h1m7 0h1m4 0h1m26 0h1m2 0h1m61 0h1M65 203.5h1m5 0h1m6 0h1m3 0h1m1 0h1m1 0h1h1h1h1h1m9 0h1m3 0h1h1m2 0h1h1h1m3 0h1m4 0h1m1 0h1m11 0h1h1h1h1m4 0h1h1h1m1 0h1m1 0h1m1 0h1m3 0h1m10 0h1h1h1m5 0h1m3 0h1m6 0h1m2 0h1m2 0h1m3 0h1h1m2 0h1m16 0h1m2 0h1m24 0h1m1 0h1h1m5 0h1h1m2 0h1m3 0h1m14 0h1m1 0h1h1h1m8 0h1m3 0h1m2 0h1m5 0h1h1m1 0h1m11 0h1m1 0h1h1m1 0h1m7 0h1m1 0h1h1m19 0h1m6 0h1h1m3 0h1m9 0h1h1m3 0h1m4 0h1m5 0h1h1h1m1 0h1m1 0h1m1 0h1m5 0h1m23 0h1m1 0h1m1 0h1m7 0h1m1 0h1h1m6 0h1m1 0h1m7 0h1m8 0h1m2 0h1h1m11 0h1m5 0h1m8 0h1m8 0h1m1 0h1m1 0h1m2 0h1m4 0h1m5 0h1m26 0h1m5 0h1h1m4 0h1m23 0h1m7 0h1m11 0h1m6 0h1m3 0h1m15 0h1m11 0h1m6 0h1m14 0h1h1m5 0h1m16 0h1m14 0h1m9 0h1m9 0h1h1m1 0h1m13 0h1m53 0h1m20 0h1m35 0h1m3 0h1M64 204.5h1m14 0h1m2 0h1h1h1m1 0h1m2 0h1m2 0h1h1m4 0h1m6 0h1h1m8 0h1m2 0h1m2 0h1h1m8 0h1m3 0h1m10 0h1m2 0h1m5 0h1m3 0h1m13 0h1m8 0h1m2 0h1m11 0h1m5 0h1m1 0h1m7 0h1m1 0h1m4 0h1m1 0h1m3 0h1m3 0h1h1m6 0h1m1 0h1m3 0h1m2 0h1m3 0h1m1 0h1m21 0h1m8 0h1m1 0h1m2 0h1m3 0h1m1 0h1m21 0h1h1m13 0h1m9 0h1m3 0h1m4 0h1m1 0h1m5 0h1m5 0h1h1m2 0h1m4 0h1h1m13 0h1m8 0h1h1h1m16 0h1h1m7 0h1m8 0h1m5 0h1m33 0h1m2 0h1m13 0h1m5 0h1m2 0h1h1m24 0h1m25 0h1m26 0h1m15 0h1m4 0h1m3 0h1m18 0h1m17 0h1m3 0h1m4 0h1m2 0h1m2 0h1m4 0h1h1m22 0h1m1 0h1m35 0h1m15 0h1h1m114 0h1M79 205.5h1m5 0h1m3 0h1m2 0h1m4 0h1h1m9 0h1m2 0h1m6 0h1m14 0h1m3 0h1m4 0h1h1m5 0h1h1h1m2 0h1m2 0h1m1 0h1m1 0h1h1m1 0h1m5 0h1h1h1m1 0h1m9 0h1h1m1 0h1m3 0h1h1m1 0h1m6 0h1m5 0h1m3 0h1m1 0h1m1 0h1h1m2 0h1m3 0h1m1 0h1h1m8 0h1h1m3 0h1m10 0h1m2 0h1h1m4 0h1m5 0h1h1h1m2 0h1m4 0h1h1m4 0h1h1m5 0h1m5 0h1h1h1m7 0h1m24 0h1h1m8 0h1m1 0h1m7 0h1m4 0h1m5 0h1m24 0h1m2 0h1m13 0h1m13 0h1m2 0h1m3 0h1m6 0h1h1m5 0h1m7 0h1m1 0h1m5 0h1m2 0h1m4 0h1m2 0h1m2 0h1m1 0h1h1m13 0h1m2 0h1m2 0h1m4 0h1m5 0h1m3 0h1h1m5 0h1m2 0h1m3 0h1h1m1 0h1m4 0h1m12 0h1m1 0h1m6 0h1m1 0h1m34 0h1m2 0h1h1m2 0h1m3 0h1m13 0h1m3 0h1m4 0h1m12 0h1m2 0h1m11 0h1m5 0h1m3 0h1h1m2 0h1m17 0h1m7 0h1m9 0h1m7 0h1m2 0h1m16 0h1m12 0h1m28 0h1m9 0h1m74 0h1M65 206.5h1m7 0h1m1 0h1m1 0h1h1m3 0h1m1 0h1m9 0h1m4 0h1m5 0h1m10 0h1h1m8 0h1h1m1 0h1m11 0h1m1 0h1m6 0h1h1h1h1m1 0h1h1m11 0h1m7 0h1m1 0h1m1 0h1m2 0h1m2 0h1h1m2 0h1h1m5 0h1m4 0h1m6 0h1m2 0h1m1 0h1h1h1m3 0h1m13 0h1m5 0h1h1m1 0h1m7 0h1h1m1 0h1m28 0h1h1h1m3 0h1m1 0h1m3 0h1m6 0h1m30 0h1m3 0h1m4 0h1m2 0h1m12 0h1h1m6 0h1m9 0h1m7 0h1m2 0h1m23 0h1m5 0h1m1 0h1m4 0h1m3 0h1m4 0h1m8 0h1m4 0h1h1m2 0h1m1 0h1m4 0h1m4 0h1m4 0h1m2 0h1m1 0h1m12 0h1m4 0h1m4 0h1m6 0h1m5 0h1m23 0h1m1 0h1m2 0h1m12 0h1m1 0h1m5 0h1m12 0h1m4 0h1m10 0h1m4 0h1m7 0h1m6 0h1m2 0h1m6 0h1m18 0h1m7 0h1m1 0h1m1 0h1m6 0h1m17 0h1m5 0h1m7 0h1m49 0h1m14 0h1m6 0h1h1m5 0h1m15 0h1m1 0h1M65 207.5h1m6 0h1h1h1m4 0h1m1 0h1m2 0h1m2 0h1m1 0h1m16 0h1m4 0h1m13 0h1h1m2 0h1m1 0h1m4 0h1m5 0h1m2 0h1m3 0h1m2 0h1h1m1 0h1m7 0h1m13 0h1m2 0h1m5 0h1m1 0h1m3 0h1m1 0h1m9 0h1m3 0h1h1m5 0h1h1m1 0h1h1m8 0h1m3 0h1m10 0h1m3 0h1m5 0h1m8 0h1h1h1m16 0h1h1m8 0h1m3 0h1m2 0h1m2 0h1m2 0h1m8 0h1m1 0h1m6 0h1m7 0h1m13 0h1m11 0h1m7 0h1m2 0h1m2 0h1h1m2 0h1m4 0h1m2 0h1m1 0h1m4 0h1h1m7 0h1h1m5 0h1m1 0h1m6 0h1m4 0h1m5 0h1m1 0h1m1 0h1m14 0h1m8 0h1h1m17 0h1m1 0h1m4 0h1m1 0h1m2 0h1m13 0h1m12 0h1h1m1 0h1m2 0h1m14 0h1m3 0h1m11 0h1m4 0h1m5 0h1m20 0h1m40 0h1m12 0h1m3 0h1m2 0h1m9 0h1m7 0h1m3 0h1m10 0h1m2 0h1h1m1 0h1m6 0h1m9 0h1m2 0h1m36 0h1m25 0h1h1m10 0h1m11 0h1m1 0h1m23 0h1h1M61 208.5h1m6 0h1m1 0h1m5 0h1m1 0h1m4 0h1m1 0h1m1 0h1h1h1m2 0h1m7 0h1m2 0h1m2 0h1h1m1 0h1h1h1m2 0h1m13 0h1m6 0h1m1 0h1m8 0h1m4 0h1m2 0h1m4 0h1m1 0h1m3 0h1m11 0h1m3 0h1h1h1m2 0h1m11 0h1m2 0h1h1m4 0h1m6 0h1m4 0h1m3 0h1m1 0h1m4 0h1m7 0h1m3 0h1h1m1 0h1m1 0h1m18 0h1m3 0h1m7 0h1m18 0h1m1 0h1m4 0h1m1 0h1m3 0h1m9 0h1m8 0h1h1h1m5 0h1m2 0h1h1h1m8 0h1m10 0h1m3 0h1m5 0h1m6 0h1m8 0h1m7 0h1m8 0h1m1 0h1h1m10 0h1h1h1m3 0h1m3 0h1h1m1 0h1h1m17 0h1m5 0h1m5 0h1m5 0h1m12 0h1m16 0h1h1m2 0h1m2 0h1m2 0h1m1 0h1m5 0h1m3 0h1m2 0h1m1 0h1h1m1 0h1m4 0h1m7 0h1m2 0h1m6 0h1m6 0h1m10 0h1m4 0h1m15 0h1h1m4 0h1m29 0h1m7 0h1m1 0h1m3 0h1m1 0h1m2 0h1m31 0h1m116 0h1h1m23 0h1m14 0h1M76 209.5h1m1 0h1h1m3 0h1m5 0h1m1 0h1m3 0h1m1 0h1h1m2 0h1m3 0h1m2 0h1m2 0h1m5 0h1m2 0h1m9 0h1m12 0h1m13 0h1m3 0h1m2 0h1m2 0h1m3 0h1m3 0h1m3 0h1m5 0h1h1m1 0h1m6 0h1m3 0h1m2 0h1m14 0h1h1m6 0h1m6 0h1m4 0h1m2 0h1h1h1m6 0h1m6 0h1h1m2 0h1m1 0h1m2 0h1m3 0h1m2 0h1h1m2 0h1m10 0h1h1m23 0h1h1h1m7 0h1h1m16 0h1h1h1h1m2 0h1m6 0h1m5 0h1h1m7 0h1h1m7 0h1m14 0h1m1 0h1m6 0h1m1 0h1m4 0h1m5 0h1m34 0h1m3 0h1m4 0h1m10 0h1h1m9 0h1m19 0h1m12 0h1m7 0h1m5 0h1m9 0h1m1 0h1m7 0h1m4 0h1m22 0h1m1 0h1m19 0h1m4 0h1m15 0h1m26 0h1m10 0h1m11 0h1m32 0h1m23 0h1m12 0h1m19 0h1m77 0h1M60 210.5h1m1 0h1h1m4 0h1h1m1 0h1m3 0h1m3 0h1m1 0h1m2 0h1h1m2 0h1h1m2 0h1m2 0h1m4 0h1h1m4 0h1m3 0h1m5 0h1m5 0h1m3 0h1m3 0h1h1m4 0h1m2 0h1m1 0h1h1h1h1m3 0h1m3 0h1h1m1 0h1h1h1m4 0h1m1 0h1h1m7 0h1h1m1 0h1m6 0h1m1 0h1m4 0h1m2 0h1h1m7 0h1m5 0h1m8 0h1m1 0h1m4 0h1h1h1m1 0h1m3 0h1m7 0h1h1m1 0h1m5 0h1m3 0h1m3 0h1m1 0h1h1h1m2 0h1m9 0h1m2 0h1m1 0h1m1 0h1m1 0h1m11 0h1m2 0h1m1 0h1m9 0h1m4 0h1m5 0h1m6 0h1h1m3 0h1m3 0h1m7 0h1h1m5 0h1m4 0h1h1h1m9 0h1m3 0h1m10 0h1m2 0h1m4 0h1m6 0h1m1 0h1m10 0h1h1m2 0h1m2 0h1m2 0h1m1 0h1m1 0h1m3 0h1h1m5 0h1m11 0h1m3 0h1h1m8 0h1m6 0h1m12 0h1m15 0h1m1 0h1m1 0h1h1m4 0h1m5 0h1m26 0h1m16 0h1m25 0h1m8 0h1m9 0h1m7 0h1m4 0h1m10 0h1m7 0h1m5 0h1m15 0h1m13 0h1m4 0h1m15 0h1m9 0h1m8 0h1m5 0h1m6 0h1m9 0h1m73 0h1m19 0h1M69 211.5h1m3 0h1m10 0h1m4 0h1m1 0h1m8 0h1m2 0h1h1h1m3 0h1m1 0h1m2 0h1m1 0h1h1m13 0h1m6 0h1m1 0h1m5 0h1m5 0h1m2 0h1m1 0h1m1 0h1h1m3 0h1m2 0h1m2 0h1h1m2 0h1m20 0h1m4 0h1h1m8 0h1h1m1 0h1h1m4 0h1m2 0h1m6 0h1m6 0h1m1 0h1m3 0h1m3 0h1m1 0h1m7 0h1h1m5 0h1m12 0h1h1m2 0h1m12 0h1m3 0h1m29 0h1m1 0h1h1m2 0h1m2 0h1m7 0h1m2 0h1m10 0h1m3 0h1m11 0h1m8 0h1m1 0h1m16 0h1h1m2 0h1m1 0h1m1 0h1h1m1 0h1m7 0h1h1m1 0h1m2 0h1m1 0h1m19 0h1h1h1m1 0h1m16 0h1m1 0h1m6 0h1m5 0h1m4 0h1m8 0h1m4 0h1m1 0h1m17 0h1m2 0h1h1m7 0h1h1m13 0h1h1m11 0h1m10 0h1m2 0h1m41 0h1h1m8 0h1m22 0h1m44 0h1m24 0h1m3 0h1m8 0h1m33 0h1m8 0h1m8 0h1m25 0h1M54 212.5h1m6 0h1m1 0h1m1 0h1m3 0h1m5 0h1m1 0h1m3 0h1m3 0h1m1 0h1h1m5 0h1m1 0h1h1m2 0h1h1h1m2 0h1m1 0h1m2 0h1m4 0h1h1m6 0h1m20 0h1m2 0h1m1 0h1m5 0h1m2 0h1m1 0h1m3 0h1m1 0h1m1 0h1m1 0h1m1 0h1h1m1 0h1m5 0h1h1h1h1m4 0h1m2 0h1m2 0h1h1m1 0h1m3 0h1m3 0h1m8 0h1h1h1m6 0h1m1 0h1h1m8 0h1m6 0h1m2 0h1m5 0h1h1m1 0h1m2 0h1m3 0h1m1 0h1m1 0h1m1 0h1m5 0h1m6 0h1m9 0h1m5 0h1h1h1m1 0h1m6 0h1h1h1m4 0h1h1m1 0h1m4 0h1m6 0h1m1 0h1h1m13 0h1m12 0h1m4 0h1m2 0h1h1m17 0h1h1h1m16 0h1m1 0h1m2 0h1m14 0h1m1 0h1h1h1h1h1m15 0h1m11 0h1m17 0h1m2 0h1m3 0h1m2 0h1m2 0h1h1m2 0h1h1m1 0h1m11 0h1m5 0h1m3 0h1h1m4 0h1m4 0h1m18 0h1m5 0h1m9 0h1m4 0h1h1m5 0h1m5 0h1m18 0h1m11 0h1m5 0h1m42 0h1m3 0h1m8 0h1m1 0h1h1m1 0h1m7 0h1m28 0h1m17 0h1m3 0h1m43 0h1m3 0h1m6 0h1m2 0h1m6 0h1m1 0h1m5 0h1m4 0h1M54 213.5h1m3 0h1m2 0h1m7 0h1h1m1 0h1m2 0h1h1m1 0h1m1 0h1m2 0h1m7 0h1m11 0h1h1m1 0h1h1m3 0h1h1m5 0h1m1 0h1m1 0h1m2 0h1m1 0h1h1h1h1m4 0h1m1 0h1m6 0h1h1m10 0h1m2 0h1h1m2 0h1m1 0h1m2 0h1h1m6 0h1m1 0h1m2 0h1m4 0h1h1m1 0h1m2 0h1m10 0h1m8 0h1h1h1m3 0h1m9 0h1m8 0h1m2 0h1m2 0h1m3 0h1m3 0h1h1m3 0h1m1 0h1m6 0h1m2 0h1m1 0h1m5 0h1m4 0h1h1m2 0h1m4 0h1m12 0h1m8 0h1h1m1 0h1m1 0h1m2 0h1m1 0h1m1 0h1h1m1 0h1m4 0h1m1 0h1h1h1m3 0h1m2 0h1h1m1 0h1m2 0h1m7 0h1h1m6 0h1h1m4 0h1m5 0h1m1 0h1m1 0h1m2 0h1m14 0h1h1h1h1h1m3 0h1h1m10 0h1m1 0h1m1 0h1h1m1 0h1m5 0h1m7 0h1m15 0h1m28 0h1m4 0h1m11 0h1m1 0h1m4 0h1m7 0h1h1m20 0h1m6 0h1m7 0h1m9 0h1m3 0h1h1m4 0h1m8 0h1m2 0h1h1m2 0h1m3 0h1h1m3 0h1m12 0h1m18 0h1m20 0h1m33 0h1m6 0h1m17 0h1m11 0h1m9 0h1m2 0h1m37 0h1m7 0h1m6 0h1m36 0h1M59 214.5h1m15 0h1h1m10 0h1m3 0h1m1 0h1m2 0h1m2 0h1m6 0h1m7 0h1h1m8 0h1m3 0h1m4 0h1m3 0h1m3 0h1h1m3 0h1m1 0h1h1m2 0h1h1m1 0h1m2 0h1m3 0h1m2 0h1m6 0h1m7 0h1m11 0h1h1m5 0h1m2 0h1m13 0h1h1m9 0h1m2 0h1h1m1 0h1m8 0h1m8 0h1m3 0h1m2 0h1h1m3 0h1m9 0h1m2 0h1m1 0h1m6 0h1m2 0h1m4 0h1m11 0h1m1 0h1m4 0h1m7 0h1m5 0h1m7 0h1m18 0h1m12 0h1h1m1 0h1m1 0h1m2 0h1m3 0h1h1m1 0h1m3 0h1h1m14 0h1h1h1m8 0h1m12 0h1h1m8 0h1m3 0h1m4 0h1m8 0h1m4 0h1m3 0h1m4 0h1m1 0h1h1m7 0h1h1m1 0h1h1h1m5 0h1m1 0h1m8 0h1h1m10 0h1m1 0h1m5 0h1m14 0h1m30 0h1m6 0h1m12 0h1h1m18 0h1h1m1 0h1m14 0h1m8 0h1m13 0h1m3 0h1m9 0h1h1m17 0h1m1 0h1m8 0h1m6 0h1h1m10 0h1m1 0h1m57 0h1m14 0h1m9 0h1m31 0h1m9 0h1m14 0h1M57 215.5h1m2 0h1m1 0h1m1 0h1h1m14 0h1h1h1m1 0h1m4 0h1h1h1m7 0h1h1h1m3 0h1m1 0h1m4 0h1m3 0h1m1 0h1m1 0h1m4 0h1m2 0h1m4 0h1m6 0h1h1h1m9 0h1h1h1h1m6 0h1m1 0h1m5 0h1m8 0h1m1 0h1m2 0h1m7 0h1m3 0h1m2 0h1m3 0h1m8 0h1m3 0h1m2 0h1m4 0h1m8 0h1m3 0h1h1m1 0h1m1 0h1h1m7 0h1m3 0h1m5 0h1m1 0h1h1h1m4 0h1m2 0h1h1h1m4 0h1m15 0h1m2 0h1m14 0h1m4 0h1m4 0h1m3 0h1h1m5 0h1m5 0h1m7 0h1m5 0h1m1 0h1h1m1 0h1h1m14 0h1m1 0h1m2 0h1h1h1m3 0h1m3 0h1m30 0h1m5 0h1m3 0h1m3 0h1m9 0h1m4 0h1h1m4 0h1m11 0h1m42 0h1h1h1m2 0h1m6 0h1m12 0h1m5 0h1h1m6 0h1m1 0h1m3 0h1m10 0h1m7 0h1h1m4 0h1m33 0h1m3 0h1m11 0h1m8 0h1m30 0h1m21 0h1m4 0h1m4 0h1m21 0h1m2 0h1m2 0h1m6 0h1m62 0h1M51 216.5h1m2 0h1m4 0h1h1m1 0h1m2 0h1m2 0h1m1 0h1m2 0h1m3 0h1h1m7 0h1h1h1h1m2 0h1m7 0h1h1m12 0h1h1m3 0h1m8 0h1h1m1 0h1m4 0h1m7 0h1m1 0h1m4 0h1m6 0h1m1 0h1m7 0h1m8 0h1m7 0h1m13 0h1m1 0h1m5 0h1m3 0h1m3 0h1m2 0h1m13 0h1m2 0h1m8 0h1m7 0h1m8 0h1h1m6 0h1m6 0h1m3 0h1h1m2 0h1m1 0h1m5 0h1h1m6 0h1m3 0h1m3 0h1m4 0h1m1 0h1m2 0h1m6 0h1m3 0h1m11 0h1m5 0h1m1 0h1m9 0h1h1m6 0h1h1m4 0h1m3 0h1m1 0h1m6 0h1h1m3 0h1h1m13 0h1m13 0h1m10 0h1m3 0h1h1m3 0h1h1m36 0h1m11 0h1m4 0h1m5 0h1h1m1 0h1h1m2 0h1m18 0h1h1m11 0h1m8 0h1m2 0h1h1m11 0h1m11 0h1m4 0h1h1m3 0h1m10 0h1m3 0h1m2 0h1m4 0h1m4 0h1m18 0h1m1 0h1m25 0h1m9 0h1m3 0h1m13 0h1m4 0h1m18 0h1m28 0h1m23 0h1m17 0h1m22 0h1m12 0h1m5 0h1m7 0h1h1m7 0h1m10 0h1M58 217.5h1h1h1h1h1m1 0h1m2 0h1m6 0h1h1h1m6 0h1m3 0h1h1m1 0h1m2 0h1m3 0h1h1m1 0h1m2 0h1m4 0h1m4 0h1m4 0h1h1h1m1 0h1h1m3 0h1m6 0h1m8 0h1m3 0h1m3 0h1m4 0h1h1m7 0h1m1 0h1h1m1 0h1m3 0h1h1m11 0h1m2 0h1m2 0h1m8 0h1m5 0h1m3 0h1m4 0h1h1m3 0h1m3 0h1m2 0h1m20 0h1m4 0h1m2 0h1h1h1m4 0h1m3 0h1h1m1 0h1m2 0h1m2 0h1m7 0h1h1m2 0h1m5 0h1h1m2 0h1m2 0h1m9 0h1m1 0h1m4 0h1m3 0h1m3 0h1m1 0h1m1 0h1h1m1 0h1m3 0h1m1 0h1m3 0h1m6 0h1m4 0h1m25 0h1m2 0h1m3 0h1h1m9 0h1h1m3 0h1m14 0h1h1m3 0h1m12 0h1m4 0h1m4 0h1m10 0h1m7 0h1m12 0h1m6 0h1m8 0h1m4 0h1h1m2 0h1m8 0h1m2 0h1h1m6 0h1m9 0h1m8 0h1m1 0h1m4 0h1h1m13 0h1m1 0h1m29 0h1m5 0h1h1m8 0h1m3 0h1m2 0h1m9 0h1m23 0h1m3 0h1m1 0h1m14 0h1m27 0h1m10 0h1m10 0h1m17 0h1m11 0h1m10 0h1m15 0h1m41 0h1M57 218.5h1m4 0h1m2 0h1h1m5 0h1m2 0h1m5 0h1m1 0h1m1 0h1m3 0h1m2 0h1m1 0h1m1 0h1m1 0h1m12 0h1h1h1h1m2 0h1h1m1 0h1h1m1 0h1h1m2 0h1m17 0h1m1 0h1m4 0h1m3 0h1h1m5 0h1m8 0h1h1h1m2 0h1m5 0h1m6 0h1m3 0h1m2 0h1m7 0h1m3 0h1m2 0h1h1m1 0h1m4 0h1h1m5 0h1m3 0h1m5 0h1h1m9 0h1h1m5 0h1h1m4 0h1m2 0h1m6 0h1m5 0h1m2 0h1m3 0h1m1 0h1h1m5 0h1h1m6 0h1h1m2 0h1m3 0h1m1 0h1m6 0h1m4 0h1m5 0h1h1h1m6 0h1h1m7 0h1m8 0h1m7 0h1m9 0h1m5 0h1m5 0h1m1 0h1m1 0h1m2 0h1m1 0h1m1 0h1m7 0h1m17 0h1m31 0h1m2 0h1m12 0h1m2 0h1m5 0h1m4 0h1m2 0h1m24 0h1m2 0h1m4 0h1h1m32 0h1h1m7 0h1m5 0h1m1 0h1m2 0h1h1m1 0h1m20 0h1m14 0h1m2 0h1h1m1 0h1m3 0h1m6 0h1m18 0h1m5 0h1m16 0h1h1m19 0h1m7 0h1m4 0h1m10 0h1m11 0h1m4 0h1m3 0h1m19 0h1m17 0h1m56 0h1M55 219.5h1h1m4 0h1m3 0h1m11 0h1m4 0h1h1m4 0h1m2 0h1m2 0h1m4 0h1m4 0h1h1m1 0h1m1 0h1m4 0h1h1m3 0h1m12 0h1m1 0h1m3 0h1h1m4 0h1m4 0h1h1m6 0h1h1m9 0h1m11 0h1m3 0h1m9 0h1h1h1m1 0h1m6 0h1m1 0h1m2 0h1m3 0h1h1m2 0h1m3 0h1h1m12 0h1m3 0h1m14 0h1m2 0h1m7 0h1m1 0h1h1m8 0h1h1m1 0h1m2 0h1m2 0h1m3 0h1m1 0h1m1 0h1m5 0h1m12 0h1m5 0h1m5 0h1m17 0h1m3 0h1m1 0h1h1m3 0h1m7 0h1h1h1m6 0h1m4 0h1m2 0h1m5 0h1m2 0h1m6 0h1m1 0h1h1m3 0h1m2 0h1m4 0h1m2 0h1m3 0h1m2 0h1m11 0h1m12 0h1m7 0h1m56 0h1m2 0h1m9 0h1m12 0h1m2 0h1m4 0h1m10 0h1m10 0h1m8 0h1m3 0h1m10 0h1m10 0h1m6 0h1m9 0h1m13 0h1m3 0h1m12 0h1m4 0h1m29 0h1m8 0h1m7 0h1h1m11 0h1m5 0h1m7 0h1m1 0h1m7 0h1m1 0h1m56 0h1h1m37 0h1M56 220.5h1h1m6 0h1m9 0h1m3 0h1h1m7 0h1m5 0h1m4 0h1h1m5 0h1m1 0h1m1 0h1h1m6 0h1m5 0h1m10 0h1m2 0h1m2 0h1h1m7 0h1m13 0h1m2 0h1m3 0h1m2 0h1m6 0h1m4 0h1m1 0h1m1 0h1h1m7 0h1m5 0h1m7 0h1h1m1 0h1m5 0h1m7 0h1m16 0h1h1m3 0h1m12 0h1m22 0h1m16 0h1m1 0h1h1m9 0h1m2 0h1m3 0h1h1m17 0h1h1m11 0h1m3 0h1m19 0h1h1m3 0h1m3 0h1m6 0h1m4 0h1m13 0h1h1m1 0h1h1m1 0h1m6 0h1m3 0h1m6 0h1m5 0h1m10 0h1m10 0h1m2 0h1m26 0h1m12 0h1m1 0h1m9 0h1m2 0h1m7 0h1m34 0h1m13 0h1m7 0h1h1m2 0h1m12 0h1m4 0h1m48 0h1m13 0h1m4 0h1m10 0h1m3 0h1m1 0h1h1m35 0h1m8 0h1m23 0h1m15 0h1m7 0h1m14 0h1M55 221.5h1m10 0h1m3 0h1m4 0h1m3 0h1m1 0h1m4 0h1h1m1 0h1m1 0h1m12 0h1m17 0h1h1m1 0h1h1m9 0h1m2 0h1m4 0h1m1 0h1h1h1m5 0h1m2 0h1m1 0h1m1 0h1m4 0h1h1m3 0h1h1h1m14 0h1m20 0h1m1 0h1m2 0h1m1 0h1m4 0h1m1 0h1m1 0h1h1m4 0h1m6 0h1m2 0h1m4 0h1m1 0h1m4 0h1h1m3 0h1m5 0h1m3 0h1m19 0h1m4 0h1m4 0h1m9 0h1m2 0h1m2 0h1m6 0h1h1m3 0h1h1h1h1m2 0h1m7 0h1m2 0h1h1h1m2 0h1m5 0h1m1 0h1m3 0h1m2 0h1m9 0h1m4 0h1m9 0h1m14 0h1m10 0h1m1 0h1m7 0h1m5 0h1h1m3 0h1m5 0h1m7 0h1m7 0h1m14 0h1h1m6 0h1m3 0h1m5 0h1m4 0h1m8 0h1m2 0h1m5 0h1m13 0h1m13 0h1m18 0h1m2 0h1m3 0h1m5 0h1m14 0h1m33 0h1m35 0h1m15 0h1m2 0h1m1 0h1m38 0h1m23 0h1m24 0h1m9 0h1m12 0h1m2 0h1m37 0h1M53 222.5h1h1m4 0h1h1h1m1 0h1m12 0h1h1m4 0h1h1m6 0h1m2 0h1m6 0h1m5 0h1m3 0h1m7 0h1m12 0h1h1m8 0h1m8 0h1m2 0h1h1m3 0h1m2 0h1h1m2 0h1m5 0h1h1m3 0h1m3 0h1m2 0h1m9 0h1m5 0h1h1m9 0h1h1m13 0h1m3 0h1h1h1m8 0h1h1m33 0h1m1 0h1m14 0h1m2 0h1m1 0h1m3 0h1h1m2 0h1h1h1m1 0h1m8 0h1m1 0h1m1 0h1h1m1 0h1m9 0h1m2 0h1m1 0h1m10 0h1h1m6 0h1m5 0h1m5 0h1m1 0h1m9 0h1h1h1m5 0h1m2 0h1m4 0h1m4 0h1m42 0h1m1 0h1m17 0h1m1 0h1m19 0h1m5 0h1m5 0h1m1 0h1m5 0h1m3 0h1m7 0h1m2 0h1m4 0h1m20 0h1h1m1 0h1m5 0h1m3 0h1h1m21 0h1h1h1m5 0h1m5 0h1m20 0h1m5 0h1m17 0h1m1 0h1m2 0h1m3 0h1m27 0h1m6 0h1m22 0h1m70 0h1m10 0h1M52 223.5h1m4 0h1m1 0h1m2 0h1h1m1 0h1m4 0h1m4 0h1h1m2 0h1m3 0h1m2 0h1m1 0h1m2 0h1h1h1m1 0h1m1 0h1m6 0h1h1h1m1 0h1h1m3 0h1m3 0h1m7 0h1m2 0h1h1m8 0h1m3 0h1m2 0h1m1 0h1m1 0h1h1m2 0h1m1 0h1m10 0h1m1 0h1m4 0h1m3 0h1m4 0h1m4 0h1m6 0h1m2 0h1m1 0h1h1m10 0h1m1 0h1m1 0h1m7 0h1m2 0h1m7 0h1h1h1m2 0h1m2 0h1m7 0h1m3 0h1h1m8 0h1m2 0h1m4 0h1m6 0h1h1m2 0h1m6 0h1m1 0h1h1m8 0h1m1 0h1h1m10 0h1m3 0h1h1m7 0h1m4 0h1m3 0h1m1 0h1m6 0h1m3 0h1h1m4 0h1m2 0h1m9 0h1m15 0h1m1 0h1h1h1m2 0h1m9 0h1m24 0h1m12 0h1m4 0h1m19 0h1m2 0h1m26 0h1m2 0h1m4 0h1m5 0h1m6 0h1m5 0h1m33 0h1m3 0h1m5 0h1m11 0h1m1 0h1m3 0h1m3 0h1m1 0h1m7 0h1m12 0h1m4 0h1m19 0h1m9 0h1m6 0h1m8 0h1m4 0h1m18 0h1m4 0h1m12 0h1m15 0h1m4 0h1m11 0h1m41 0h1M54 224.5h1m2 0h1m8 0h1m4 0h1m3 0h1m4 0h1m4 0h1m3 0h1h1h1h1m1 0h1m3 0h1m1 0h1m1 0h1m12 0h1h1m8 0h1m2 0h1h1h1m2 0h1h1h1m1 0h1h1m1 0h1h1m3 0h1m2 0h1m1 0h1m8 0h1h1m1 0h1m6 0h1m1 0h1m1 0h1m1 0h1m2 0h1m2 0h1m1 0h1m2 0h1m2 0h1h1m3 0h1m20 0h1h1m5 0h1h1m2 0h1m3 0h1m7 0h1m3 0h1h1m9 0h1m9 0h1m3 0h1m1 0h1m8 0h1h1h1m3 0h1m4 0h1m4 0h1m4 0h1m1 0h1m3 0h1m1 0h1m14 0h1m8 0h1m1 0h1m7 0h1m14 0h1m4 0h1m8 0h1h1h1m9 0h1m2 0h1m4 0h1m4 0h1m11 0h1m1 0h1m1 0h1m2 0h1m13 0h1m5 0h1m10 0h1m8 0h1m1 0h1h1h1m14 0h1m5 0h1m2 0h1m2 0h1m2 0h1m1 0h1m2 0h1m3 0h1h1h1m8 0h1h1m2 0h1h1m19 0h1m4 0h1m15 0h1m4 0h1m2 0h1m1 0h1m13 0h1m3 0h1m7 0h1m1 0h1m4 0h1m1 0h1m10 0h1m7 0h1m2 0h1m25 0h1m7 0h1m5 0h1m1 0h1m11 0h1m3 0h1m18 0h1m5 0h1m2 0h1m39 0h1M57 225.5h1m4 0h1m3 0h1m1 0h1m1 0h1m6 0h1h1h1m6 0h1m7 0h1m3 0h1m2 0h1h1m1 0h1m3 0h1h1m3 0h1m3 0h1m3 0h1m3 0h1m6 0h1m5 0h1m1 0h1h1m3 0h1m4 0h1m2 0h1h1h1h1h1m2 0h1m3 0h1m6 0h1h1h1m10 0h1h1m1 0h1m7 0h1m1 0h1m3 0h1m6 0h1m1 0h1m4 0h1m6 0h1m1 0h1h1m9 0h1m2 0h1m5 0h1m4 0h1m1 0h1m1 0h1m5 0h1m7 0h1h1m2 0h1m5 0h1m4 0h1h1m3 0h1m5 0h1h1h1h1m5 0h1m4 0h1h1m1 0h1m6 0h1m2 0h1m20 0h1m1 0h1m1 0h1m11 0h1h1m1 0h1m3 0h1h1m7 0h1m3 0h1m2 0h1m5 0h1h1m6 0h1m4 0h1m1 0h1m6 0h1m1 0h1m19 0h1m13 0h1m11 0h1m2 0h1m1 0h1m14 0h1m10 0h1h1h1m3 0h1h1m2 0h1m16 0h1m3 0h1m4 0h1h1m9 0h1m1 0h1m2 0h1h1m1 0h1h1m13 0h1m6 0h1m10 0h1m14 0h1m15 0h1m9 0h1h1m3 0h1m4 0h1m22 0h1m23 0h1m23 0h1m1 0h1m10 0h1m4 0h1h1m11 0h1m10 0h1m5 0h1m11 0h1m14 0h1m13 0h1m14 0h1m9 0h1M52 226.5h1m3 0h1m2 0h1h1m9 0h1h1m2 0h1m2 0h1m2 0h1m8 0h1m11 0h1m2 0h1m3 0h1m3 0h1m8 0h1m2 0h1m3 0h1m15 0h1m4 0h1m2 0h1m3 0h1m3 0h1m4 0h1m5 0h1m2 0h1m8 0h1m14 0h1h1m4 0h1h1m1 0h1m5 0h1m8 0h1m3 0h1m3 0h1h1m1 0h1h1h1h1m2 0h1h1m2 0h1m3 0h1m1 0h1m3 0h1m11 0h1m4 0h1m13 0h1m3 0h1m5 0h1m4 0h1m3 0h1h1h1m12 0h1m9 0h1m1 0h1m3 0h1m3 0h1m3 0h1m2 0h1m11 0h1h1m7 0h1m6 0h1h1m2 0h1h1m6 0h1m14 0h1m9 0h1m44 0h1h1m7 0h1m2 0h1m2 0h1h1m21 0h1m11 0h1h1m6 0h1m7 0h1m35 0h1m13 0h1m3 0h1m12 0h1m1 0h1m17 0h1m14 0h1m8 0h1m9 0h1m10 0h1h1m5 0h1m25 0h1m14 0h1m2 0h1m16 0h1h1m1 0h1m8 0h1m4 0h1m21 0h1m13 0h1M56 227.5h1h1m1 0h1m4 0h1m6 0h1h1m1 0h1h1m9 0h1m5 0h1m1 0h1m8 0h1m7 0h1m4 0h1m1 0h1m2 0h1h1m5 0h1m6 0h1h1m1 0h1m3 0h1m1 0h1h1m2 0h1m2 0h1m2 0h1h1m3 0h1h1m8 0h1m2 0h1h1m5 0h1m15 0h1m2 0h1h1m3 0h1m1 0h1m8 0h1m4 0h1h1m2 0h1m3 0h1m3 0h1m4 0h1m2 0h1m5 0h1m2 0h1m1 0h1m1 0h1m2 0h1m4 0h1m1 0h1m3 0h1m4 0h1m1 0h1m5 0h1h1m4 0h1m3 0h1m2 0h1h1m3 0h1m4 0h1h1m6 0h1m11 0h1m3 0h1m2 0h1m4 0h1m7 0h1m6 0h1m1 0h1h1m5 0h1m8 0h1m1 0h1m9 0h1m4 0h1m1 0h1m4 0h1m3 0h1m1 0h1m8 0h1m11 0h1m6 0h1m12 0h1h1m10 0h1m13 0h1m2 0h1m13 0h1h1m1 0h1m6 0h1m3 0h1m11 0h1m10 0h1m3 0h1m3 0h1m10 0h1h1m6 0h1m7 0h1h1m13 0h1m4 0h1m13 0h1m20 0h1h1m1 0h1m6 0h1m39 0h1m16 0h1m1 0h1m12 0h1m7 0h1h1m10 0h1m15 0h1m8 0h1m1 0h1m20 0h1m49 0h1M51 228.5h1m8 0h1m6 0h1m2 0h1m2 0h1m2 0h1m11 0h1m9 0h1m7 0h1m3 0h1m5 0h1m1 0h1m1 0h1m2 0h1h1m1 0h1m2 0h1m1 0h1m2 0h1m3 0h1m2 0h1m1 0h1m1 0h1m3 0h1m1 0h1m3 0h1m3 0h1m4 0h1m1 0h1h1m1 0h1m2 0h1m3 0h1m5 0h1m1 0h1h1m1 0h1m4 0h1m3 0h1h1m3 0h1m1 0h1m9 0h1m10 0h1m1 0h1m3 0h1m3 0h1m1 0h1m3 0h1m1 0h1m1 0h1m9 0h1m6 0h1h1m5 0h1m8 0h1m20 0h1m4 0h1m1 0h1h1m2 0h1m2 0h1m3 0h1m3 0h1m9 0h1m1 0h1m4 0h1m2 0h1m2 0h1m1 0h1m8 0h1m5 0h1m5 0h1m7 0h1m7 0h1h1m1 0h1m2 0h1m9 0h1m4 0h1m8 0h1m1 0h1m12 0h1h1m1 0h1m8 0h1m7 0h1m2 0h1m17 0h1m17 0h1m7 0h1m9 0h1m12 0h1m15 0h1m2 0h1m5 0h1m10 0h1m14 0h1m4 0h1m34 0h1m15 0h1m5 0h1m17 0h1m31 0h1m10 0h1m28 0h1m7 0h1m16 0h1m21 0h1M51 229.5h1m5 0h1m8 0h1h1m5 0h1m1 0h1h1m1 0h1m1 0h1m9 0h1h1m1 0h1h1m5 0h1m14 0h1h1m3 0h1m5 0h1m6 0h1h1m10 0h1h1h1m1 0h1m1 0h1m3 0h1m11 0h1m6 0h1h1h1m8 0h1m1 0h1m4 0h1m2 0h1m4 0h1m2 0h1m1 0h1h1m3 0h1m17 0h1m7 0h1m1 0h1m2 0h1m9 0h1m2 0h1m2 0h1m3 0h1m3 0h1m4 0h1m7 0h1m4 0h1m6 0h1m6 0h1h1m5 0h1m4 0h1m6 0h1m2 0h1m1 0h1m1 0h1m15 0h1h1m3 0h1m3 0h1m11 0h1m1 0h1m3 0h1m1 0h1m5 0h1m15 0h1m11 0h1m1 0h1m4 0h1m4 0h1m12 0h1h1m11 0h1m5 0h1m2 0h1m3 0h1m4 0h1m3 0h1m2 0h1m3 0h1m1 0h1m12 0h1m2 0h1m7 0h1m12 0h1m9 0h1m2 0h1h1m19 0h1m8 0h1m8 0h1m13 0h1m1 0h1h1h1m8 0h1m1 0h1m1 0h1m3 0h1m2 0h1m4 0h1m13 0h1m3 0h1m9 0h1h1m5 0h1m3 0h1m8 0h1m1 0h1m11 0h1m7 0h1m9 0h1m2 0h1m4 0h1h1m2 0h1m18 0h1m15 0h1M51 230.5h1m7 0h1h1m2 0h1m5 0h1m2 0h1h1m3 0h1m15 0h1m2 0h1m2 0h1m4 0h1m1 0h1h1m3 0h1m1 0h1m2 0h1m5 0h1m2 0h1m8 0h1m2 0h1m2 0h1m4 0h1h1m6 0h1m4 0h1m10 0h1m11 0h1m2 0h1m6 0h1h1m3 0h1m4 0h1m5 0h1h1h1h1m1 0h1m2 0h1m6 0h1m3 0h1m12 0h1m5 0h1h1m2 0h1m1 0h1m3 0h1m5 0h1m1 0h1m1 0h1m1 0h1m12 0h1m13 0h1m1 0h1m6 0h1m7 0h1m8 0h1m3 0h1h1m6 0h1m1 0h1m8 0h1m2 0h1h1m2 0h1m9 0h1m16 0h1h1h1h1m4 0h1m2 0h1m2 0h1m3 0h1m2 0h1m3 0h1m5 0h1m6 0h1m11 0h1h1m15 0h1h1m10 0h1m5 0h1m12 0h1m9 0h1h1m1 0h1m7 0h1m4 0h1m3 0h1h1m3 0h1m1 0h1m7 0h1m25 0h1m7 0h1m2 0h1h1m2 0h1m7 0h1m2 0h1m13 0h1m8 0h1h1m1 0h1m4 0h1m4 0h1m12 0h1h1m17 0h1m15 0h1m35 0h1m5 0h1m4 0h1m3 0h1m4 0h1h1m12 0h1m4 0h1m21 0h1h1M51 231.5h1m3 0h1m12 0h1m2 0h1m4 0h1m4 0h1h1m2 0h1m6 0h1h1h1m5 0h1m1 0h1m3 0h1m1 0h1m1 0h1m3 0h1m1 0h1m2 0h1m1 0h1m4 0h1m11 0h1m1 0h1h1m14 0h1m9 0h1m1 0h1m1 0h1m11 0h1m5 0h1m3 0h1m2 0h1m2 0h1m1 0h1h1m5 0h1m5 0h1m4 0h1m3 0h1m6 0h1m5 0h1m5 0h1m9 0h1m1 0h1h1m1 0h1m11 0h1m2 0h1m1 0h1m3 0h1h1m7 0h1m5 0h1m6 0h1m3 0h1h1m1 0h1h1m2 0h1m5 0h1h1m3 0h1m12 0h1m19 0h1m29 0h1m1 0h1m2 0h1m3 0h1m4 0h1m17 0h1m1 0h1m10 0h1m4 0h1m23 0h1m13 0h1h1m10 0h1m5 0h1m9 0h1m1 0h1m3 0h1m2 0h1m1 0h1h1m6 0h1m4 0h1m3 0h1m3 0h1m18 0h1m2 0h1m2 0h1m4 0h1m33 0h1m19 0h1m6 0h1m14 0h1m2 0h1m4 0h1h1h1m16 0h1m33 0h1m40 0h1m8 0h1M52 232.5h1m5 0h1h1h1m1 0h1h1m1 0h1m1 0h1m2 0h1m3 0h1m5 0h1m2 0h1h1m16 0h1m1 0h1m6 0h1m1 0h1h1m2 0h1h1m3 0h1m1 0h1m1 0h1m3 0h1m1 0h1m5 0h1m4 0h1m7 0h1m5 0h1h1m10 0h1h1m1 0h1m2 0h1m2 0h1h1h1m5 0h1m3 0h1m6 0h1m5 0h1m7 0h1h1m1 0h1m7 0h1m3 0h1m9 0h1m2 0h1m2 0h1m5 0h1m6 0h1m2 0h1m2 0h1m2 0h1m3 0h1m13 0h1m1 0h1h1m9 0h1h1m13 0h1h1m7 0h1m6 0h1m8 0h1h1m23 0h1m1 0h1m5 0h1m4 0h1m2 0h1m7 0h1h1m9 0h1h1m4 0h1h1m1 0h1m10 0h1m10 0h1m4 0h1m18 0h1m3 0h1m2 0h1m5 0h1m11 0h1m2 0h1m1 0h1h1m15 0h1h1h1m5 0h1m14 0h1m5 0h1m8 0h1m10 0h1m15 0h1m16 0h1m8 0h1m8 0h1m5 0h1m6 0h1h1h1m5 0h1h1m5 0h1m28 0h1m11 0h1m1 0h1h1m9 0h1m20 0h1m19 0h1M55 233.5h1m3 0h1m2 0h1m1 0h1m5 0h1m3 0h1m1 0h1m3 0h1m6 0h1h1m9 0h1m5 0h1m4 0h1m13 0h1m8 0h1m2 0h1m2 0h1m2 0h1m5 0h1m11 0h1m8 0h1m5 0h1m1 0h1m4 0h1m2 0h1h1m1 0h1m1 0h1h1h1m1 0h1m1 0h1m1 0h1m6 0h1m3 0h1m13 0h1h1m2 0h1m3 0h1m2 0h1h1m1 0h1m8 0h1m2 0h1m2 0h1m2 0h1h1m4 0h1m2 0h1m9 0h1m13 0h1m7 0h1m2 0h1h1m4 0h1m3 0h1m2 0h1m3 0h1h1m5 0h1m8 0h1h1h1m4 0h1m3 0h1m3 0h1m5 0h1m6 0h1m8 0h1m1 0h1m3 0h1m1 0h1m5 0h1m2 0h1m1 0h1m9 0h1m3 0h1m2 0h1m1 0h1m1 0h1m9 0h1m26 0h1m3 0h1m16 0h1m13 0h1m5 0h1m3 0h1h1m5 0h1m9 0h1h1m1 0h1m1 0h1m3 0h1h1m1 0h1m13 0h1m3 0h1h1m9 0h1m2 0h1m20 0h1m3 0h1h1m27 0h1m7 0h1m5 0h1m2 0h1m8 0h1h1m2 0h1m5 0h1m18 0h1m7 0h1m12 0h1m6 0h1m31 0h1m9 0h1m13 0h1M51 234.5h1m5 0h1m3 0h1m4 0h1h1m8 0h1h1m2 0h1m6 0h1m10 0h1m8 0h1h1m2 0h1m4 0h1h1m9 0h1m1 0h1h1m1 0h1m1 0h1m3 0h1m4 0h1h1m2 0h1m2 0h1m1 0h1m5 0h1m12 0h1m7 0h1m1 0h1m10 0h1h1h1m1 0h1h1h1m1 0h1m1 0h1m12 0h1m2 0h1h1m8 0h1m4 0h1m1 0h1h1m6 0h1m11 0h1m4 0h1m1 0h1m8 0h1m1 0h1m2 0h1m2 0h1m2 0h1m16 0h1m10 0h1h1m2 0h1m2 0h1h1m9 0h1m4 0h1m4 0h1m14 0h1m3 0h1m1 0h1m5 0h1m9 0h1m4 0h1m6 0h1m4 0h1m2 0h1m15 0h1m12 0h1m1 0h1m12 0h1m2 0h1m27 0h1m1 0h1m9 0h1m21 0h1h1m1 0h1m10 0h1m17 0h1m13 0h1h1h1h1m18 0h1m17 0h1m5 0h1m19 0h1m1 0h1m17 0h1m1 0h1m18 0h1m24 0h1m3 0h1m37 0h1m2 0h1m40 0h1M53 235.5h1h1m2 0h1h1m2 0h1m3 0h1h1m3 0h1m6 0h1m3 0h1m2 0h1m1 0h1m5 0h1h1m3 0h1m2 0h1h1m11 0h1h1m1 0h1m2 0h1m2 0h1m3 0h1m3 0h1m13 0h1m1 0h1m1 0h1m2 0h1m2 0h1m3 0h1m4 0h1h1h1m1 0h1m1 0h1h1m2 0h1h1m9 0h1m2 0h1m6 0h1m5 0h1m1 0h1m4 0h1m3 0h1m1 0h1m5 0h1m11 0h1m5 0h1h1m1 0h1m4 0h1m2 0h1h1m1 0h1m1 0h1m1 0h1h1m1 0h1h1m8 0h1m3 0h1m3 0h1m1 0h1h1m4 0h1m9 0h1m3 0h1m4 0h1m2 0h1m2 0h1m9 0h1m2 0h1m2 0h1m8 0h1m1 0h1h1m8 0h1m6 0h1m16 0h1m1 0h1m4 0h1m5 0h1m4 0h1m4 0h1m7 0h1m1 0h1m2 0h1m5 0h1h1m4 0h1m3 0h1m5 0h1m13 0h1h1h1h1h1m4 0h1m6 0h1m6 0h1m16 0h1m8 0h1m1 0h1m3 0h1m7 0h1m19 0h1m11 0h1m16 0h1m10 0h1h1h1h1h1m27 0h1h1m5 0h1h1m24 0h1m2 0h1m10 0h1m32 0h1m5 0h1m7 0h1m21 0h1m2 0h1m26 0h1M53 236.5h1m2 0h1m6 0h1m1 0h1m3 0h1m3 0h1m7 0h1m1 0h1m5 0h1m10 0h1h1m5 0h1m1 0h1m15 0h1h1h1m11 0h1m1 0h1m4 0h1h1h1h1m17 0h1m1 0h1m2 0h1m3 0h1m5 0h1h1m3 0h1m3 0h1m2 0h1m10 0h1m1 0h1h1m1 0h1m3 0h1m1 0h1m7 0h1m1 0h1h1h1m3 0h1m5 0h1m3 0h1m5 0h1m1 0h1h1h1m5 0h1h1m2 0h1m3 0h1m2 0h1m3 0h1m1 0h1h1m9 0h1m11 0h1h1m11 0h1h1m1 0h1m12 0h1m23 0h1m6 0h1m1 0h1m23 0h1m5 0h1m4 0h1m2 0h1m5 0h1m7 0h1m2 0h1h1m12 0h1m11 0h1m4 0h1h1m10 0h1m2 0h1m2 0h1m2 0h1m1 0h1m1 0h1m11 0h1m2 0h1m18 0h1m1 0h1m57 0h1m4 0h1m6 0h1m17 0h1m11 0h1h1m14 0h1h1m4 0h1m12 0h1m5 0h1m11 0h1m8 0h1m4 0h1m31 0h1m7 0h1M54 237.5h1m4 0h1h1m1 0h1m3 0h1h1m6 0h1m3 0h1m7 0h1m1 0h1h1m11 0h1m2 0h1h1m4 0h1h1h1m2 0h1m2 0h1m9 0h1m13 0h1m5 0h1m15 0h1m5 0h1m4 0h1m2 0h1m4 0h1m10 0h1m1 0h1m13 0h1m1 0h1h1m2 0h1m2 0h1m7 0h1m10 0h1m2 0h1h1m1 0h1m12 0h1m2 0h1m14 0h1m2 0h1m3 0h1m1 0h1m8 0h1h1m2 0h1m1 0h1m2 0h1m3 0h1m8 0h1h1m4 0h1m17 0h1m4 0h1m3 0h1h1m5 0h1m2 0h1h1m4 0h1m1 0h1m6 0h1m14 0h1h1m9 0h1m3 0h1m7 0h1m4 0h1m4 0h1m1 0h1h1m6 0h1h1m12 0h1m2 0h1m7 0h1h1m4 0h1m2 0h1m2 0h1m4 0h1m6 0h1m16 0h1m9 0h1m4 0h1m5 0h1m17 0h1m21 0h1m10 0h1m13 0h1m8 0h1m3 0h1m2 0h1m12 0h1m11 0h1m30 0h1m4 0h1m2 0h1m1 0h1m13 0h1m48 0h1M52 238.5h1m3 0h1h1m1 0h1m1 0h1h1h1m6 0h1m4 0h1m3 0h1h1m5 0h1h1h1m1 0h1m3 0h1h1m4 0h1m1 0h1h1m3 0h1m1 0h1h1m2 0h1m3 0h1m5 0h1m2 0h1m10 0h1m4 0h1m2 0h1m3 0h1m5 0h1h1m9 0h1h1m21 0h1h1h1m2 0h1m3 0h1m10 0h1m2 0h1m1 0h1m5 0h1m4 0h1m4 0h1h1m3 0h1m1 0h1m2 0h1h1m1 0h1m1 0h1h1m1 0h1m3 0h1h1m4 0h1m2 0h1m3 0h1m9 0h1m3 0h1m2 0h1h1m4 0h1m2 0h1h1m1 0h1h1h1h1h1m2 0h1m8 0h1h1m2 0h1m3 0h1m1 0h1m13 0h1m2 0h1m2 0h1h1m1 0h1m1 0h1m15 0h1m4 0h1m2 0h1m1 0h1m5 0h1m22 0h1m2 0h1h1m6 0h1m2 0h1m3 0h1m2 0h1h1m5 0h1h1m42 0h1m1 0h1m2 0h1m9 0h1m14 0h1m10 0h1m23 0h1m21 0h1m10 0h1m7 0h1m15 0h1h1m1 0h1h1m18 0h1m7 0h1m9 0h1m19 0h1h1m12 0h1m8 0h1m5 0h1m6 0h1m1 0h1m16 0h1M55 239.5h1m2 0h1m3 0h1m3 0h1h1m3 0h1m2 0h1m4 0h1h1m1 0h1m2 0h1m1 0h1h1h1m2 0h1m2 0h1m1 0h1m6 0h1m7 0h1m2 0h1m7 0h1h1m2 0h1m1 0h1m2 0h1m2 0h1m1 0h1m1 0h1m4 0h1m5 0h1m6 0h1h1m4 0h1m5 0h1h1h1m5 0h1h1m3 0h1h1m5 0h1m7 0h1m13 0h1h1m1 0h1h1h1m2 0h1m3 0h1m1 0h1m1 0h1m1 0h1m1 0h1m4 0h1m4 0h1m3 0h1m3 0h1m1 0h1m2 0h1m2 0h1m18 0h1m1 0h1m5 0h1h1m12 0h1m12 0h1m6 0h1m1 0h1h1m2 0h1m10 0h1h1m4 0h1m3 0h1h1m4 0h1m1 0h1m29 0h1m1 0h1h1m1 0h1m7 0h1m4 0h1h1m6 0h1m15 0h1m1 0h1m1 0h1m3 0h1m1 0h1m5 0h1m13 0h1m7 0h1m3 0h1m1 0h1m5 0h1m19 0h1h1m16 0h1m10 0h1m5 0h1m9 0h1m5 0h1h1m2 0h1m3 0h1m6 0h1m10 0h1m12 0h1m8 0h1h1m8 0h1m5 0h1m12 0h1m8 0h1m6 0h1h1m3 0h1m5 0h1m10 0h1m3 0h1M55 240.5h1h1m3 0h1m4 0h1m7 0h1m1 0h1h1h1h1m3 0h1m1 0h1m7 0h1m6 0h1m5 0h1m2 0h1m1 0h1h1h1h1m2 0h1m2 0h1h1m1 0h1m6 0h1m17 0h1m3 0h1m1 0h1m1 0h1h1m3 0h1m1 0h1m1 0h1m7 0h1m2 0h1h1m1 0h1m5 0h1m7 0h1m1 0h1h1m1 0h1h1m2 0h1h1m6 0h1m8 0h1m2 0h1m2 0h1h1m1 0h1m1 0h1m5 0h1h1h1h1m9 0h1h1m5 0h1m1 0h1h1m6 0h1h1m8 0h1m14 0h1m6 0h1m2 0h1m3 0h1m1 0h1m1 0h1m3 0h1m3 0h1h1m6 0h1m3 0h1m5 0h1h1m1 0h1m3 0h1m1 0h1m1 0h1m4 0h1m1 0h1m2 0h1h1m4 0h1h1m3 0h1m1 0h1h1m1 0h1m7 0h1m7 0h1m1 0h1m4 0h1m16 0h1m4 0h1m3 0h1m1 0h1h1m3 0h1m1 0h1h1m1 0h1m9 0h1m5 0h1m7 0h1m12 0h1m3 0h1m9 0h1m1 0h1m21 0h1m2 0h1m15 0h1m6 0h1h1m6 0h1m6 0h1m2 0h1m12 0h1m13 0h1h1m1 0h1m43 0h1m11 0h1m4 0h1m25 0h1m13 0h1m11 0h1M55 241.5h1h1m3 0h1m2 0h1m5 0h1m4 0h1h1m2 0h1m11 0h1m6 0h1m1 0h1m1 0h1m1 0h1m5 0h1m1 0h1h1m8 0h1m7 0h1m7 0h1m2 0h1m4 0h1m2 0h1m5 0h1m3 0h1h1h1m7 0h1m2 0h1m1 0h1m2 0h1m2 0h1m5 0h1h1m2 0h1m6 0h1m7 0h1m1 0h1h1m6 0h1m1 0h1m7 0h1m4 0h1m8 0h1h1h1m15 0h1m9 0h1m2 0h1m1 0h1m3 0h1h1m2 0h1m1 0h1m11 0h1m6 0h1m9 0h1m1 0h1h1m1 0h1h1m3 0h1m11 0h1h1m4 0h1m2 0h1h1m5 0h1h1m1 0h1m5 0h1m2 0h1m1 0h1m1 0h1m1 0h1m8 0h1m1 0h1m9 0h1m18 0h1h1m4 0h1m3 0h1m1 0h1h1m4 0h1m4 0h1m9 0h1m2 0h1m3 0h1m6 0h1m1 0h1m5 0h1m28 0h1m11 0h1h1m3 0h1m1 0h1m4 0h1h1m14 0h1m2 0h1m11 0h1h1m1 0h1h1m2 0h1h1m22 0h1m15 0h1m45 0h1h1m8 0h1m5 0h1m14 0h1M56 242.5h1h1m7 0h1m2 0h1h1m6 0h1h1m4 0h1h1h1m6 0h1h1h1m5 0h1m1 0h1m10 0h1m3 0h1m2 0h1m5 0h1m2 0h1h1m19 0h1m3 0h1h1h1m2 0h1m4 0h1m5 0h1h1m11 0h1m2 0h1h1m1 0h1m6 0h1m6 0h1m1 0h1m4 0h1m1 0h1h1m4 0h1m3 0h1h1m18 0h1m8 0h1h1m11 0h1m6 0h1m3 0h1m5 0h1m6 0h1m31 0h1m5 0h1m10 0h1m2 0h1m4 0h1h1m4 0h1m2 0h1m1 0h1m3 0h1m3 0h1m1 0h1m3 0h1m9 0h1m2 0h1m2 0h1m1 0h1m2 0h1h1h1m4 0h1m20 0h1m4 0h1m1 0h1h1m17 0h1m1 0h1m31 0h1m4 0h1m9 0h1m3 0h1m10 0h1m1 0h1h1m5 0h1m6 0h1m26 0h1h1m4 0h1m6 0h1h1m2 0h1h1m9 0h1m10 0h1m19 0h1m3 0h1h1m9 0h1m4 0h1m17 0h1m30 0h1m19 0h1M52 243.5h1h1h1m1 0h1m2 0h1m3 0h1m4 0h1m6 0h1m1 0h1m8 0h1m2 0h1m1 0h1h1m5 0h1h1h1m1 0h1m1 0h1h1h1m12 0h1h1m4 0h1m4 0h1m2 0h1m4 0h1m2 0h1h1h1h1h1m1 0h1h1m2 0h1m1 0h1h1m4 0h1m1 0h1m8 0h1m2 0h1m4 0h1m2 0h1m2 0h1m1 0h1m4 0h1m1 0h1h1h1h1m2 0h1m5 0h1h1h1m3 0h1m1 0h1m10 0h1m4 0h1m1 0h1m1 0h1m1 0h1m3 0h1m1 0h1m2 0h1m14 0h1m4 0h1h1m5 0h1m2 0h1m3 0h1h1m1 0h1m5 0h1h1m5 0h1m22 0h1m11 0h1m1 0h1m4 0h1m3 0h1m3 0h1m5 0h1m3 0h1m2 0h1m1 0h1m8 0h1m12 0h1m2 0h1m1 0h1m1 0h1m14 0h1h1m8 0h1m11 0h1m8 0h1m3 0h1m2 0h1m1 0h1m8 0h1h1m2 0h1m2 0h1m19 0h1h1h1m8 0h1m1 0h1m5 0h1m1 0h1m2 0h1m10 0h1m1 0h1m14 0h1m6 0h1m3 0h1m9 0h1m3 0h1m3 0h1h1m30 0h1m7 0h1m7 0h1m4 0h1m7 0h1m2 0h1m2 0h1m4 0h1m8 0h1m4 0h1M53 244.5h1h1m4 0h1m2 0h1m3 0h1m2 0h1m6 0h1m1 0h1h1h1m3 0h1m1 0h1h1m1 0h1m13 0h1m4 0h1h1m12 0h1m3 0h1h1h1m1 0h1h1m2 0h1m1 0h1m6 0h1m1 0h1m6 0h1m3 0h1m2 0h1m1 0h1m13 0h1m8 0h1m5 0h1m8 0h1m2 0h1m9 0h1h1m2 0h1m4 0h1m2 0h1m6 0h1m2 0h1m2 0h1h1h1h1m1 0h1m8 0h1m1 0h1m2 0h1m7 0h1m2 0h1m1 0h1m3 0h1m7 0h1m2 0h1m6 0h1h1m2 0h1h1h1m1 0h1m7 0h1m9 0h1m3 0h1m4 0h1h1m1 0h1m2 0h1h1m9 0h1m4 0h1m1 0h1m1 0h1h1m6 0h1m1 0h1m13 0h1h1m10 0h1m9 0h1h1m14 0h1h1m2 0h1m3 0h1h1m6 0h1m12 0h1m2 0h1h1m10 0h1m5 0h1m6 0h1m6 0h1m10 0h1m4 0h1m8 0h1m5 0h1m1 0h1m1 0h1h1m4 0h1m22 0h1h1m2 0h1m6 0h1m7 0h1m18 0h1m1 0h1m59 0h1h1M52 245.5h1m3 0h1h1h1m1 0h1h1m2 0h1h1m7 0h1h1m2 0h1h1m4 0h1m1 0h1m1 0h1h1m1 0h1m5 0h1h1m1 0h1m5 0h1m3 0h1m3 0h1h1m1 0h1m2 0h1m9 0h1h1h1m1 0h1m13 0h1m9 0h1m3 0h1m1 0h1m4 0h1m5 0h1m2 0h1m2 0h1m11 0h1m1 0h1m4 0h1h1h1m6 0h1m1 0h1m7 0h1m2 0h1h1m10 0h1m6 0h1m2 0h1m3 0h1m2 0h1m2 0h1m4 0h1m3 0h1m14 0h1m6 0h1m7 0h1m2 0h1m5 0h1m15 0h1m1 0h1m5 0h1h1m5 0h1m3 0h1m3 0h1h1h1h1m2 0h1h1m1 0h1m2 0h1m9 0h1m2 0h1h1m8 0h1m1 0h1m3 0h1m8 0h1m1 0h1h1m5 0h1m6 0h1m6 0h1m1 0h1m11 0h1m7 0h1m2 0h1h1m12 0h1m14 0h1m39 0h1h1m4 0h1m20 0h1m25 0h1m38 0h1m3 0h1m10 0h1m7 0h1m13 0h1m5 0h1h1M62 246.5h1m1 0h1m1 0h1m3 0h1h1m7 0h1h1m3 0h1m1 0h1h1m2 0h1m3 0h1m3 0h1m2 0h1m5 0h1m3 0h1h1m1 0h1m2 0h1m11 0h1m2 0h1m4 0h1m1 0h1m5 0h1m6 0h1m2 0h1h1m4 0h1h1m3 0h1m2 0h1m3 0h1m2 0h1m5 0h1h1m7 0h1m4 0h1m2 0h1m1 0h1h1m1 0h1m4 0h1m10 0h1m3 0h1m2 0h1h1m4 0h1m1 0h1m1 0h1m14 0h1m7 0h1m1 0h1h1m6 0h1m3 0h1m1 0h1h1m2 0h1m3 0h1m3 0h1m3 0h1m4 0h1h1h1m1 0h1h1m5 0h1h1m14 0h1m2 0h1m2 0h1h1m4 0h1m3 0h1m3 0h1m6 0h1m2 0h1m2 0h1h1m5 0h1m11 0h1m6 0h1m5 0h1m3 0h1m8 0h1h1m1 0h1m2 0h1m5 0h1m13 0h1h1m7 0h1h1m1 0h1m9 0h1m4 0h1m3 0h1m4 0h1m4 0h1m2 0h1m13 0h1m9 0h1m9 0h1m14 0h1m1 0h1m4 0h1m4 0h1m9 0h1m10 0h1h1m3 0h1m5 0h1m2 0h1m8 0h1m5 0h1m29 0h1m3 0h1M54 247.5h1m2 0h1h1h1h1m4 0h1m4 0h1m8 0h1m1 0h1m5 0h1h1m4 0h1m4 0h1m1 0h1h1m4 0h1h1m1 0h1m3 0h1m8 0h1m3 0h1h1m1 0h1m4 0h1m1 0h1h1m2 0h1m7 0h1m2 0h1m2 0h1m9 0h1h1m3 0h1h1m1 0h1m8 0h1m1 0h1m1 0h1m7 0h1h1m2 0h1h1m7 0h1m6 0h1h1m9 0h1h1m4 0h1m6 0h1h1m10 0h1m4 0h1m2 0h1h1m1 0h1h1m1 0h1m11 0h1h1m2 0h1h1m4 0h1h1m1 0h1h1m11 0h1m6 0h1m2 0h1m1 0h1m8 0h1m1 0h1m5 0h1m2 0h1m5 0h1h1m1 0h1m16 0h1m14 0h1h1m1 0h1m1 0h1m2 0h1m2 0h1m6 0h1h1m8 0h1m1 0h1m6 0h1m13 0h1m6 0h1m11 0h1m21 0h1m3 0h1m1 0h1m3 0h1m2 0h1m3 0h1m7 0h1h1m7 0h1m3 0h1m2 0h1m2 0h1m1 0h1h1m16 0h1h1m13 0h1m9 0h1m11 0h1m1 0h1m16 0h1m1 0h1m17 0h1m7 0h1m10 0h1m2 0h1m11 0h1m16 0h1M57 248.5h1m14 0h1m5 0h1h1m5 0h1h1h1h1m1 0h1h1h1h1m14 0h1m4 0h1m14 0h1m1 0h1m1 0h1h1m2 0h1m1 0h1m4 0h1m2 0h1h1m1 0h1m4 0h1m8 0h1m7 0h1h1m2 0h1h1m4 0h1m8 0h1m3 0h1h1m4 0h1h1m3 0h1h1m9 0h1m7 0h1m2 0h1m3 0h1m2 0h1h1m3 0h1h1m1 0h1m7 0h1m1 0h1m2 0h1m2 0h1m1 0h1m4 0h1m2 0h1m8 0h1m2 0h1m1 0h1m3 0h1m2 0h1m8 0h1m3 0h1m3 0h1m8 0h1m2 0h1m3 0h1m4 0h1m16 0h1m8 0h1m9 0h1m8 0h1m16 0h1m6 0h1h1h1m8 0h1m10 0h1m3 0h1m21 0h1m8 0h1m4 0h1m6 0h1m6 0h1m1 0h1h1m11 0h1m6 0h1m7 0h1m27 0h1m5 0h1h1m13 0h1m6 0h1m31 0h1m7 0h1m51 0h1M53 249.5h1m2 0h1m3 0h1m3 0h1m2 0h1m4 0h1m4 0h1m4 0h1m3 0h1h1h1m7 0h1m8 0h1m3 0h1m3 0h1m1 0h1m9 0h1m11 0h1m7 0h1m9 0h1m7 0h1m5 0h1m1 0h1m1 0h1m1 0h1m2 0h1m2 0h1m3 0h1m9 0h1h1m3 0h1m2 0h1m3 0h1m6 0h1m2 0h1m5 0h1h1m2 0h1h1m10 0h1m4 0h1m10 0h1m12 0h1m4 0h1h1m3 0h1h1m3 0h1m2 0h1m1 0h1m6 0h1m4 0h1h1m1 0h1h1m9 0h1m1 0h1h1m4 0h1h1m17 0h1m9 0h1m7 0h1m2 0h1m6 0h1m3 0h1m3 0h1m1 0h1m9 0h1m1 0h1m7 0h1m7 0h1m12 0h1m3 0h1m6 0h1m18 0h1m3 0h1m3 0h1m25 0h1h1m6 0h1m18 0h1m3 0h1m15 0h1h1m3 0h1m6 0h1m6 0h1m2 0h1m22 0h1m16 0h1h1m6 0h1M52 250.5h1h1m1 0h1m2 0h1m3 0h1h1m1 0h1m1 0h1h1m2 0h1h1m11 0h1m2 0h1h1m2 0h1m9 0h1m3 0h1m3 0h1m5 0h1m2 0h1m12 0h1h1m7 0h1m7 0h1h1m6 0h1m2 0h1m2 0h1m3 0h1m4 0h1m4 0h1m3 0h1h1m1 0h1m6 0h1m1 0h1m2 0h1h1m4 0h1h1m6 0h1m3 0h1m10 0h1h1h1m5 0h1m6 0h1m3 0h1m9 0h1m1 0h1m1 0h1m4 0h1h1m7 0h1m4 0h1h1m4 0h1m6 0h1h1m3 0h1m2 0h1m4 0h1m2 0h1h1m1 0h1m5 0h1h1h1h1h1m14 0h1m4 0h1m1 0h1m5 0h1h1m16 0h1m1 0h1m15 0h1m2 0h1m16 0h1m3 0h1m2 0h1h1m5 0h1m1 0h1m1 0h1m2 0h1m1 0h1m18 0h1m15 0h1m2 0h1m2 0h1m3 0h1m3 0h1m4 0h1m1 0h1m4 0h1m9 0h1m14 0h1m8 0h1m9 0h1m13 0h1m2 0h1m5 0h1m5 0h1h1m20 0h1m10 0h1m19 0h1m27 0h1M51 251.5h1m3 0h1m2 0h1m11 0h1m4 0h1m1 0h1m10 0h1m3 0h1h1h1h1m3 0h1m1 0h1h1m3 0h1m4 0h1m4 0h1h1m4 0h1m1 0h1m1 0h1m1 0h1h1m1 0h1m1 0h1h1m16 0h1m1 0h1m8 0h1h1m4 0h1m2 0h1m3 0h1m8 0h1h1m1 0h1h1m1 0h1m7 0h1m11 0h1h1m6 0h1m2 0h1h1m7 0h1m4 0h1m1 0h1m1 0h1m1 0h1m10 0h1h1m2 0h1m3 0h1m7 0h1m1 0h1m1 0h1m2 0h1m3 0h1m1 0h1m3 0h1m14 0h1m5 0h1m11 0h1m9 0h1m1 0h1m1 0h1m3 0h1m8 0h1m5 0h1m11 0h1m14 0h1m1 0h1m17 0h1m1 0h1m8 0h1m2 0h1m1 0h1m1 0h1m8 0h1m1 0h1h1m1 0h1m7 0h1m2 0h1m7 0h1m16 0h1m1 0h1m19 0h1m3 0h1m9 0h1m10 0h1m2 0h1m8 0h1m7 0h1m5 0h1m9 0h1h1h1m2 0h1m2 0h1m6 0h1m13 0h1m5 0h1m25 0h1m3 0h1m4 0h1M52 252.5h1h1m5 0h1m2 0h1h1m12 0h1h1m8 0h1m23 0h1m9 0h1m6 0h1m1 0h1m3 0h1h1m6 0h1m1 0h1m2 0h1m2 0h1m3 0h1m2 0h1m2 0h1m4 0h1h1m3 0h1m4 0h1m1 0h1m3 0h1m11 0h1m4 0h1m2 0h1m1 0h1m2 0h1m1 0h1m1 0h1h1h1m3 0h1h1m5 0h1h1m2 0h1m7 0h1m4 0h1m2 0h1m2 0h1m2 0h1h1m4 0h1h1h1h1h1m4 0h1m2 0h1m5 0h1m3 0h1m6 0h1m4 0h1m2 0h1m7 0h1m3 0h1m1 0h1h1m12 0h1m9 0h1m2 0h1m5 0h1m6 0h1m1 0h1h1m4 0h1h1m4 0h1m3 0h1m5 0h1m8 0h1m1 0h1h1m16 0h1h1m1 0h1h1h1h1m1 0h1m5 0h1m7 0h1m5 0h1m1 0h1m1 0h1m8 0h1m6 0h1m1 0h1m2 0h1m1 0h1h1m17 0h1m39 0h1m10 0h1m1 0h1m16 0h1h1m12 0h1m9 0h1h1m1 0h1h1m4 0h1m27 0h1M51 253.5h1h1m1 0h1h1m2 0h1m1 0h1m1 0h1m1 0h1h1h1m2 0h1m3 0h1m2 0h1m2 0h1h1m5 0h1m6 0h1m3 0h1m3 0h1h1m1 0h1m5 0h1m8 0h1m10 0h1h1m1 0h1m1 0h1m1 0h1m7 0h1m7 0h1h1m1 0h1m5 0h1m9 0h1m5 0h1m5 0h1m6 0h1h1h1m8 0h1m5 0h1m3 0h1m5 0h1m2 0h1h1m2 0h1m6 0h1h1h1h1m1 0h1m1 0h1m8 0h1m2 0h1m1 0h1h1m4 0h1m6 0h1m8 0h1m4 0h1m3 0h1m1 0h1m1 0h1m4 0h1m3 0h1m5 0h1h1m10 0h1m5 0h1m3 0h1m5 0h1m13 0h1m14 0h1h1m10 0h1m7 0h1m3 0h1m23 0h1m1 0h1m3 0h1m3 0h1m3 0h1m4 0h1h1m4 0h1m8 0h1m3 0h1h1h1h1m11 0h1m21 0h1m1 0h1m23 0h1h1m3 0h1m3 0h1m20 0h1m12 0h1h1m14 0h1m15 0h1M56 254.5h1h1m2 0h1m4 0h1h1m1 0h1m1 0h1h1m4 0h1m4 0h1m2 0h1m3 0h1m4 0h1m1 0h1m1 0h1m2 0h1h1h1m1 0h1h1m7 0h1h1m14 0h1m1 0h1m1 0h1m7 0h1m3 0h1m9 0h1m5 0h1m1 0h1m7 0h1m9 0h1m10 0h1m1 0h1h1m14 0h1m3 0h1h1m31 0h1m6 0h1h1m1 0h1m1 0h1h1m2 0h1h1m1 0h1h1h1h1m7 0h1m11 0h1m2 0h1m1 0h1h1m7 0h1m10 0h1m11 0h1m11 0h1m7 0h1h1h1m2 0h1m8 0h1m1 0h1m4 0h1m4 0h1m1 0h1m4 0h1m5 0h1m5 0h1m2 0h1m5 0h1m9 0h1m2 0h1m9 0h1h1m1 0h1m15 0h1m3 0h1m2 0h1m12 0h1m18 0h1m2 0h1m4 0h1m1 0h1m7 0h1m2 0h1m22 0h1m2 0h1h1m25 0h1m5 0h1m12 0h1m9 0h1M53 255.5h1m10 0h1h1m2 0h1m3 0h1m5 0h1m5 0h1m2 0h1h1m3 0h1m2 0h1m2 0h1m1 0h1m2 0h1m2 0h1m5 0h1m3 0h1m1 0h1m4 0h1m8 0h1m1 0h1m1 0h1m2 0h1h1h1m4 0h1m1 0h1m3 0h1m2 0h1h1m4 0h1h1h1m2 0h1h1m10 0h1h1m2 0h1m1 0h1h1m3 0h1m6 0h1m2 0h1m2 0h1m11 0h1m7 0h1m1 0h1m4 0h1m1 0h1m2 0h1m4 0h1m4 0h1m1 0h1h1m4 0h1m9 0h1h1m1 0h1m18 0h1m10 0h1h1m1 0h1m3 0h1m7 0h1m6 0h1m2 0h1h1m4 0h1m3 0h1m3 0h1m7 0h1m1 0h1m5 0h1m8 0h1m7 0h1m5 0h1m5 0h1m8 0h1m7 0h1m2 0h1h1m19 0h1m3 0h1m6 0h1m11 0h1m13 0h1m20 0h1m4 0h1m10 0h1m16 0h1m2 0h1m15 0h1m3 0h1m3 0h1m11 0h1m15 0h1M51 256.5h1m2 0h1m2 0h1m5 0h1h1h1m1 0h1m1 0h1m4 0h1m1 0h1m2 0h1m1 0h1m1 0h1m8 0h1h1h1m4 0h1h1h1m2 0h1h1m1 0h1m3 0h1m1 0h1h1m10 0h1h1m4 0h1m9 0h1m1 0h1m2 0h1m14 0h1m10 0h1h1m1 0h1m8 0h1m3 0h1h1h1m5 0h1h1h1m1 0h1m5 0h1m3 0h1m1 0h1h1m1 0h1m1 0h1m2 0h1h1m1 0h1m6 0h1h1m1 0h1m2 0h1m2 0h1h1m2 0h1m9 0h1h1m5 0h1m11 0h1m2 0h1m1 0h1m2 0h1m9 0h1m10 0h1m1 0h1m15 0h1m1 0h1h1m2 0h1m14 0h1m2 0h1m6 0h1m6 0h1m1 0h1m23 0h1m6 0h1m4 0h1m3 0h1m3 0h1m3 0h1m7 0h1m5 0h1m1 0h1m5 0h1m2 0h1m2 0h1m3 0h1m10 0h1m2 0h1m2 0h1m8 0h1h1h1m11 0h1m1 0h1m5 0h1m11 0h1h1m1 0h1m8 0h1h1m3 0h1h1m3 0h1m8 0h1m8 0h1m1 0h1m9 0h1m19 0h1M52 257.5h1m7 0h1h1m2 0h1h1m6 0h1m4 0h1m19 0h1m6 0h1m3 0h1m1 0h1m1 0h1m3 0h1h1m2 0h1m5 0h1h1h1h1m2 0h1h1h1m2 0h1m13 0h1m2 0h1m5 0h1m7 0h1m4 0h1m3 0h1h1m7 0h1m1 0h1m3 0h1m6 0h1h1h1h1m3 0h1m4 0h1m7 0h1m3 0h1m1 0h1h1m1 0h1m2 0h1m19 0h1m2 0h1h1m5 0h1m8 0h1m3 0h1m9 0h1m6 0h1h1m4 0h1m10 0h1m2 0h1m1 0h1m6 0h1h1m15 0h1m1 0h1m2 0h1m12 0h1m1 0h1m1 0h1m2 0h1h1h1m5 0h1m2 0h1m8 0h1m4 0h1m2 0h1h1m1 0h1m11 0h1m2 0h1m7 0h1m2 0h1m3 0h1m10 0h1h1m13 0h1m1 0h1m8 0h1h1m15 0h1h1m2 0h1m28 0h1m10 0h1m3 0h1m3 0h1m1 0h1m4 0h1m16 0h1m12 0h1m4 0h1M52 258.5h1m1 0h1m16 0h1h1m2 0h1h1m1 0h1m1 0h1m4 0h1m5 0h1m5 0h1m5 0h1m7 0h1m2 0h1h1m3 0h1m1 0h1m4 0h1h1h1h1m4 0h1h1h1m7 0h1m4 0h1m18 0h1h1m2 0h1m15 0h1m1 0h1h1m5 0h1m1 0h1m1 0h1h1h1m10 0h1h1h1m2 0h1h1m1 0h1m1 0h1m11 0h1m1 0h1m1 0h1h1m4 0h1m3 0h1m1 0h1m3 0h1m8 0h1m7 0h1m4 0h1m1 0h1m8 0h1m3 0h1m3 0h1m4 0h1h1m5 0h1h1m2 0h1m5 0h1h1h1h1m5 0h1m1 0h1m4 0h1m11 0h1m4 0h1m6 0h1m2 0h1m1 0h1h1m3 0h1m6 0h1m3 0h1m6 0h1m7 0h1m19 0h1m3 0h1m11 0h1m4 0h1m1 0h1m2 0h1m1 0h1h1m1 0h1h1m20 0h1m11 0h1m13 0h1m14 0h1m2 0h1m15 0h1M58 259.5h1m4 0h1m1 0h1h1h1h1m1 0h1m1 0h1h1m3 0h1m5 0h1h1m1 0h1m8 0h1m4 0h1m1 0h1h1m12 0h1m10 0h1h1m2 0h1h1m11 0h1m7 0h1m4 0h1m1 0h1h1m5 0h1h1m2 0h1m2 0h1m3 0h1h1h1m2 0h1h1m7 0h1m1 0h1m3 0h1m1 0h1m1 0h1m4 0h1m3 0h1h1m1 0h1m3 0h1m8 0h1h1m3 0h1m3 0h1h1m2 0h1h1m4 0h1h1m2 0h1m1 0h1m12 0h1m13 0h1m7 0h1m20 0h1m1 0h1h1m2 0h1m1 0h1m1 0h1m1 0h1m1 0h1m7 0h1m3 0h1m5 0h1h1m13 0h1m2 0h1m1 0h1m3 0h1m24 0h1m9 0h1m9 0h1m1 0h1m15 0h1m1 0h1m1 0h1m3 0h1h1m4 0h1h1m1 0h1m15 0h1h1m4 0h1m13 0h1m12 0h1m12 0h1m14 0h1m22 0h1m5 0h1m2 0h1m8 0h1M61 260.5h1m1 0h1m1 0h1m3 0h1m2 0h1m4 0h1m3 0h1m1 0h1m4 0h1m2 0h1m2 0h1h1m1 0h1m1 0h1h1h1h1m11 0h1m8 0h1h1m5 0h1m2 0h1h1m3 0h1m11 0h1m3 0h1m4 0h1h1h1m5 0h1h1m4 0h1m1 0h1m6 0h1m5 0h1m7 0h1m1 0h1m1 0h1m4 0h1m4 0h1m1 0h1m10 0h1m6 0h1m19 0h1m10 0h1h1m11 0h1m4 0h1h1m3 0h1m6 0h1h1m3 0h1m3 0h1m11 0h1m5 0h1h1m10 0h1m6 0h1h1m4 0h1m4 0h1m1 0h1m1 0h1m6 0h1m5 0h1m8 0h1m4 0h1m6 0h1m16 0h1m18 0h1m7 0h1m5 0h1m3 0h1m7 0h1m2 0h1m1 0h1h1m2 0h1h1m4 0h1m4 0h1m12 0h1m6 0h1h1m2 0h1m16 0h1m3 0h1m10 0h1h1M53 261.5h1m2 0h1h1h1m1 0h1m2 0h1m1 0h1h1m1 0h1m2 0h1h1h1m4 0h1m4 0h1h1m13 0h1m7 0h1m2 0h1m4 0h1m5 0h1m2 0h1m1 0h1m3 0h1m13 0h1m2 0h1h1m1 0h1m1 0h1m5 0h1m1 0h1m5 0h1h1m2 0h1h1m3 0h1h1m4 0h1m4 0h1m1 0h1m4 0h1m2 0h1h1m2 0h1m3 0h1m2 0h1m4 0h1m11 0h1m9 0h1m2 0h1m2 0h1m3 0h1m5 0h1m3 0h1m1 0h1m21 0h1h1h1m15 0h1m9 0h1m1 0h1m8 0h1h1m7 0h1h1m6 0h1h1m6 0h1m1 0h1h1m7 0h1h1m16 0h1m7 0h1m2 0h1m3 0h1m4 0h1m3 0h1m1 0h1m5 0h1m3 0h1m6 0h1m4 0h1h1m3 0h1m3 0h1m1 0h1m1 0h1m10 0h1h1m11 0h1m1 0h1m2 0h1m1 0h1m4 0h1m1 0h1m9 0h1m3 0h1m3 0h1m9 0h1m3 0h1m6 0h1m6 0h1m16 0h1m3 0h1M66 262.5h1m2 0h1h1m4 0h1m1 0h1m2 0h1h1m7 0h1m8 0h1m2 0h1h1h1m1 0h1m3 0h1m7 0h1m1 0h1h1m2 0h1m9 0h1m2 0h1m3 0h1m2 0h1h1m9 0h1m1 0h1m4 0h1m2 0h1m3 0h1h1m3 0h1m3 0h1m1 0h1m3 0h1h1h1h1m4 0h1m5 0h1m1 0h1m1 0h1m3 0h1h1h1m6 0h1m2 0h1m1 0h1m5 0h1m1 0h1m4 0h1m14 0h1m3 0h1m3 0h1m1 0h1m1 0h1m12 0h1h1m2 0h1m4 0h1m10 0h1m1 0h1m4 0h1m3 0h1m3 0h1m2 0h1m6 0h1m4 0h1m6 0h1m1 0h1m1 0h1m4 0h1h1m6 0h1m1 0h1m4 0h1m1 0h1m1 0h1h1m1 0h1m4 0h1m3 0h1m14 0h1m16 0h1h1m1 0h1m11 0h1m15 0h1m2 0h1m2 0h1m3 0h1m20 0h1m28 0h1m7 0h1m10 0h1m22 0h1m2 0h1M51 263.5h1m5 0h1m1 0h1m6 0h1m6 0h1m5 0h1h1m1 0h1m14 0h1m3 0h1m1 0h1m3 0h1m5 0h1m8 0h1m10 0h1m4 0h1h1h1h1m4 0h1h1m1 0h1m5 0h1h1m1 0h1h1h1h1m5 0h1m3 0h1m2 0h1m1 0h1m5 0h1m4 0h1m1 0h1m1 0h1m2 0h1m5 0h1m2 0h1m2 0h1m6 0h1m8 0h1h1m4 0h1m4 0h1m1 0h1m6 0h1m4 0h1m6 0h1m1 0h1h1m5 0h1m4 0h1m2 0h1h1m5 0h1m8 0h1m4 0h1h1m3 0h1m9 0h1m8 0h1m6 0h1m10 0h1m2 0h1m2 0h1m7 0h1m2 0h1m3 0h1m3 0h1m6 0h1m8 0h1m16 0h1h1m3 0h1m2 0h1m4 0h1m1 0h1h1m1 0h1m1 0h1m1 0h1m10 0h1m7 0h1m9 0h1m1 0h1h1m4 0h1m2 0h1m12 0h1m4 0h1m7 0h1m1 0h1m12 0h1m7 0h1M52 264.5h1h1h1m4 0h1h1m15 0h1m1 0h1m7 0h1m8 0h1m4 0h1m3 0h1h1m5 0h1h1m1 0h1m1 0h1m4 0h1m3 0h1m5 0h1h1m4 0h1m3 0h1m1 0h1m5 0h1h1m1 0h1h1m12 0h1m2 0h1m1 0h1m3 0h1m4 0h1h1m7 0h1m2 0h1h1m1 0h1m3 0h1m11 0h1m1 0h1h1h1m2 0h1m1 0h1m11 0h1m3 0h1m1 0h1m8 0h1m2 0h1m3 0h1m13 0h1m3 0h1m1 0h1m3 0h1m4 0h1m3 0h1h1h1m27 0h1m1 0h1m2 0h1m1 0h1m8 0h1m2 0h1m5 0h1m7 0h1m5 0h1m20 0h1m2 0h1m3 0h1m3 0h1h1m7 0h1m2 0h1m1 0h1m1 0h1m5 0h1m17 0h1m1 0h1h1m40 0h1m25 0h1m10 0h1m1 0h1M51 265.5h1h1m2 0h1m1 0h1h1h1h1m2 0h1m1 0h1m5 0h1m1 0h1m2 0h1m7 0h1m2 0h1m2 0h1m3 0h1m1 0h1m7 0h1m2 0h1m1 0h1m2 0h1m1 0h1h1m2 0h1m2 0h1m1 0h1h1m3 0h1m5 0h1m2 0h1h1m2 0h1m1 0h1h1h1m1 0h1h1m2 0h1h1h1m6 0h1m4 0h1m5 0h1m9 0h1m3 0h1h1m2 0h1m2 0h1m4 0h1m6 0h1h1m3 0h1m1 0h1m6 0h1m6 0h1h1m2 0h1h1m4 0h1m1 0h1m6 0h1m1 0h1h1m2 0h1m2 0h1m1 0h1m7 0h1m4 0h1m6 0h1m17 0h1m2 0h1m2 0h1m3 0h1m6 0h1m4 0h1m4 0h1m5 0h1m1 0h1m7 0h1m7 0h1h1m1 0h1m6 0h1m3 0h1h1m11 0h1m9 0h1m6 0h1m11 0h1m1 0h1m2 0h1m5 0h1m3 0h1m11 0h1m4 0h1h1m1 0h1h1m4 0h1m3 0h1m4 0h1m3 0h1m13 0h1m3 0h1m11 0h1m17 0h1m8 0h1M57 266.5h1m1 0h1h1h1h1m2 0h1m7 0h1m5 0h1m2 0h1m2 0h1m1 0h1m6 0h1m6 0h1h1m12 0h1h1m4 0h1h1m1 0h1m3 0h1m2 0h1m1 0h1h1m3 0h1h1m6 0h1h1h1h1h1h1m2 0h1m7 0h1m5 0h1m2 0h1h1h1h1m5 0h1m12 0h1m2 0h1h1m1 0h1m1 0h1h1m4 0h1h1m1 0h1m1 0h1m4 0h1h1m9 0h1h1m3 0h1m3 0h1h1m1 0h1m14 0h1m1 0h1m1 0h1m1 0h1m2 0h1m5 0h1m1 0h1m3 0h1m1 0h1m4 0h1m6 0h1m4 0h1h1m2 0h1m1 0h1m2 0h1m4 0h1h1m1 0h1m5 0h1m10 0h1m8 0h1m3 0h1h1h1m6 0h1m2 0h1m10 0h1m1 0h1m7 0h1m7 0h1m25 0h1m1 0h1m9 0h1h1m3 0h1m3 0h1m11 0h1m19 0h1m3 0h1m15 0h1m8 0h1M52 267.5h1m8 0h1m2 0h1m3 0h1m8 0h1m6 0h1h1m4 0h1h1m3 0h1h1m1 0h1m8 0h1m3 0h1m1 0h1h1m8 0h1m5 0h1h1m2 0h1h1h1m19 0h1m2 0h1m4 0h1m2 0h1m1 0h1m2 0h1m1 0h1h1h1h1m1 0h1m6 0h1m2 0h1m9 0h1m2 0h1m4 0h1m20 0h1h1h1m5 0h1m1 0h1m3 0h1m1 0h1m1 0h1m1 0h1h1h1m5 0h1m1 0h1m2 0h1m6 0h1h1m14 0h1m8 0h1m2 0h1m2 0h1m5 0h1h1h1m1 0h1m2 0h1m6 0h1m6 0h1m1 0h1m3 0h1m8 0h1m2 0h1h1m4 0h1m2 0h1m6 0h1h1m1 0h1m3 0h1m1 0h1m10 0h1m5 0h1m1 0h1h1h1h1m5 0h1m11 0h1m2 0h1m20 0h1m9 0h1m10 0h1m5 0h1m3 0h1m5 0h1M59 268.5h1m1 0h1h1m1 0h1h1m10 0h1m2 0h1m2 0h1h1m7 0h1m4 0h1m2 0h1h1m2 0h1h1h1h1m1 0h1m1 0h1m1 0h1m7 0h1m3 0h1m5 0h1m4 0h1m2 0h1m1 0h1m1 0h1m1 0h1m3 0h1m7 0h1m4 0h1m4 0h1m2 0h1m9 0h1m1 0h1m2 0h1m1 0h1m2 0h1h1m4 0h1h1m1 0h1m11 0h1m2 0h1m4 0h1m1 0h1m3 0h1m2 0h1m1 0h1m4 0h1m4 0h1m2 0h1m3 0h1m5 0h1m7 0h1m7 0h1m3 0h1m9 0h1m3 0h1m4 0h1m5 0h1m2 0h1m1 0h1m3 0h1m4 0h1m6 0h1m2 0h1m5 0h1m7 0h1m3 0h1m20 0h1h1m1 0h1m1 0h1m2 0h1m6 0h1m6 0h1m12 0h1m13 0h1m7 0h1m11 0h1m5 0h1m1 0h1m3 0h1m23 0h1m9 0h1M58 269.5h1m1 0h1h1m1 0h1h1m6 0h1m2 0h1h1m1 0h1m7 0h1m1 0h1h1m3 0h1m5 0h1m2 0h1h1m3 0h1m1 0h1m23 0h1m1 0h1m1 0h1m1 0h1h1m2 0h1m1 0h1h1m1 0h1m4 0h1m13 0h1h1m2 0h1m4 0h1m3 0h1m7 0h1m2 0h1m3 0h1h1h1m4 0h1h1m7 0h1m5 0h1h1m2 0h1m1 0h1m2 0h1m2 0h1m1 0h1m1 0h1m3 0h1m10 0h1m2 0h1h1m13 0h1m1 0h1m2 0h1h1h1m1 0h1m3 0h1h1m1 0h1m7 0h1m2 0h1m1 0h1m5 0h1h1m2 0h1m17 0h1h1m7 0h1m3 0h1m3 0h1m8 0h1m5 0h1m16 0h1m4 0h1m4 0h1m6 0h1m13 0h1m7 0h1m14 0h1h1m1 0h1m10 0h1m6 0h1m4 0h1h1m6 0h1m1 0h1m1 0h1M57 270.5h1m4 0h1h1h1h1m7 0h1m3 0h1m5 0h1m2 0h1m2 0h1m9 0h1m9 0h1m4 0h1m1 0h1h1m2 0h1m3 0h1m6 0h1m5 0h1m6 0h1m1 0h1m1 0h1h1m1 0h1m3 0h1m4 0h1m1 0h1m1 0h1m1 0h1m3 0h1m4 0h1h1m24 0h1m6 0h1m2 0h1h1h1h1h1m7 0h1m1 0h1h1h1m7 0h1m1 0h1m1 0h1m2 0h1m4 0h1m1 0h1m2 0h1m2 0h1m4 0h1h1m6 0h1m2 0h1m7 0h1m10 0h1m4 0h1h1m5 0h1m1 0h1h1h1m12 0h1m2 0h1m5 0h1m14 0h1m2 0h1h1m3 0h1m12 0h1h1m12 0h1m6 0h1m3 0h1m8 0h1m12 0h1m3 0h1m1 0h1m9 0h1m10 0h1m8 0h1m8 0h1m1 0h1M51 271.5h1m9 0h1h1h1m9 0h1h1m1 0h1h1m1 0h1m1 0h1h1m4 0h1h1m2 0h1m6 0h1h1m7 0h1m4 0h1m2 0h1m15 0h1h1m6 0h1h1m12 0h1m2 0h1m2 0h1m2 0h1m5 0h1m5 0h1h1h1h1h1m4 0h1h1m1 0h1m9 0h1m1 0h1h1m3 0h1m3 0h1h1h1m3 0h1h1m1 0h1m2 0h1m3 0h1m2 0h1m3 0h1h1m6 0h1h1m1 0h1m1 0h1m3 0h1m1 0h1m4 0h1h1h1m4 0h1m5 0h1m1 0h1m2 0h1m1 0h1m1 0h1h1m1 0h1m8 0h1m1 0h1m2 0h1m1 0h1m1 0h1m13 0h1m3 0h1m6 0h1h1m3 0h1m14 0h1m4 0h1m10 0h1m9 0h1m4 0h1m1 0h1m2 0h1m9 0h1m5 0h1m1 0h1m6 0h1m7 0h1m1 0h1m1 0h1h1m13 0h1m5 0h1m1 0h1m15 0h1m6 0h1M55 272.5h1m5 0h1m2 0h1m1 0h1m2 0h1m1 0h1h1m1 0h1h1m4 0h1m1 0h1m3 0h1h1h1m3 0h1m3 0h1m4 0h1h1h1h1m2 0h1m5 0h1m1 0h1m3 0h1m1 0h1m7 0h1m2 0h1m15 0h1m12 0h1m3 0h1h1m1 0h1m1 0h1m5 0h1m7 0h1m6 0h1m5 0h1m1 0h1m5 0h1m9 0h1h1m9 0h1m10 0h1h1h1m4 0h1m1 0h1m2 0h1h1m9 0h1m2 0h1m13 0h1m13 0h1m12 0h1m8 0h1m5 0h1h1m1 0h1h1m7 0h1m14 0h1m3 0h1m2 0h1m5 0h1m1 0h1m11 0h1m8 0h1h1m2 0h1m4 0h1h1m2 0h1m6 0h1m17 0h1m4 0h1m1 0h1m2 0h1m9 0h1m1 0h1h1m5 0h1M56 273.5h1m2 0h1m3 0h1m1 0h1h1h1h1h1m6 0h1m2 0h1h1m1 0h1m1 0h1m2 0h1m2 0h1m5 0h1m3 0h1m3 0h1m5 0h1m2 0h1m1 0h1m1 0h1h1m3 0h1h1m6 0h1m1 0h1m2 0h1m3 0h1m1 0h1m1 0h1m2 0h1m5 0h1m3 0h1h1h1m10 0h1m1 0h1m7 0h1m3 0h1h1m3 0h1m1 0h1m1 0h1m1 0h1h1h1h1m5 0h1m9 0h1m2 0h1m6 0h1m3 0h1h1h1m1 0h1m3 0h1h1m1 0h1m18 0h1h1m2 0h1m7 0h1m4 0h1m4 0h1h1m3 0h1h1m3 0h1m1 0h1m4 0h1m4 0h1m1 0h1m1 0h1m12 0h1m3 0h1m15 0h1h1m1 0h1m21 0h1h1m8 0h1m7 0h1m6 0h1m3 0h1m1 0h1m8 0h1m11 0h1h1m1 0h1m8 0h1m10 0h1m10 0h1M52 274.5h1m7 0h1h1m4 0h1m3 0h1m2 0h1m2 0h1m1 0h1m5 0h1m4 0h1m5 0h1h1m2 0h1m1 0h1m4 0h1m1 0h1m2 0h1m4 0h1h1h1h1m8 0h1m2 0h1m2 0h1m12 0h1h1m5 0h1m1 0h1h1h1h1m5 0h1m7 0h1m5 0h1m6 0h1m1 0h1m7 0h1m1 0h1h1m2 0h1m1 0h1m4 0h1h1m3 0h1m6 0h1m2 0h1m2 0h1m3 0h1m2 0h1h1m2 0h1m7 0h1m3 0h1m8 0h1m3 0h1m6 0h1m6 0h1h1m6 0h1m7 0h1h1h1h1m1 0h1m6 0h1m2 0h1m4 0h1m2 0h1h1m3 0h1m5 0h1m6 0h1m5 0h1m20 0h1m5 0h1h1m6 0h1m9 0h1m12 0h1m4 0h1m6 0h1m22 0h1M53 275.5h1m5 0h1m10 0h1m5 0h1h1h1m4 0h1m2 0h1m3 0h1m5 0h1m4 0h1m2 0h1m4 0h1m2 0h1m3 0h1m1 0h1m5 0h1h1h1m2 0h1h1m3 0h1m2 0h1m10 0h1m7 0h1h1h1m2 0h1m1 0h1m11 0h1m3 0h1m1 0h1m1 0h1h1h1m3 0h1m2 0h1h1h1m3 0h1h1h1m13 0h1m7 0h1h1m3 0h1m5 0h1h1m1 0h1m6 0h1m4 0h1m1 0h1m10 0h1m2 0h1h1m5 0h1m1 0h1m3 0h1m3 0h1h1m7 0h1m4 0h1m2 0h1m4 0h1m17 0h1m1 0h1m1 0h1m9 0h1m1 0h1h1m3 0h1h1m10 0h1m1 0h1m6 0h1m2 0h1m4 0h1m5 0h1m2 0h1m11 0h1m3 0h1m2 0h1m1 0h1m3 0h1m5 0h1m11 0h1M52 276.5h1m1 0h1h1m1 0h1m5 0h1m2 0h1m7 0h1m4 0h1h1m6 0h1m2 0h1m1 0h1m5 0h1h1m7 0h1h1m3 0h1m3 0h1h1m2 0h1m2 0h1h1m1 0h1m4 0h1m4 0h1m3 0h1m5 0h1m3 0h1h1m4 0h1h1m1 0h1m3 0h1m1 0h1m2 0h1h1m16 0h1m1 0h1m2 0h1h1m6 0h1m20 0h1h1m10 0h1m3 0h1m1 0h1m4 0h1m7 0h1h1m1 0h1m2 0h1m7 0h1m3 0h1m5 0h1h1m1 0h1m2 0h1m3 0h1m6 0h1m9 0h1m5 0h1m1 0h1m9 0h1m1 0h1h1h1h1m10 0h1m3 0h1m5 0h1h1m8 0h1m3 0h1m6 0h1m3 0h1m25 0h1m8 0h1m6 0h1M55 277.5h1m2 0h1m1 0h1h1h1m13 0h1m17 0h1m10 0h1m7 0h1m7 0h1m2 0h1m1 0h1m1 0h1m1 0h1h1h1m2 0h1m1 0h1h1m1 0h1m14 0h1m7 0h1m5 0h1h1m7 0h1m1 0h1m2 0h1m1 0h1m1 0h1m1 0h1m2 0h1m4 0h1h1m2 0h1m7 0h1m4 0h1m1 0h1m2 0h1m2 0h1m1 0h1m2 0h1m4 0h1m1 0h1h1h1m4 0h1m2 0h1m11 0h1m2 0h1m2 0h1m2 0h1m5 0h1h1m2 0h1h1m3 0h1m3 0h1m1 0h1h1m8 0h1m2 0h1m3 0h1m1 0h1h1m2 0h1m2 0h1m1 0h1h1m3 0h1m1 0h1m1 0h1m13 0h1m2 0h1m2 0h1h1m1 0h1m2 0h1m2 0h1m4 0h1m1 0h1m1 0h1m24 0h1h1m4 0h1m8 0h1m3 0h1m12 0h1m2 0h1M51 278.5h1m6 0h1h1m4 0h1h1m2 0h1h1h1m4 0h1m1 0h1m4 0h1m4 0h1m1 0h1m5 0h1m3 0h1m3 0h1m1 0h1m5 0h1m6 0h1m1 0h1m5 0h1m3 0h1m5 0h1m2 0h1h1m6 0h1m2 0h1m3 0h1h1h1m2 0h1h1m2 0h1m6 0h1h1m1 0h1m7 0h1m1 0h1m2 0h1m1 0h1m1 0h1m9 0h1h1m1 0h1m5 0h1h1m2 0h1m2 0h1m11 0h1h1h1m1 0h1m9 0h1m10 0h1m5 0h1m15 0h1m4 0h1m14 0h1h1m1 0h1m9 0h1m4 0h1m5 0h1m9 0h1m1 0h1h1m4 0h1m5 0h1h1m3 0h1m2 0h1h1m5 0h1m28 0h1m7 0h1m7 0h1M56 279.5h1m4 0h1h1h1m2 0h1m9 0h1h1m3 0h1h1m3 0h1m4 0h1m4 0h1m2 0h1m2 0h1h1m6 0h1h1m1 0h1m2 0h1m2 0h1m1 0h1m4 0h1m3 0h1m16 0h1m4 0h1m1 0h1m11 0h1m1 0h1h1m6 0h1m2 0h1m1 0h1m1 0h1h1m3 0h1m2 0h1m1 0h1h1m8 0h1m10 0h1m3 0h1m4 0h1m1 0h1h1m7 0h1m4 0h1m1 0h1h1h1h1m15 0h1m3 0h1m4 0h1m2 0h1m1 0h1m2 0h1m11 0h1m4 0h1m4 0h1m1 0h1m3 0h1m8 0h1m21 0h1h1m12 0h1m3 0h1m10 0h1m1 0h1m3 0h1m4 0h1m2 0h1m8 0h1m5 0h1m8 0h1M52 280.5h1h1m1 0h1m4 0h1h1h1h1m1 0h1m15 0h1m7 0h1m7 0h1m1 0h1m5 0h1m5 0h1h1h1m3 0h1h1h1m2 0h1m5 0h1m7 0h1m15 0h1m2 0h1h1m3 0h1m1 0h1m1 0h1h1m3 0h1m4 0h1m4 0h1m4 0h1m3 0h1m1 0h1m3 0h1m3 0h1m1 0h1h1m3 0h1m3 0h1h1m1 0h1h1h1m5 0h1h1m4 0h1m11 0h1h1m8 0h1m3 0h1m5 0h1m25 0h1m4 0h1m1 0h1m2 0h1m2 0h1m1 0h1h1m21 0h1m10 0h1m2 0h1h1m3 0h1m7 0h1m1 0h1m33 0h1h1M51 281.5h1h1m2 0h1h1m2 0h1m1 0h1m8 0h1m3 0h1h1m5 0h1h1m3 0h1m1 0h1m6 0h1h1m2 0h1m4 0h1m3 0h1m5 0h1m1 0h1m3 0h1m7 0h1m1 0h1h1m8 0h1h1m3 0h1m1 0h1h1m4 0h1m4 0h1h1m2 0h1m8 0h1m4 0h1m6 0h1m13 0h1m6 0h1m6 0h1m1 0h1h1m9 0h1m6 0h1m7 0h1h1m2 0h1m16 0h1m4 0h1m5 0h1m2 0h1m4 0h1h1m2 0h1m1 0h1m3 0h1m5 0h1m2 0h1m9 0h1h1m1 0h1h1m19 0h1m3 0h1m2 0h1m6 0h1h1m5 0h1m11 0h1m1 0h1m7 0h1M56 282.5h1h1m1 0h1h1h1m1 0h1m2 0h1m1 0h1m4 0h1m1 0h1h1m4 0h1m3 0h1h1h1h1m1 0h1m4 0h1m1 0h1m4 0h1h1m2 0h1m3 0h1m2 0h1m2 0h1m6 0h1m4 0h1m9 0h1h1h1m2 0h1m2 0h1m4 0h1m3 0h1m1 0h1m2 0h1h1m5 0h1m17 0h1m1 0h1m5 0h1m1 0h1h1m3 0h1h1m8 0h1m8 0h1m4 0h1m1 0h1m1 0h1h1h1m4 0h1m1 0h1m14 0h1m2 0h1m8 0h1m10 0h1h1m1 0h1m7 0h1m7 0h1m6 0h1h1m16 0h1m1 0h1m1 0h1h1m6 0h1m1 0h1m8 0h1m15 0h1m13 0h1M57 283.5h1m1 0h1m10 0h1h1m3 0h1m3 0h1h1m3 0h1m5 0h1m2 0h1h1m2 0h1h1h1h1m1 0h1m12 0h1m2 0h1m8 0h1m9 0h1m8 0h1m6 0h1m11 0h1h1m3 0h1h1h1m2 0h1m2 0h1m10 0h1m5 0h1m2 0h1m1 0h1m1 0h1h1m2 0h1m7 0h1m5 0h1m3 0h1m2 0h1h1h1m2 0h1m7 0h1m4 0h1m1 0h1m2 0h1m2 0h1h1h1m10 0h1m13 0h1m1 0h1m2 0h1h1m3 0h1m7 0h1m6 0h1m14 0h1m1 0h1m4 0h1m22 0h1m9 0h1m5 0h1M60 284.5h1m2 0h1m11 0h1h1h1h1h1m1 0h1m4 0h1m6 0h1m1 0h1h1m1 0h1m2 0h1m1 0h1m10 0h1h1m4 0h1m1 0h1m9 0h1m6 0h1m3 0h1m2 0h1h1m5 0h1m1 0h1m4 0h1m2 0h1h1m6 0h1h1m4 0h1m5 0h1m2 0h1m4 0h1h1m1 0h1m9 0h1m8 0h1m10 0h1m7 0h1h1m4 0h1h1h1m10 0h1h1m2 0h1m9 0h1m16 0h1m1 0h1m6 0h1h1m1 0h1m9 0h1h1m2 0h1m3 0h1m3 0h1m6 0h1m19 0h1h1m8 0h1m1 0h1M51 285.5h1m3 0h1m2 0h1h1h1h1h1m1 0h1m1 0h1m5 0h1m11 0h1m1 0h1h1h1m10 0h1m2 0h1m6 0h1h1h1m11 0h1m2 0h1m1 0h1h1h1m2 0h1m7 0h1m2 0h1h1m1 0h1m2 0h1h1h1h1m1 0h1m5 0h1m2 0h1m5 0h1h1h1h1m4 0h1m3 0h1h1m8 0h1h1h1m9 0h1h1h1h1m1 0h1h1h1m4 0h1m5 0h1m1 0h1m4 0h1m5 0h1m4 0h1h1m1 0h1h1m7 0h1m1 0h1m4 0h1m2 0h1m7 0h1h1m6 0h1m3 0h1m5 0h1h1h1m4 0h1m1 0h1m9 0h1m9 0h1m2 0h1m5 0h1m1 0h1m2 0h1m4 0h1m2 0h1m16 0h1m1 0h1M51 286.5h1m10 0h1m2 0h1m1 0h1m1 0h1m4 0h1m2 0h1h1h1m4 0h1h1m4 0h1h1m3 0h1m6 0h1h1m2 0h1m13 0h1m3 0h1h1m5 0h1m10 0h1m3 0h1m5 0h1h1m3 0h1m15 0h1m9 0h1m2 0h1m2 0h1m3 0h1m3 0h1m5 0h1m1 0h1m6 0h1m6 0h1m1 0h1h1m4 0h1h1m4 0h1m2 0h1m5 0h1m1 0h1m1 0h1m1 0h1h1m3 0h1m9 0h1m1 0h1m1 0h1m12 0h1m2 0h1m9 0h1m11 0h1m4 0h1h1m5 0h1h1m1 0h1m18 0h1m4 0h1M57 287.5h1h1m1 0h1h1m1 0h1m4 0h1m1 0h1h1m13 0h1h1m3 0h1m3 0h1m1 0h1m1 0h1m2 0h1m1 0h1m5 0h1m10 0h1h1m3 0h1h1m14 0h1h1m6 0h1m3 0h1m2 0h1m5 0h1m8 0h1h1h1h1m12 0h1m9 0h1m4 0h1m1 0h1m4 0h1h1m4 0h1m3 0h1h1m2 0h1m6 0h1m3 0h1m2 0h1h1m2 0h1m1 0h1m2 0h1h1m10 0h1m3 0h1h1h1m10 0h1m3 0h1m1 0h1h1h1m17 0h1m1 0h1m5 0h1m4 0h1m5 0h1m6 0h1m1 0h1h1M51 288.5h1m3 0h1m1 0h1m3 0h1m1 0h1h1h1m2 0h1h1m8 0h1m2 0h1m1 0h1m1 0h1m5 0h1h1m5 0h1m3 0h1m2 0h1m10 0h1m3 0h1m2 0h1h1h1m1 0h1m5 0h1m1 0h1m1 0h1m3 0h1h1m2 0h1m2 0h1h1m1 0h1m1 0h1m1 0h1m8 0h1m8 0h1m1 0h1m3 0h1m3 0h1h1h1m1 0h1h1m4 0h1h1h1m3 0h1m9 0h1m3 0h1h1m5 0h1m3 0h1m8 0h1m5 0h1m10 0h1m15 0h1m7 0h1h1m7 0h1m8 0h1h1m1 0h1m5 0h1h1h1h1m3 0h1m8 0h1m6 0h1m5 0h1M58 289.5h1m1 0h1m3 0h1m3 0h1m8 0h1h1m1 0h1m8 0h1h1m5 0h1m10 0h1m5 0h1m1 0h1h1m13 0h1h1m2 0h1m2 0h1h1h1m4 0h1m3 0h1h1m6 0h1m2 0h1m1 0h1m11 0h1h1m2 0h1m1 0h1h1m8 0h1m11 0h1h1h1h1m10 0h1m1 0h1m1 0h1m8 0h1h1m4 0h1m2 0h1h1m1 0h1h1m2 0h1m1 0h1h1m2 0h1h1m4 0h1h1m10 0h1m11 0h1m6 0h1h1m6 0h1m6 0h1h1m1 0h1m7 0h1M57 290.5h1m5 0h1m2 0h1m9 0h1h1h1m4 0h1m3 0h1h1m7 0h1h1m1 0h1m1 0h1m4 0h1m7 0h1m3 0h1m3 0h1m1 0h1m7 0h1m11 0h1h1m1 0h1m2 0h1m4 0h1m6 0h1h1m2 0h1m3 0h1m2 0h1m5 0h1h1m6 0h1m6 0h1m3 0h1m1 0h1h1m7 0h1m2 0h1h1m3 0h1m10 0h1m3 0h1m2 0h1m2 0h1m3 0h1m4 0h1m8 0h1m13 0h1h1m2 0h1m2 0h1m2 0h1m15 0h1m6 0h1m1 0h1m5 0h1m10 0h1h1m2 0h1m1 0h1M51 291.5h1m7 0h1m6 0h1h1m8 0h1m1 0h1h1m4 0h1m7 0h1h1m14 0h1m2 0h1m1 0h1m4 0h1h1m5 0h1m4 0h1h1m3 0h1h1m9 0h1m1 0h1m11 0h1m6 0h1h1m3 0h1m1 0h1h1m3 0h1m3 0h1h1h1h1h1m3 0h1m6 0h1m2 0h1m8 0h1m1 0h1m9 0h1m2 0h1m1 0h1m1 0h1h1h1h1m18 0h1m1 0h1h1h1m2 0h1m2 0h1h1m8 0h1m8 0h1m2 0h1m8 0h1m1 0h1m6 0h1h1M56 292.5h1m1 0h1m1 0h1h1m1 0h1m1 0h1h1m15 0h1m5 0h1h1m3 0h1h1m1 0h1m5 0h1m4 0h1h1m5 0h1m18 0h1m10 0h1h1m2 0h1m4 0h1h1m1 0h1m5 0h1m11 0h1m7 0h1m1 0h1m12 0h1m1 0h1m6 0h1m1 0h1m12 0h1m3 0h1m4 0h1m3 0h1h1m3 0h1m1 0h1h1h1m1 0h1m10 0h1m7 0h1m5 0h1m5 0h1m1 0h1m2 0h1h1m6 0h1h1m3 0h1m14 0h1M61 293.5h1m1 0h1m2 0h1m1 0h1h1m2 0h1m4 0h1m1 0h1m1 0h1m2 0h1m1 0h1m2 0h1m2 0h1m6 0h1m2 0h1m6 0h1m5 0h1h1m4 0h1h1m1 0h1m3 0h1m3 0h1m6 0h1m5 0h1m1 0h1m6 0h1m1 0h1h1m7 0h1m3 0h1m1 0h1h1m5 0h1m4 0h1m4 0h1m3 0h1m3 0h1m1 0h1m8 0h1m1 0h1m1 0h1m9 0h1m1 0h1m10 0h1m5 0h1m7 0h1h1h1m8 0h1h1m8 0h1m5 0h1m1 0h1m14 0h1h1m14 0h1M58 294.5h1m1 0h1m3 0h1m13 0h1h1m6 0h1m6 0h1m2 0h1m2 0h1m3 0h1m1 0h1m4 0h1h1m8 0h1h1m1 0h1m1 0h1m5 0h1m6 0h1m9 0h1m1 0h1m1 0h1m1 0h1m6 0h1m10 0h1m1 0h1m3 0h1m2 0h1m1 0h1m4 0h1m1 0h1m3 0h1m2 0h1m17 0h1m1 0h1m4 0h1m12 0h1h1m5 0h1m7 0h1m3 0h1m2 0h1m6 0h1m1 0h1m1 0h1m3 0h1h1m2 0h1m4 0h1m5 0h1M53 295.5h1h1m4 0h1m5 0h1m4 0h1m3 0h1m3 0h1h1m2 0h1m3 0h1h1m3 0h1m9 0h1h1m5 0h1h1m3 0h1m4 0h1m1 0h1m7 0h1h1h1m1 0h1m1 0h1m6 0h1m2 0h1m7 0h1h1m1 0h1m2 0h1m1 0h1m1 0h1h1h1m10 0h1m9 0h1m1 0h1h1m1 0h1h1m6 0h1h1h1m9 0h1m4 0h1m11 0h1m6 0h1m9 0h1m12 0h1m21 0h1h1m16 0h1M54 296.5h1m1 0h1m4 0h1m2 0h1h1m3 0h1h1m3 0h1m1 0h1m2 0h1h1h1m2 0h1m2 0h1m3 0h1m6 0h1h1h1h1m4 0h1m3 0h1m7 0h1m1 0h1m6 0h1m8 0h1m3 0h1h1h1m3 0h1m1 0h1m1 0h1m5 0h1m1 0h1m7 0h1m1 0h1m1 0h1h1m3 0h1m5 0h1m4 0h1h1m2 0h1m3 0h1h1m2 0h1m16 0h1m7 0h1h1m8 0h1m1 0h1m2 0h1h1m12 0h1m1 0h1m7 0h1M51 297.5h1m4 0h1h1m4 0h1m3 0h1m2 0h1h1m5 0h1m2 0h1h1m1 0h1m1 0h1m2 0h1m4 0h1m13 0h1h1m3 0h1h1m4 0h1m2 0h1m1 0h1m2 0h1m5 0h1h1h1h1m2 0h1h1m3 0h1m2 0h1h1m8 0h1m1 0h1m3 0h1h1h1m5 0h1m2 0h1m6 0h1m6 0h1h1m4 0h1m13 0h1m5 0h1m6 0h1m2 0h1m7 0h1m5 0h1m3 0h1h1h1m12 0h1h1m4 0h1m3 0h1h1h1M59 298.5h1h1h1h1m1 0h1h1m19 0h1m1 0h1m1 0h1h1h1h1m1 0h1m8 0h1m3 0h1m2 0h1m2 0h1h1m4 0h1m4 0h1m4 0h1m1 0h1m2 0h1m3 0h1h1m6 0h1m14 0h1m9 0h1m4 0h1m4 0h1m1 0h1m2 0h1m1 0h1h1m1 0h1m3 0h1h1h1h1h1m9 0h1m1 0h1m1 0h1m16 0h1m10 0h1m8 0h1m11 0h1m2 0h1M55 299.5h1h1m4 0h1h1h1m2 0h1m2 0h1m1 0h1m3 0h1m6 0h1m5 0h1h1m7 0h1h1m3 0h1m2 0h1m5 0h1m1 0h1h1m13 0h1m8 0h1h1m4 0h1h1m2 0h1m8 0h1m10 0h1m4 0h1m9 0h1m2 0h1m2 0h1m4 0h1m2 0h1m15 0h1m2 0h1h1m13 0h1h1m10 0h1m3 0h1m1 0h1M52 300.5h1m1 0h1m2 0h1m2 0h1m3 0h1m4 0h1m5 0h1m3 0h1m5 0h1m4 0h1h1m8 0h1m1 0h1m2 0h1m2 0h1h1m2 0h1m6 0h1m3 0h1m6 0h1h1m9 0h1m1 0h1h1m3 0h1m7 0h1m2 0h1h1m3 0h1m3 0h1m12 0h1m2 0h1m1 0h1m10 0h1m2 0h1m3 0h1h1m2 0h1h1m4 0h1m2 0h1m2 0h1m1 0h1m8 0h1m1 0h1m3 0h1m2 0h1h1m1 0h1M53 301.5h1h1m2 0h1h1m2 0h1m2 0h1m2 0h1m1 0h1m8 0h1h1h1m6 0h1m1 0h1m1 0h1m18 0h1m4 0h1m2 0h1m7 0h1m5 0h1m9 0h1h1h1m4 0h1h1m6 0h1m2 0h1m2 0h1m4 0h1m5 0h1m2 0h1m10 0h1m2 0h1m1 0h1h1m1 0h1m6 0h1h1m3 0h1m1 0h1m3 0h1m10 0h1m26 0h1M51 302.5h1h1m3 0h1h1h1m2 0h1m1 0h1h1h1m2 0h1m4 0h1m6 0h1m10 0h1m6 0h1m2 0h1m2 0h1m1 0h1m2 0h1m7 0h1m5 0h1m9 0h1m3 0h1m14 0h1m2 0h1m13 0h1h1m4 0h1m1 0h1m4 0h1m3 0h1m6 0h1m2 0h1m3 0h1m1 0h1m2 0h1m3 0h1m3 0h1h1m10 0h1h1m11 0h1h1m3 0h1m4 0h1M55 303.5h1h1m1 0h1h1m1 0h1h1m1 0h1m6 0h1m2 0h1m2 0h1m1 0h1m15 0h1h1h1m15 0h1h1h1m3 0h1m4 0h1h1m5 0h1h1m9 0h1h1m3 0h1h1m2 0h1m1 0h1h1m5 0h1m6 0h1m2 0h1h1m4 0h1m1 0h1h1m2 0h1m7 0h1m4 0h1m2 0h1h1m4 0h1m1 0h1m7 0h1m9 0h1h1m2 0h1h1M51 304.5h1m7 0h1m1 0h1h1m4 0h1m4 0h1h1h1m8 0h1m5 0h1m1 0h1h1h1m7 0h1h1m8 0h1m1 0h1m10 0h1m25 0h1m4 0h1h1h1m2 0h1m7 0h1h1m2 0h1m12 0h1h1m3 0h1m5 0h1h1h1m9 0h1m2 0h1m2 0h1m5 0h1h1m7 0h1m5 0h1M51 305.5h1m3 0h1h1h1m5 0h1h1m2 0h1m8 0h1m7 0h1m8 0h1m3 0h1m2 0h1h1m3 0h1m3 0h1m3 0h1m1 0h1m5 0h1h1h1m3 0h1m5 0h1h1h1m6 0h1m2 0h1m2 0h1m2 0h1m1 0h1m8 0h1m5 0h1h1h1h1m1 0h1h1m14 0h1m8 0h1m1 0h1m1 0h1m6 0h1m3 0h1m5 0h1m4 0h1M52 306.5h1m5 0h1h1m1 0h1m3 0h1h1h1m2 0h1m2 0h1m2 0h1h1h1m1 0h1m6 0h1m2 0h1m4 0h1m3 0h1m1 0h1m7 0h1h1m9 0h1m1 0h1m1 0h1h1m2 0h1m1 0h1m1 0h1m11 0h1h1m1 0h1m4 0h1h1m10 0h1h1h1m3 0h1h1h1h1m1 0h1m6 0h1m2 0h1m2 0h1m2 0h1h1m1 0h1m2 0h1m4 0h1m4 0h1m16 0h1M53 307.5h1h1h1h1m1 0h1m3 0h1m3 0h1m5 0h1h1m3 0h1h1h1m2 0h1m1 0h1h1m3 0h1m3 0h1m7 0h1m1 0h1m1 0h1m1 0h1h1h1m12 0h1m5 0h1m1 0h1m10 0h1h1h1h1m1 0h1m2 0h1h1h1m3 0h1m5 0h1m12 0h1m9 0h1m1 0h1m2 0h1m9 0h1h1M58 308.5h1h1m3 0h1m2 0h1m1 0h1h1h1m7 0h1m5 0h1m3 0h1m1 0h1h1h1h1m2 0h1h1m2 0h1m1 0h1h1h1h1h1h1m15 0h1m5 0h1m1 0h1m12 0h1m2 0h1m8 0h1m3 0h1m1 0h1m1 0h1m9 0h1h1m1 0h1m17 0h1m1 0h1m12 0h1m3 0h1M52 309.5h1h1h1m2 0h1m1 0h1m6 0h1h1m1 0h1h1m2 0h1m1 0h1h1h1m1 0h1h1m6 0h1m6 0h1m1 0h1m3 0h1m2 0h1m1 0h1m6 0h1h1h1m3 0h1m3 0h1m4 0h1m1 0h1m10 0h1m4 0h1h1m2 0h1m5 0h1m4 0h1m1 0h1m19 0h1m1 0h1h1m5 0h1m6 0h1M55 310.5h1h1h1h1m2 0h1h1h1m4 0h1h1m5 0h1m2 0h1m5 0h1h1h1m8 0h1h1h1m3 0h1m2 0h1m5 0h1h1m4 0h1m5 0h1m3 0h1m1 0h1m4 0h1h1h1m1 0h1m14 0h1m2 0h1m5 0h1m5 0h1m2 0h1m2 0h1m6 0h1m1 0h1m10 0h1m7 0h1M58 311.5h1m8 0h1m9 0h1m1 0h1m2 0h1m1 0h1h1h1h1m8 0h1m3 0h1m2 0h1m5 0h1m3 0h1h1h1m3 0h1h1m1 0h1m2 0h1m3 0h1h1m2 0h1m5 0h1h1m4 0h1m1 0h1m2 0h1m1 0h1m19 0h1m17 0h1M59 312.5h1m4 0h1m1 0h1m2 0h1h1m16 0h1h1m5 0h1m2 0h1m3 0h1m1 0h1h1h1m1 0h1m8 0h1m3 0h1m1 0h1h1m4 0h1m1 0h1m8 0h1m10 0h1m4 0h1m7 0h1m2 0h1m6 0h1m5 0h1M57 313.5h1h1m3 0h1m5 0h1m5 0h1m5 0h1m7 0h1m1 0h1h1m2 0h1m4 0h1h1h1m5 0h1m1 0h1m1 0h1h1h1m1 0h1h1m8 0h1m3 0h1m3 0h1m4 0h1m3 0h1m1 0h1m2 0h1m1 0h1m10 0h1m14 0h1m6 0h1m2 0h1M52 314.5h1h1m4 0h1m4 0h1h1m12 0h1m2 0h1h1m5 0h1h1h1m4 0h1m1 0h1m15 0h1h1m3 0h1m7 0h1m2 0h1h1m1 0h1m3 0h1m3 0h1m4 0h1m1 0h1m3 0h1m8 0h1m4 0h1h1m3 0h1m5 0h1M53 315.5h1h1m5 0h1m1 0h1m3 0h1m1 0h1m1 0h1h1m1 0h1m6 0h1m2 0h1m5 0h1m4 0h1m3 0h1m1 0h1m5 0h1m4 0h1m1 0h1m1 0h1h1m14 0h1m2 0h1m2 0h1m1 0h1m6 0h1m3 0h1M51 316.5h1m4 0h1m1 0h1h1m3 0h1h1m1 0h1h1h1m1 0h1m1 0h1h1m1 0h1m2 0h1h1m1 0h1m6 0h1m3 0h1h1m2 0h1m2 0h1m1 0h1h1h1m1 0h1m3 0h1m3 0h1m3 0h1h1m4 0h1h1h1m4 0h1m4 0h1h1h1m8 0h1m5 0h1m3 0h1m2 0h1M51 317.5h1h1m3 0h1m1 0h1m11 0h1h1m1 0h1m1 0h1h1m4 0h1h1m1 0h1m2 0h1m2 0h1h1m4 0h1m1 0h1m4 0h1h1m2 0h1h1m4 0h1m8 0h1m3 0h1m10 0h1m3 0h1h1m1 0h1m3 0h1m1 0h1m18 0h1M52 318.5h1m1 0h1m8 0h1h1m10 0h1m13 0h1m1 0h1m2 0h1h1h1m8 0h1m3 0h1m1 0h1h1m4 0h1m1 0h1h1m1 0h1m4 0h1h1m2 0h1h1m1 0h1m12 0h1m8 0h1m2 0h1M53 319.5h1h1h1h1m2 0h1h1h1m1 0h1m1 0h1h1h1m1 0h1h1m3 0h1h1m2 0h1h1h1h1m1 0h1m1 0h1m2 0h1h1m10 0h1h1m1 0h1m3 0h1m1 0h1m7 0h1m2 0h1m1 0h1m9 0h1h1m5 0h1h1h1h1h1h1m1 0h1M51 320.5h1m6 0h1m1 0h1h1h1m2 0h1m3 0h1m2 0h1h1m6 0h1h1m3 0h1h1h1h1m4 0h1m3 0h1h1h1m2 0h1m3 0h1m2 0h1m2 0h1h1m17 0h1m2 0h1M55 321.5h1m1 0h1m8 0h1m3 0h1m5 0h1m5 0h1m3 0h1h1m3 0h1m1 0h1m10 0h1h1m7 0h1h1m2 0h1m4 0h1m1 0h1h1m1 0h1h1m1 0h1m10 0h1m5 0h1M51 322.5h1m4 0h1m12 0h1m5 0h1m3 0h1m1 0h1m1 0h1h1m3 0h1m9 0h1m5 0h1m3 0h1m1 0h1m5 0h1h1m1 0h1m10 0h1M55 323.5h1m4 0h1m1 0h1h1h1m9 0h1h1h1m2 0h1m3 0h1m2 0h1m4 0h1m2 0h1h1m3 0h1m8 0h1m1 0h1m9 0h1M57 324.5h1h1m2 0h1m14 0h1m8 0h1h1m4 0h1m8 0h1m3 0h1m1 0h1m4 0h1m2 0h1m2 0h1m10 0h1M54 325.5h1h1m4 0h1m1 0h1m1 0h1m2 0h1m2 0h1h1h1m2 0h1h1m1 0h1h1m8 0h1m1 0h1m1 0h1m1 0h1m6 0h1m1 0h1h1h1M51 326.5h1m1 0h1m1 0h1m3 0h1m9 0h1m10 0h1m4 0h1h1m1 0h1m6 0h1m9 0h1m6 0h1h1m2 0h1m11 0h1M57 327.5h1m4 0h1m6 0h1m9 0h1m8 0h1h1h1m1 0h1m2 0h1m11 0h1M51 328.5h1m6 0h1m1 0h1h1m2 0h1h1m2 0h1m2 0h1m1 0h1m4 0h1m4 0h1m3 0h1h1h1h1m4 0h1m9 0h1m3 0h1m11 0h1M53 329.5h1m2 0h1m1 0h1h1m2 0h1h1m4 0h1m8 0h1m1 0h1m2 0h1m1 0h1h1h1m2 0h1m4 0h1h1h1m4 0h1m4 0h1m7 0h1M53 330.5h1h1m3 0h1m1 0h1h1h1m5 0h1m3 0h1m8 0h1h1h1m8 0h1m5 0h1m8 0h1M51 331.5h1h1m7 0h1m5 0h1m4 0h1h1m1 0h1m4 0h1m5 0h1m1 0h1m2 0h1m9 0h1m2 0h1h1M53 332.5h1m1 0h1m1 0h1m6 0h1h1m3 0h1m4 0h1m1 0h1m5 0h1m1 0h1m1 0h1h1m3 0h1m9 0h1M51 333.5h1h1m6 0h1h1m10 0h1m1 0h1h1m6 0h1h1h1m9 0h1M54 334.5h1m20 0h1h1m1 0h1m2 0h1h1m4 0h1h1m2 0h1h1h1m2 0h1h1m3 0h1M57 335.5h1m2 0h1m5 0h1m4 0h1m6 0h1m2 0h1m1 0h1m1 0h1h1h1h1m1 0h1M51 336.5h1m2 0h1m1 0h1m1 0h1m3 0h1h1m4 0h1m2 0h1m1 0h1m3 0h1m10 0h1m4 0h1M56 337.5h1m3 0h1m1 0h1h1h1h1m1 0h1m1 0h1m1 0h1h1m3 0h1m9 0h1M52 338.5h1m4 0h1m2 0h1h1m1 0h1m5 0h1m3 0h1h1m6 0h1m4 0h1M53 339.5h1h1m1 0h1h1m4 0h1m7 0h1m7 0h1M52 340.5h1m4 0h1m1 0h1m2 0h1m7 0h1h1M58 341.5h1m2 0h1m4 0h1m5 0h1h1M52 342.5h1m11 0h1h1h1m2 0h1h1M54 343.5h1h1h1m1 0h1h1m3 0h1m1 0h1h1m1 0h1m9 0h1M54 344.5h1m5 0h1h1h1M51 345.5h1h1m4 0h1h1m4 0h1m4 0h1M51 346.5h1h1h1m7 0h1m1 0h1m2 0h1M51 347.5h1m2 0h1m4 0h1m1 0h1m2 0h1M52 348.5h1M60 349.5h1m1 0h1M54 350.5h1M54 351.5h1m1 0h1M51 353.5h1m5 0h1M54 354.5h1h1M51 355.5h1m2 0h1h1M52 359.5h1M51 361.5h1h1" stroke="#9400d3" stroke-width="1"/>
</g>
<polyline points="50.5,313.5 51.5,306.5 52.5,296.5 53.5,290.5 54.5,282.5 57.5,277.5 59.5,274.5 63.5,275.5 71.5,272.5 77.5,267.5 82.5,272.5 88.5,269.5 96.5,260.5 105.5,253.5 111.5,255.5 121.5,255.5 129.5,258.5 135.5,250.5 143.5,252.5 145.5,253.5 150.5,247.5 155.5,248.5 160.5,244.5 166.5,245.5 172.5,240.5 178.5,240.5 193.5,230.5 199.5,237.5 205.5,235.5 210.5,237.5 220.5,232.5 226.5,237.5 244.5,227.5 249.5,230.5 267.5,224.5 273.5,228.5 285.5,221.5 300.5,215.5 305.5,215.5 310.5,218.5 319.5,215.5 325.5,216.5 330.5,219.5 338.5,218.5 348.5,213.5 356.5,213.5 365.5,213.5 371.5,205.5 378.5,205.5 386.5,210.5 393.5,210.5 400.5,208.5 410.5,203.5 418.5,202.5 423.5,203.5 431.5,199.5 440.5,200.5 446.5,193.5 450.5,193.5 455.5,196.5 463.5,193.5 473.5,193.5 481.5,195.5 491.5,195.5 506.5,191.5 516.5,190.5 525.5,187.5 546.5,183.5 558.5,183.5 570.5,180.5 580.5,177.5 586.5,177.5 601.5,180.5 625.5,170.5 638.5,175.5 650.5,175.5 665.5,178.5 683.5,170.5 693.5,167.5 708.5,168.5 726.5,161.5 743.5,161.5 764.5,153.5 788.5,155.5 813.5,154.5 851.5,145.5 936.5,182.5" fill="none" stroke="#56b4e9" stroke-width="1.2" stroke-linejoin="round"/>
<g shape-rendering="crispEdges" fill="none" stroke="#000" stroke-width="1">
<rect x="50.5" y="36.5" width="888" height="357"/>
</g>
<g filter="url(#gs)">
<text x="319.04" y="21.05" font-size="12.40" textLength="56.19" lengthAdjust="spacingAndGlyphs">[elm3a77]</text>
<text x="378.04" y="21.05" font-size="12.40" textLength="37.82" lengthAdjust="spacingAndGlyphs">Maxtor</text>
<text x="419.07" y="21.05" font-size="12.40" textLength="46.50" lengthAdjust="spacingAndGlyphs">8J073J0</text>
<text x="468.07" y="21.05" font-size="12.40" textLength="100.29" lengthAdjust="spacingAndGlyphs">GNS073C3ESTT0Z</text>
<text x="571.89" y="21.05" font-size="12.40" textLength="20.18" lengthAdjust="spacingAndGlyphs">73G</text>
<text x="595.26" y="21.05" font-size="12.40" textLength="45.05" lengthAdjust="spacingAndGlyphs">10kRPM</text>
<text x="642.72" y="21.05" font-size="12.40" textLength="25.74" lengthAdjust="spacingAndGlyphs">SCSI</text>
<text x="440.30" y="425.80" font-size="12.10" textLength="26.66" lengthAdjust="spacingAndGlyphs">Seek</text>
<text x="470.35" y="425.80" font-size="12.10" textLength="47.09" lengthAdjust="spacingAndGlyphs">distance</text>
<text x="520.11" y="425.80" font-size="12.10" textLength="26.00" lengthAdjust="spacingAndGlyphs">(MB)</text>
<text transform="translate(12.60,261.04) rotate(-90)" font-size="12.10" textLength="27.45" lengthAdjust="spacingAndGlyphs">Seek</text>
<text transform="translate(12.60,231.13) rotate(-90)" font-size="12.10" textLength="35.57" lengthAdjust="spacingAndGlyphs">Speed</text>
<text transform="translate(12.60,192.65) rotate(-90)" font-size="12.10" textLength="24.96" lengthAdjust="spacingAndGlyphs">(ms)</text>
<text x="50.5" y="407.9" text-anchor="middle" font-size="12.3" textLength="6.6" lengthAdjust="spacingAndGlyphs">0</text>
<text x="177.5" y="407.9" text-anchor="middle" font-size="12.3" textLength="33.7" lengthAdjust="spacingAndGlyphs">10000</text>
<text x="304.5" y="407.9" text-anchor="middle" font-size="12.3" textLength="33.7" lengthAdjust="spacingAndGlyphs">20000</text>
<text x="431.5" y="407.9" text-anchor="middle" font-size="12.3" textLength="33.7" lengthAdjust="spacingAndGlyphs">30000</text>
<text x="557.5" y="407.9" text-anchor="middle" font-size="12.3" textLength="33.7" lengthAdjust="spacingAndGlyphs">40000</text>
<text x="684.5" y="407.9" text-anchor="middle" font-size="12.3" textLength="33.7" lengthAdjust="spacingAndGlyphs">50000</text>
<text x="811.5" y="407.9" text-anchor="middle" font-size="12.3" textLength="33.7" lengthAdjust="spacingAndGlyphs">60000</text>
<text x="938.5" y="407.9" text-anchor="middle" font-size="12.3" textLength="33.7" lengthAdjust="spacingAndGlyphs">70000</text>
<text x="42.5" y="396.2" text-anchor="end" font-size="12.3" textLength="6.6" lengthAdjust="spacingAndGlyphs">0</text>
<text x="42.5" y="348.6" text-anchor="end" font-size="12.3" textLength="6.6" lengthAdjust="spacingAndGlyphs">2</text>
<text x="42.5" y="301.1" text-anchor="end" font-size="12.3" textLength="6.6" lengthAdjust="spacingAndGlyphs">4</text>
<text x="42.5" y="253.4" text-anchor="end" font-size="12.3" textLength="6.6" lengthAdjust="spacingAndGlyphs">6</text>
<text x="42.5" y="205.8" text-anchor="end" font-size="12.3" textLength="6.6" lengthAdjust="spacingAndGlyphs">8</text>
<text x="42.7" y="158.2" text-anchor="end" font-size="12.3" textLength="13.7" lengthAdjust="spacingAndGlyphs">10</text>
<text x="42.7" y="110.6" text-anchor="end" font-size="12.3" textLength="13.7" lengthAdjust="spacingAndGlyphs">12</text>
<text x="42.7" y="63.1" text-anchor="end" font-size="12.3" textLength="13.7" lengthAdjust="spacingAndGlyphs">14</text>
</g>
</svg>
</body></html>
